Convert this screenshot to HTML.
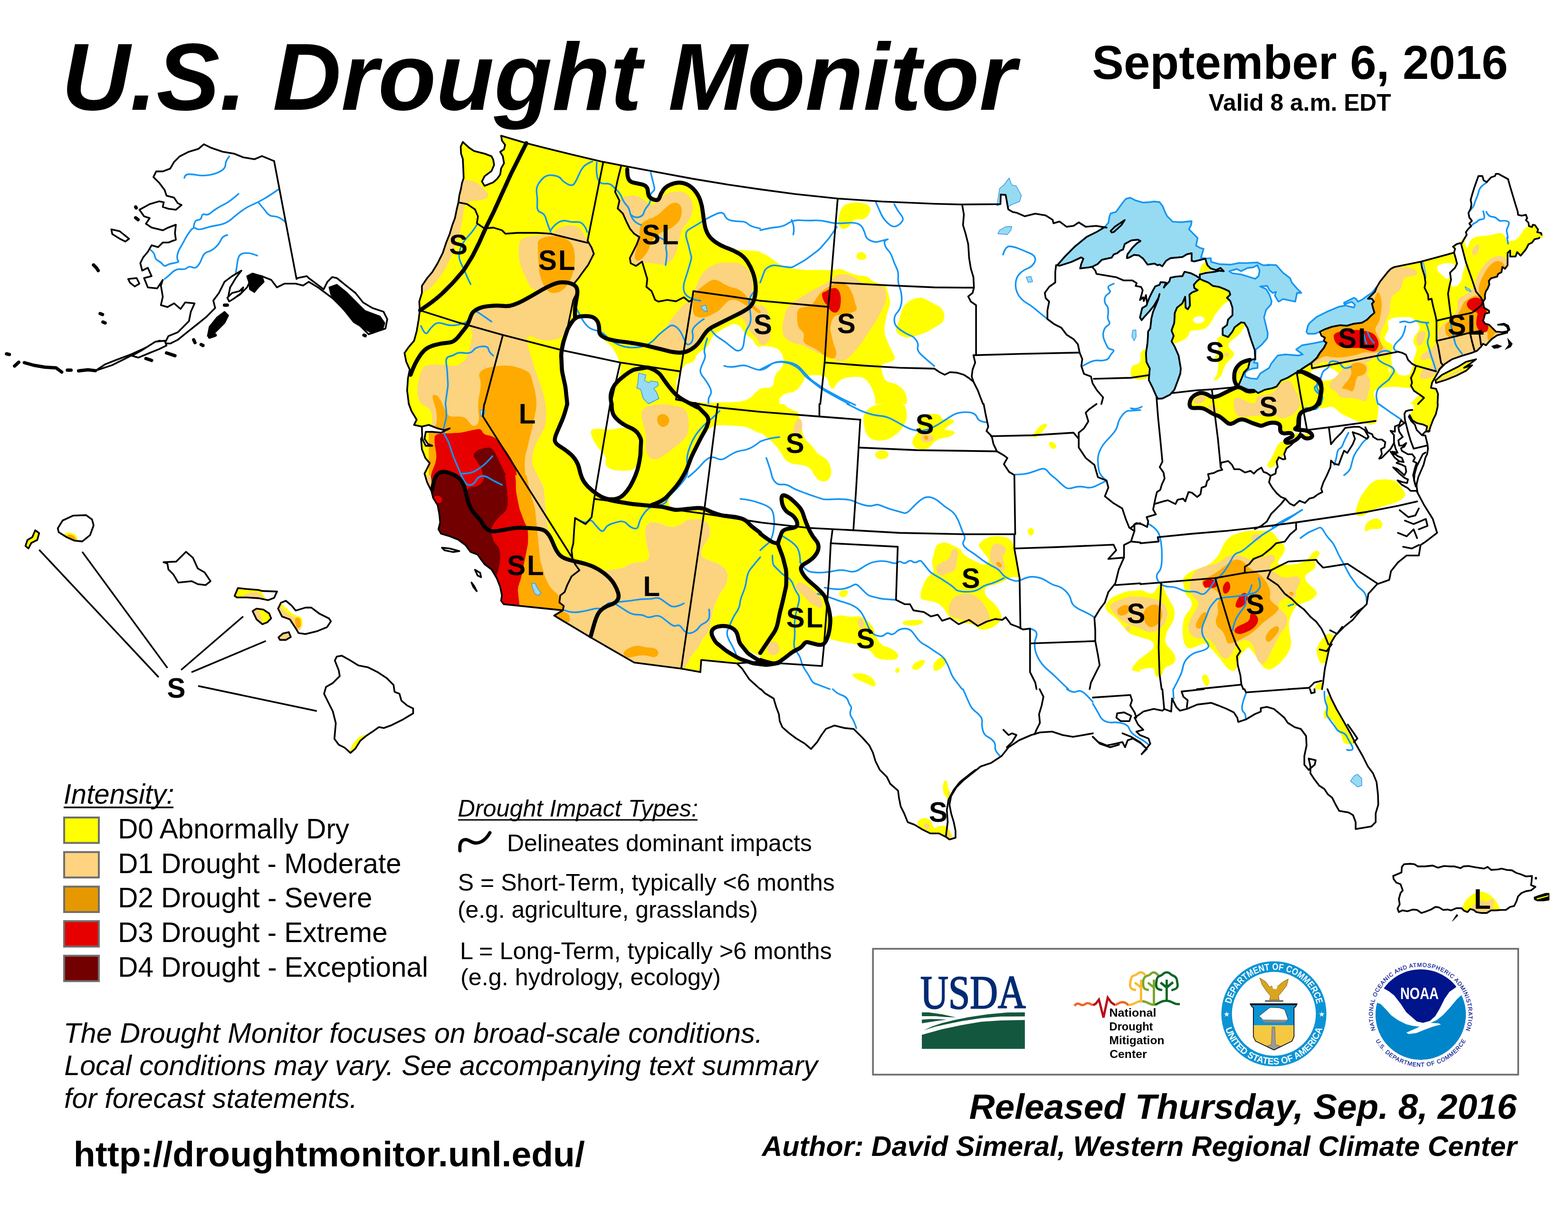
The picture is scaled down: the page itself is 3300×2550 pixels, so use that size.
<!DOCTYPE html>
<html lang="en"><head><meta charset="utf-8"><title>U.S. Drought Monitor - September 6, 2016</title>
<style>html,body{margin:0;padding:0;background:#fff}body{width:3300px;height:2550px;overflow:hidden}svg{display:block}text{font-family:"Liberation Sans", Arial, Helvetica, sans-serif;fill:#000}</style></head><body>
<svg xmlns="http://www.w3.org/2000/svg" width="3300" height="2550" viewBox="0 0 3300 2550">
<rect width="3300" height="2550" fill="#fff"/>
<g id="map">
<defs>
<clipPath id="c0"><rect x="800" y="250" width="800" height="600"/></clipPath>
<clipPath id="c1"><rect x="1600" y="250" width="800" height="600"/></clipPath>
<clipPath id="c2"><rect x="2740" y="500" width="460" height="350"/></clipPath>
<clipPath id="c3"><rect x="800" y="850" width="800" height="600"/></clipPath>
<clipPath id="c4"><rect x="1600" y="850" width="800" height="600"/></clipPath>
<clipPath id="c5"><rect x="2400" y="850" width="800" height="600"/></clipPath>
<clipPath id="c6"><rect x="1500" y="1450" width="800" height="550"/></clipPath>
<clipPath id="c7"><rect x="2300" y="1450" width="1000" height="550"/></clipPath>
<clipPath id="c8"><rect x="2900" y="250" width="400" height="250"/></clipPath>
<clipPath id="c9"><rect x="3200" y="500" width="100" height="350"/></clipPath>
<clipPath id="c10"><rect x="820" y="700" width="400" height="300"/></clipPath>
</defs>
<g id="drought" stroke="none">
<path d="M781.7,231.7 1624.2,231.7 1624.2,872.7 781.7,872.7Z" fill="#FFFF00" clip-path="url(#c0)"/>
<path d="M1581.7,533.4Q1581.7,528.4 1590.8,529.3Q1600,530.2 1609.2,534.8Q1618.3,539.4 1627.5,546.7Q1636.6,554 1645.8,558.6Q1654.9,563.2 1659.9,563.8Q1664.9,564.5 1673.3,565.6Q1681.7,566.7 1686.6,567.3Q1691.6,567.9 1696.6,567.9Q1701.6,567.9 1709.9,567.9Q1718.2,567.9 1723.2,567.9Q1728.2,567.9 1741,568.3Q1753.8,568.7 1761.2,566.5Q1768.5,564.3 1775.8,568.3Q1783.2,572.3 1794.1,576Q1805.1,579.7 1816.1,580.6Q1827.1,581.5 1832.6,587.9Q1838.1,594.3 1850.9,596.2Q1863.7,598 1866.5,607.1Q1869.2,616.3 1872,627.3Q1874.7,638.3 1871.1,647.4Q1867.4,656.6 1865.6,665.8Q1863.7,674.9 1861.9,685.9Q1860.1,696.9 1863.7,707.9Q1867.4,718.9 1872.9,729.9Q1878.4,740.8 1882.1,748.2Q1885.7,755.5 1878.4,759.2Q1871.1,762.8 1861.9,764.7Q1852.7,766.5 1854.6,775.6Q1856.4,784.8 1860.1,794Q1863.7,803.1 1874.7,804.9Q1885.7,806.8 1894.9,814.1Q1904,821.4 1906.8,830.6Q1909.5,839.7 1908.7,844.7Q1907.9,849.6 1906.8,856.2Q1905.7,862.8 1904.9,867.8Q1904,872.7 1899,872.7Q1894,872.7 1742.9,872.7Q1591.7,872.7 1586.7,872.7Q1581.7,872.7 1581.7,867.7Q1581.7,862.7 1581.7,700.5Q1581.7,538.4 1581.7,533.4Z" fill="#FFFF00" clip-path="url(#c1)"/>
<path d="M1764.8,462.5Q1764.8,455.1 1768.5,444.1Q1772.2,433.2 1781.3,429.5Q1790.5,425.8 1805.1,426.2Q1819.8,426.6 1827.1,431.7Q1834.4,436.8 1830.8,446Q1827.1,455.1 1821.6,458.8Q1816.1,462.5 1807,461.5Q1797.8,460.6 1794.1,467Q1790.5,473.4 1785,478Q1779.5,482.6 1774,481.7Q1768.5,480.8 1766.7,475.3Q1764.8,469.8 1764.8,462.5Z" fill="#FFFF00" clip-path="url(#c1)"/>
<path d="M1802.9,541.8Q1800.7,537.5 1804.8,533.3Q1808.8,529.1 1814.3,530.6Q1819.8,532.1 1822.5,536.6Q1825.3,541.2 1821.6,544.3Q1817.9,547.4 1811.5,546.7Q1805.1,546 1802.9,541.8Z" fill="#FFFF00" clip-path="url(#c1)"/>
<path d="M1891.2,676.7Q1893,671.2 1895.8,660.3Q1898.5,649.3 1904.9,641Q1911.4,632.8 1924.2,628.6Q1937,624.4 1944.3,627.7Q1951.6,631 1959,635.5Q1966.3,640.1 1973.6,642.9Q1981,645.6 1985,654.8Q1989,663.9 1986.8,671.2Q1984.6,678.6 1975.5,684.1Q1966.3,689.6 1959,694.1Q1951.6,698.7 1940.7,702.4Q1929.7,706 1920.5,708.8Q1911.4,711.5 1902.2,708.8Q1893,706 1888.5,700.5Q1883.9,695.1 1886.6,688.6Q1889.4,682.2 1891.2,676.7Z" fill="#FFFF00" clip-path="url(#c1)"/>
<path d="M2379.3,785.7Q2378.4,779.3 2384.8,778.4Q2391.2,777.5 2396.2,777.7Q2401.2,778 2407.7,778.4Q2414.2,778.7 2419.2,779Q2424.2,779.3 2424.2,789.4Q2424.2,799.5 2419.2,799.3Q2414.2,799.2 2407.7,799.1Q2401.2,798.9 2396.2,798.8Q2391.2,798.7 2385.7,795.4Q2380.2,792.1 2379.3,785.7Z" fill="#FFFF00" clip-path="url(#c1)"/>
<path d="M2729.5,489.5 3213.9,489.5 3213.9,868.6 2729.5,868.6Z" fill="#FFFF00" clip-path="url(#c2)"/>
<path d="M857.2,847.1Q854.9,842.7 859.9,842.7Q864.9,842.7 886.1,842.7Q907.2,842.7 912.2,842.7Q917.2,842.7 917.2,857.3Q917.2,872 913.6,881.1Q909.9,890.3 906.2,897.6Q902.6,904.9 895.2,901.3Q887.9,897.6 880.6,888.5Q873.3,879.3 871,874.8Q868.8,870.4 864.1,861Q859.4,851.6 857.2,847.1Z" fill="#FFFF00" clip-path="url(#c3)"/>
<path d="M1184.6,835Q1188.3,831.7 1193.3,831.7Q1198.3,831.7 1406.2,831.7Q1614.2,831.7 1619.2,831.7Q1624.2,831.7 1624.2,836.7Q1624.2,841.7 1624.2,1133.9Q1624.2,1426.1 1624.2,1431.1Q1624.2,1436.1 1619.2,1436.1Q1614.2,1436.1 1523.4,1436.1Q1432.7,1436.1 1427.7,1436.1Q1422.7,1436.1 1425.3,1431.8Q1427.9,1427.5 1433.7,1417.8Q1439.5,1408 1442.1,1403.7Q1444.7,1399.5 1450.2,1388.5Q1455.7,1377.5 1463,1370.1Q1470.3,1362.8 1474,1353.7Q1477.7,1344.5 1485,1337.2Q1492.3,1329.9 1494.1,1317Q1496,1304.2 1497.2,1299.4Q1498.4,1294.5 1499.6,1289.6Q1500.9,1284.6 1502.1,1279.8Q1503.3,1274.9 1508.8,1262.1Q1514.3,1249.3 1521.6,1240.1Q1528.9,1231 1530.8,1218.1Q1532.6,1205.3 1527.1,1198Q1521.6,1190.7 1508.8,1185.2Q1496,1179.7 1485,1176Q1474,1172.3 1475.8,1161.4Q1477.7,1150.4 1486.8,1139.4Q1496,1128.4 1494.1,1115.6Q1492.3,1102.7 1485,1097.3Q1477.7,1091.8 1472.7,1092Q1467.7,1092.3 1461.2,1092.7Q1454.7,1093 1449.7,1093.3Q1444.7,1093.6 1437.4,1100Q1430,1106.4 1419,1108.2Q1408.1,1110.1 1397.1,1104.6Q1386.1,1099.1 1375.1,1099.1Q1364.1,1099.1 1360.4,1106.4Q1356.8,1113.7 1358.6,1128.4Q1360.4,1143 1361.7,1147.9Q1362.9,1152.7 1364.1,1157.7Q1365.3,1162.6 1366.6,1167.5Q1367.8,1172.3 1362.3,1177.8Q1356.8,1183.3 1344,1183.3Q1331.1,1183.3 1322,1188.8Q1312.8,1194.3 1307.9,1195.1Q1303,1196 1290.8,1198Q1278.7,1200 1273.8,1200.8Q1268.9,1201.6 1257.9,1196.2Q1246.9,1190.7 1234.1,1187Q1221.2,1183.3 1212.1,1181.5Q1202.9,1179.7 1191.9,1174.2Q1181,1168.7 1173.6,1155.9Q1166.3,1143 1164.4,1138.4Q1162.6,1133.8 1159,1124.7Q1155.4,1115.7 1153.5,1111.1Q1151.6,1106.4 1151.2,1101.4Q1150.7,1096.5 1149.8,1088.1Q1149,1079.7 1148.5,1074.8Q1148,1069.8 1147.6,1064.8Q1147.2,1059.8 1146.2,1047.8Q1145.2,1035.8 1144.7,1030.8Q1144.3,1025.8 1142.1,1021.4Q1139.9,1016.9 1137,1011.2Q1134.1,1005.5 1131.9,1001Q1129.7,996.5 1128.2,991.7Q1126.8,986.9 1124.2,978.2Q1121.6,969.5 1120.1,964.7Q1118.7,959.9 1119.9,955Q1121.1,950.2 1124.2,937.9Q1127.2,925.6 1128.5,920.8Q1129.7,915.9 1131.4,911.3Q1133.2,906.6 1135.2,901.3Q1137.1,896 1138.9,891.3Q1140.7,886.6 1146.2,875.6Q1151.6,864.7 1155.4,861.3Q1159.1,858 1170,848.2Q1180.8,838.4 1184.6,835Z" fill="#FFFF00" clip-path="url(#c3)"/>
<path d="M1581.7,836.7Q1581.7,831.7 1586.7,831.7Q1591.7,831.7 1627.5,831.7Q1663.3,831.7 1668.3,831.7Q1673.3,831.7 1674.1,836.6Q1674.9,841.5 1676,848.2Q1677.1,854.8 1677.9,859.7Q1678.8,864.7 1680,869.5Q1681.2,874.4 1683.3,883Q1685.5,891.6 1686.7,896.4Q1687.9,901.3 1689.7,912.3Q1691.6,923.3 1700.7,930.6Q1709.9,937.9 1715.4,947.1Q1720.9,956.2 1730,959.9Q1739.2,963.6 1744.7,974.5Q1750.2,985.5 1749.3,994.7Q1748.4,1003.8 1743.8,1008.4Q1739.2,1013 1731.9,1013Q1724.5,1013 1719,1006.6Q1713.6,1000.2 1709.9,992.9Q1706.2,985.5 1698.9,981.9Q1691.6,978.2 1678.8,977.3Q1665.9,976.4 1658.6,971.8Q1651.3,967.2 1647.6,959.9Q1644,952.6 1638.5,945.2Q1633,937.9 1625.6,930.6Q1618.3,923.3 1609.2,915.9Q1600,908.6 1590.8,908.6Q1581.7,908.6 1581.7,903.6Q1581.7,898.6 1581.7,870.1Q1581.7,841.7 1581.7,836.7Z" fill="#FFFF00" clip-path="url(#c4)"/>
<path d="M1817,883Q1816.1,872 1825.3,862.8Q1834.4,853.7 1845.4,851.8Q1856.4,850 1861.4,850Q1866.4,850 1880.2,850Q1894,850 1899,850Q1904,850 1906.8,861Q1909.5,872 1907.7,881.1Q1905.9,890.3 1899.5,899.5Q1893,908.6 1885.7,914.1Q1878.4,919.6 1871.1,923.3Q1863.7,926.9 1850.9,926.9Q1838.1,926.9 1830.8,921.4Q1823.4,915.9 1820.7,904.9Q1817.9,894 1817,883Z" fill="#FFFF00" clip-path="url(#c4)"/>
<path d="M1924.2,939.7Q1918.7,934.2 1920.5,926.9Q1922.3,919.6 1929.7,912.3Q1937,904.9 1933.3,895.8Q1929.7,886.6 1937,879.3Q1944.3,872 1955.3,871.1Q1966.3,870.1 1973.6,872Q1981,873.8 1981,878.4Q1981,883 1991.9,882.1Q2002.9,881.1 2006.6,883.9Q2010.3,886.6 2004.8,890.3Q1999.3,894 1991.9,899.5Q1984.6,904.9 1993.8,904.9Q2002.9,904.9 2007.5,907.7Q2012.1,910.4 2005.7,915Q1999.3,919.6 1986.4,921.4Q1973.6,923.3 1968.1,928.8Q1962.6,934.2 1957.1,939.7Q1951.6,945.2 1940.7,945.2Q1929.7,945.2 1924.2,939.7Z" fill="#FFFF00" clip-path="url(#c4)"/>
<path d="M1841.8,956.2Q1841.8,952.6 1847.3,949.8Q1852.7,947.1 1860.1,948Q1867.4,948.9 1869.2,953.5Q1871.1,958.1 1867.4,961.7Q1863.7,965.4 1856.4,965.9Q1849.1,966.5 1845.4,963.2Q1841.8,959.9 1841.8,956.2Z" fill="#FFFF00" clip-path="url(#c4)"/>
<path d="M2176.9,920.5Q2171.4,921.4 2176.9,911.4Q2182.4,901.3 2189.7,895.8Q2197.1,890.3 2201.6,892.1Q2206.2,894 2199.8,901.3Q2193.4,908.6 2187.9,914.1Q2182.4,919.6 2176.9,920.5Z" fill="#FFFF00" clip-path="url(#c4)"/>
<path d="M2208.1,936.1Q2206.2,930.6 2210.8,929.7Q2215.4,928.8 2220,933.3Q2224.5,937.9 2221.8,941.9Q2219,946 2214.5,943.8Q2209.9,941.6 2208.1,936.1Z" fill="#FFFF00" clip-path="url(#c4)"/>
<path d="M2163.2,1119.2Q2162.3,1113.7 2166.8,1111.5Q2171.4,1109.3 2174.7,1113.4Q2178,1117.4 2174.7,1122.9Q2171.4,1128.4 2167.8,1126.6Q2164.1,1124.7 2163.2,1119.2Z" fill="#FFFF00" clip-path="url(#c4)"/>
<path d="M1963.6,1194.3Q1960.8,1183.3 1962,1178.5Q1963.2,1173.6 1965.4,1165Q1967.5,1156.4 1968.8,1151.6Q1970,1146.7 1979.1,1143Q1988.3,1139.4 1995.6,1143Q2002.9,1146.7 2012.1,1150.4Q2021.2,1154 2024.9,1161.4Q2028.6,1168.7 2039.6,1174.2Q2050.5,1179.7 2061.5,1185.2Q2072.5,1190.7 2078,1185.2Q2083.5,1179.7 2080.4,1175.7Q2077.4,1171.8 2070.7,1163.2Q2064,1154.6 2060.9,1150.7Q2057.9,1146.7 2065.2,1139.4Q2072.5,1132.1 2085.3,1129.3Q2098.2,1126.6 2112.8,1129.3Q2127.5,1132.1 2131.1,1143Q2134.8,1154 2138.5,1166.8Q2142.1,1179.7 2142.6,1184.6Q2143.1,1189.6 2144,1198Q2144.8,1206.3 2145.3,1211.3Q2145.8,1216.3 2136.6,1214.5Q2127.5,1212.6 2120.1,1218.1Q2112.8,1223.6 2101.8,1227.3Q2090.8,1231 2081.7,1232.8Q2072.5,1234.6 2072.5,1243.8Q2072.5,1252.9 2081.7,1260.3Q2090.8,1267.6 2098.2,1276.7Q2105.5,1285.9 2107.3,1295.1Q2109.2,1304.2 2098.2,1313.4Q2087.2,1322.5 2074.4,1324.4Q2061.5,1326.2 2057.9,1320.7Q2054.2,1315.2 2049.3,1314.2Q2044.4,1313.2 2035.9,1311.5Q2027.4,1309.8 2022.5,1308.9Q2017.6,1307.9 2006.6,1302.4Q1995.6,1296.9 1991.9,1289.6Q1988.3,1282.2 1981,1274.9Q1973.6,1267.6 1962.6,1265.8Q1951.6,1263.9 1943.4,1262.1Q1935.2,1260.3 1937.9,1247.4Q1940.7,1234.6 1946.2,1223.6Q1951.6,1212.6 1959,1209Q1966.3,1205.3 1963.6,1194.3Z" fill="#FFFF00" clip-path="url(#c4)"/>
<path d="M1746.5,1305.5Q1746.5,1300.5 1757.5,1296.9Q1768.5,1293.2 1779.5,1296Q1790.5,1298.7 1799.6,1296.9Q1808.8,1295.1 1816.1,1299.6Q1823.4,1304.2 1830.8,1311.5Q1838.1,1318.9 1839.9,1328Q1841.8,1337.2 1849.1,1348.2Q1856.4,1359.2 1865.6,1361Q1874.7,1362.8 1883.9,1370.1Q1893,1377.5 1889.4,1383Q1885.7,1388.5 1874.7,1388.5Q1863.7,1388.5 1852.7,1386.6Q1841.8,1384.8 1838.1,1377.5Q1834.4,1370.1 1830,1367.9Q1825.5,1365.7 1819.8,1362.8Q1814.1,1360 1809.6,1357.7Q1805.1,1355.5 1790.5,1353.7Q1775.8,1351.8 1771,1350.6Q1766.1,1349.4 1761.2,1348.2Q1756.2,1346.9 1751.4,1345.7Q1746.5,1344.5 1746.5,1339.5Q1746.5,1334.5 1746.5,1322.5Q1746.5,1310.5 1746.5,1305.5Z" fill="#FFFF00" clip-path="url(#c4)"/>
<path d="M1766.7,1251.1Q1764.8,1245.6 1770.3,1242.9Q1775.8,1240.1 1781.3,1241.9Q1786.8,1243.8 1783.2,1250.2Q1779.5,1256.6 1774,1256.6Q1768.5,1256.6 1766.7,1251.1Z" fill="#FFFF00" clip-path="url(#c4)"/>
<path d="M1899.5,1311.2Q1898.5,1307.9 1906.8,1306Q1915,1304.2 1929.7,1304.2Q1944.3,1304.2 1942.5,1308.8Q1940.7,1313.4 1929.7,1315.2Q1918.7,1317 1909.5,1315.8Q1900.4,1314.5 1899.5,1311.2Z" fill="#FFFF00" clip-path="url(#c4)"/>
<path d="M1923.3,1408.6Q1916.8,1406.8 1921.4,1399.5Q1926,1392.1 1937,1389.4Q1948,1386.6 1946.2,1393Q1944.3,1399.5 1937,1404.9Q1929.7,1410.4 1923.3,1408.6Z" fill="#FFFF00" clip-path="url(#c4)"/>
<path d="M1964.5,1406.8Q1962.6,1399.5 1968.1,1392.1Q1973.6,1384.8 1981,1383Q1988.3,1381.1 1991,1386.6Q1993.8,1392.1 1987.4,1399.5Q1981,1406.8 1973.6,1410.4Q1966.3,1414.1 1964.5,1406.8Z" fill="#FFFF00" clip-path="url(#c4)"/>
<path d="M1885.7,1414.1Q1882.1,1410.4 1885.7,1406.8Q1889.4,1403.1 1892.1,1406.8Q1894.9,1410.4 1892.1,1414.1Q1889.4,1417.8 1885.7,1414.1Z" fill="#FFFF00" clip-path="url(#c4)"/>
<path d="M1796,1423.3Q1790.5,1417.8 1801.5,1416.8Q1812.5,1415.9 1821.6,1418.7Q1830.8,1421.4 1837.2,1428.8Q1843.6,1436.1 1842.7,1441.6Q1841.8,1447.1 1830.8,1441.6Q1819.8,1436.1 1810.6,1432.4Q1801.5,1428.8 1796,1423.3Z" fill="#FFFF00" clip-path="url(#c4)"/>
<path d="M2382.1,1409.5Q2380.2,1406.8 2390.1,1401.3Q2400,1395.8 2406.6,1395.8Q2413.2,1395.8 2413.2,1404.9Q2413.2,1414.1 2398.5,1413.2Q2383.9,1412.3 2382.1,1409.5Z" fill="#FFFF00" clip-path="url(#c4)"/>
<path d="M1644,1040.5 1658.6,1044.1 1676.9,1060.6 1687.9,1073.4 1693.4,1091.8 1700.7,1110.1 1709.9,1128.4 1722.7,1143 1722.7,1157.7 1713.6,1172.3 1698.9,1183.3 1687.9,1188.8 1684.2,1198 1695.2,1216.3 1717.2,1234.6 1735.5,1252.9 1744.7,1282.2 1748.4,1304.2 1744.7,1333.5 1735.5,1355.5 1724.5,1357.3 1695.2,1350 1686.1,1362.8 1669.6,1370.1 1651.3,1384.8 1633,1397.6 1611,1392.1 1600,1388.5 1596.3,1388.5 1596.3,1122.9 1600,1122.9 1614.7,1133.9 1629.3,1143 1636.6,1143 1642.1,1128.4 1647.6,1113.7 1676.9,1110.1 1678.8,1099.1 1669.6,1084.4 1654.9,1077.1 1645.8,1062.5Z" fill="#FFFF00" clip-path="url(#c4)"/>
<path d="M2853.3,1075.3Q2854.2,1069.8 2857.9,1058.8Q2861.5,1047.8 2868.9,1036.8Q2876.2,1025.8 2883.5,1018.5Q2890.8,1011.2 2901.8,1009.3Q2912.8,1007.5 2925.6,1009.3Q2938.5,1011.2 2944,1018.5Q2949.5,1025.8 2954.9,1033.2Q2960.4,1040.5 2953.1,1047.8Q2945.8,1055.1 2933,1058.8Q2920.1,1062.5 2907.3,1066.1Q2894.5,1069.8 2885.3,1075.3Q2876.2,1080.8 2868.9,1084.4Q2861.5,1088.1 2857,1084.4Q2852.4,1080.8 2853.3,1075.3Z" fill="#FFFF00" clip-path="url(#c5)"/>
<path d="M2872.5,1111.9Q2872.5,1102.7 2879.9,1097.3Q2887.2,1091.8 2894.5,1090.8Q2901.8,1089.9 2906.4,1096.3Q2911,1102.7 2908.2,1108.2Q2905.5,1113.7 2894.5,1112.8Q2883.5,1111.9 2878,1116.5Q2872.5,1121.1 2872.5,1111.9Z" fill="#FFFF00" clip-path="url(#c5)"/>
<path d="M2999.3,832Q2997.9,836.8 2993.4,841.4Q2988.8,845.9 2985.1,851.4Q2981.5,856.9 2976.9,859.7Q2972.3,862.4 2969.6,867.9Q2966.8,873.4 2969.6,878.9Q2972.3,884.4 2976.9,887.1Q2981.5,889.9 2988.8,891.7Q2996.1,893.6 2999.8,895.4Q3003.4,897.2 3002.5,901.8Q3001.6,906.4 3006.2,909.1Q3010.8,911.9 3014.6,908.6Q3018.4,905.4 3023.6,900.9Q3028.8,896.4 3032.6,893.1Q3036.4,889.9 3036.4,884.9Q3036.4,879.9 3036.4,844.1Q3036.4,808.3 3036.4,803.3Q3036.4,798.3 3022.7,798.3Q3008.9,798.3 3007.6,803.1Q3006.2,807.9 3003.4,817.5Q3000.7,827.2 2999.3,832Z" fill="#FFFF00" clip-path="url(#c5)"/>
<path d="M2780,847.8Q2780,834.9 2785,834.9Q2790,834.9 2840.4,834.9Q2890.9,834.9 2895.9,834.9Q2900.9,834.9 2900.9,847.8Q2900.9,860.6 2900.4,867.9Q2900,875.2 2898.6,881.6Q2897.2,888.1 2891.7,891.3Q2886.2,894.5 2878.9,893.1Q2871.6,891.7 2862.4,888.1Q2853.3,884.4 2844.1,880.7Q2834.9,877.1 2825.8,871.6Q2816.6,866.1 2813,861.5Q2809.3,856.9 2803.8,856Q2798.3,855.1 2789.2,857.8Q2780,860.6 2780,847.8Z" fill="#FFFF00" clip-path="url(#c5)"/>
<path d="M2974.1,848.2Q2974.1,834.9 2980.5,834Q2987,833.1 2992.5,834.9Q2997.9,836.8 2993.4,841.4Q2988.8,845.9 2985.1,851.4Q2981.5,856.9 2977.8,859.2Q2974.1,861.5 2974.1,848.2Z" fill="#FFFF00" clip-path="url(#c5)"/>
<path d="M2577.7,1141.2Q2583.2,1132.1 2594.1,1126.6Q2605.1,1121.1 2619.8,1118.3Q2634.4,1115.6 2645.4,1116.5Q2656.4,1117.4 2665.6,1116.5Q2674.7,1115.6 2680.2,1122Q2685.7,1128.4 2689.4,1133.9Q2693,1139.4 2698.5,1143Q2704,1146.7 2704,1154Q2704,1161.4 2698.5,1168.7Q2693,1176 2689.4,1181.5Q2685.7,1187 2698.5,1187.9Q2711.4,1188.8 2720.5,1187.9Q2729.7,1187 2740.7,1183.3Q2751.6,1179.7 2757.1,1170.5Q2762.6,1161.4 2768.1,1159.5Q2773.6,1157.7 2776.4,1161.4Q2779.1,1165 2772.7,1172.3Q2766.3,1179.7 2768.1,1187Q2770,1194.3 2764.5,1198Q2759,1201.6 2751.6,1207.1Q2744.3,1212.6 2748,1220Q2751.6,1227.3 2759,1232.8Q2766.3,1238.3 2770,1243.8Q2773.6,1249.3 2768.1,1254.8Q2762.6,1260.3 2755.3,1263.9Q2748,1267.6 2738.8,1269.4Q2729.7,1271.2 2724.2,1280.4Q2718.7,1289.6 2715,1300.5Q2711.4,1311.5 2713.2,1324.4Q2715,1337.2 2716.8,1346.3Q2718.7,1355.5 2715,1364.7Q2711.4,1373.8 2705.9,1381.1Q2700.4,1388.5 2693,1395.8Q2685.7,1403.1 2678.4,1406.8Q2671.1,1410.4 2663.7,1406.8Q2656.4,1403.1 2652.7,1395.8Q2649.1,1388.5 2643.6,1381.1Q2638.1,1373.8 2632.6,1366.5Q2627.1,1359.2 2623.4,1364.7Q2619.8,1370.1 2614.3,1373.8Q2608.8,1377.5 2607,1388.5Q2605.1,1399.5 2601.5,1406.8Q2597.8,1414.1 2590.5,1410.4Q2583.2,1406.8 2577.7,1399.5Q2572.2,1392.1 2566.7,1384.8Q2561.2,1377.5 2553.8,1370.1Q2546.5,1362.8 2541,1357.3Q2535.5,1351.8 2528.2,1355.5Q2520.9,1359.2 2511.7,1362.8Q2502.6,1366.5 2497.1,1361Q2491.6,1355.5 2489.7,1340.8Q2487.9,1326.2 2489.7,1311.5Q2491.6,1296.9 2498.9,1289.6Q2506.2,1282.2 2508.1,1273.1Q2509.9,1263.9 2502.6,1258.4Q2495.2,1252.9 2493.4,1243.8Q2491.6,1234.6 2489.7,1225.5Q2487.9,1216.3 2497.1,1209Q2506.2,1201.6 2517.2,1198Q2528.2,1194.3 2537.4,1190.7Q2546.5,1187 2555.7,1177.8Q2564.8,1168.7 2568.5,1159.5Q2572.2,1150.4 2577.7,1141.2Z" fill="#FFFF00" clip-path="url(#c5)"/>
<path d="M2770.9,1372Q2770,1362.8 2777.3,1351.8Q2784.6,1340.8 2791.9,1335.3Q2799.3,1329.9 2806.6,1337.2Q2813.9,1344.5 2808.4,1353.7Q2802.9,1362.8 2799.3,1375.6Q2795.6,1388.5 2788.3,1394Q2781,1399.5 2776.4,1390.3Q2771.8,1381.1 2770.9,1372Z" fill="#FFFF00" clip-path="url(#c5)"/>
<path d="M2766.3,1450.7Q2766.3,1443.4 2773.6,1437.9Q2781,1432.4 2786.4,1445.2Q2791.9,1458.1 2779.1,1458.1Q2766.3,1458.1 2766.3,1450.7Z" fill="#FFFF00" clip-path="url(#c5)"/>
<path d="M2530,1428.8Q2528.2,1421.4 2533.7,1419.6Q2539.2,1417.8 2542.9,1425.1Q2546.5,1432.4 2543.8,1439.7Q2541,1447.1 2536.4,1441.6Q2531.9,1436.1 2530,1428.8Z" fill="#FFFF00" clip-path="url(#c5)"/>
<path d="M1984.4,1661.9Q1983.5,1656.4 1985.3,1649.1Q1987.2,1641.8 1989.9,1641.8Q1992.7,1641.8 1993.6,1649.1Q1994.5,1656.4 1997.3,1661.9Q2000,1667.4 1999.1,1674.7Q1998.2,1682.1 1994.5,1680.2Q1990.8,1678.4 1988.1,1672.9Q1985.3,1667.4 1984.4,1661.9Z" fill="#FFFF00" clip-path="url(#c6)"/>
<path d="M1934.1,1738.8Q1928.6,1733.3 1932.2,1727.8Q1935.9,1722.3 1943.2,1721.4Q1950.5,1720.5 1956,1725.1Q1961.5,1729.7 1963.4,1737Q1965.2,1744.3 1970.7,1740.7Q1976.2,1737 1983.5,1737Q1990.8,1737 1994.5,1742.5Q1998.2,1748 2001.8,1753.5Q2005.5,1759 2001.8,1762.6Q1998.2,1766.3 1987.2,1759.9Q1976.2,1753.5 1967,1753.5Q1957.9,1753.5 1948.7,1748.9Q1939.6,1744.3 1934.1,1738.8Z" fill="#FFFF00" clip-path="url(#c6)"/>
<path d="M2383.3,1408.2Q2378.8,1403.7 2390.7,1401.8Q2402.6,1400 2407.6,1400Q2412.6,1400 2426.4,1400Q2440.2,1400 2445.2,1400Q2450.2,1400 2448.4,1409.2Q2446.5,1418.3 2440.1,1422.9Q2433.7,1427.5 2431.9,1419.2Q2430,1411 2420,1410.1Q2409.9,1409.2 2398.9,1411Q2387.9,1412.8 2383.3,1408.2Z" fill="#FFFF00" clip-path="url(#c7)"/>
<path d="M2531.7,1431.1Q2528.9,1418.3 2534.4,1418.3Q2539.9,1418.3 2543.6,1425.6Q2547.3,1433 2544.5,1439.4Q2541.8,1445.8 2538.1,1444.9Q2534.4,1444 2531.7,1431.1Z" fill="#FFFF00" clip-path="url(#c7)"/>
<path d="M2569.2,1402.7Q2563.7,1396.3 2568.7,1396.3Q2573.7,1396.3 2587.5,1396.3Q2601.4,1396.3 2606.4,1396.3Q2611.4,1396.3 2610.4,1405.5Q2609.5,1414.7 2604,1416.5Q2598.5,1418.3 2594,1412.8Q2589.4,1407.3 2582.1,1408.2Q2574.7,1409.2 2569.2,1402.7Z" fill="#FFFF00" clip-path="url(#c7)"/>
<path d="M2653.5,1401.8Q2648,1396.3 2653,1396.3Q2658,1396.3 2668.1,1396.3Q2678.3,1396.3 2683.3,1396.3Q2688.3,1396.3 2682.8,1402.7Q2677.3,1409.2 2668.1,1408.2Q2659,1407.3 2653.5,1401.8Z" fill="#FFFF00" clip-path="url(#c7)"/>
<path d="M2768.9,1440.3Q2768.9,1436.6 2772.5,1431.1Q2776.2,1425.6 2785.3,1427.5Q2794.5,1429.3 2794.5,1438.5Q2794.5,1447.6 2785.3,1450.4Q2776.2,1453.1 2772.5,1448.5Q2768.9,1444 2768.9,1440.3Z" fill="#FFFF00" clip-path="url(#c7)"/>
<path d="M2791.8,1465.9Q2792.7,1458.6 2802.7,1467.8Q2812.8,1476.9 2816.5,1486.1Q2820.1,1495.2 2823.8,1502.6Q2827.5,1509.9 2833,1515.4Q2838.5,1520.9 2844,1530Q2849.5,1539.2 2853.1,1546.5Q2856.8,1553.8 2856.8,1559.3Q2856.8,1564.8 2845.8,1565.8Q2834.8,1566.7 2830.2,1563.9Q2825.6,1561.2 2824.7,1553.8Q2823.8,1546.5 2818.3,1541Q2812.8,1535.5 2810.1,1526.4Q2807.3,1517.2 2800.9,1513.6Q2794.5,1509.9 2790.8,1511.7Q2787.2,1513.6 2786.3,1506.2Q2785.3,1498.9 2789,1493.4Q2792.7,1487.9 2791.8,1480.6Q2790.8,1473.3 2791.8,1465.9Z" fill="#FFFF00" clip-path="url(#c7)"/>
<path d="M2526.2,564.8Q2527.4,560.3 2532,554.5Q2536.5,548.8 2540,554.5Q2543.4,560.3 2546.8,564.8Q2550.3,569.4 2540,571.1Q2529.7,572.8 2526.2,575.7Q2522.8,578.6 2523.9,574Q2525.1,569.4 2526.2,564.8Z" fill="#FFFF00"/>
<path d="M2463.3,588.2Q2463.3,583.2 2468.3,583.2Q2473.3,583.2 2532,583.2Q2590.6,583.2 2595.6,583.2Q2600.6,583.2 2600.6,588.2Q2600.6,593.2 2600.6,606Q2600.6,618.9 2600.6,623.9Q2600.6,628.9 2593.8,630.7Q2586.9,632.4 2582.3,635.2Q2577.7,638.1 2574.3,641.5Q2570.9,645 2565.2,651.8Q2559.4,658.7 2556,664.4Q2552.6,670.1 2549.1,677Q2545.7,683.9 2540,688.5Q2534.2,693 2525.1,694.2Q2515.9,695.3 2510.2,695.3Q2504.5,695.3 2503.3,699.9Q2502.2,704.5 2498.8,709.1Q2495.3,713.6 2489.6,715.9Q2483.9,718.2 2479.3,720.5Q2474.7,722.8 2469,721.7Q2463.3,720.5 2463.3,715.5Q2463.3,710.5 2463.3,651.8Q2463.3,593.2 2463.3,588.2Z" fill="#FFFF00"/>
<path d="M2564,719.4Q2557.1,713.6 2566.3,709.1Q2575.5,704.5 2582.3,701.1Q2589.2,697.6 2593.8,693Q2598.4,688.5 2605.2,683.9Q2612.1,679.3 2616.7,681.6Q2621.2,683.9 2617.8,689.6Q2614.4,695.3 2610.9,699.9Q2607.5,704.5 2602.9,707.9Q2598.4,711.4 2592.6,715.9Q2586.9,720.5 2585.8,725.1Q2584.6,729.7 2589.2,734.2Q2593.8,738.8 2596.1,741.1Q2598.4,743.4 2596.1,748Q2593.8,752.6 2589.2,754.9Q2584.6,757.1 2582.3,761.7Q2580,766.3 2575.5,772Q2570.9,777.7 2566.3,777.7Q2561.7,777.7 2564,767.4Q2566.3,757.1 2562.9,750.3Q2559.4,743.4 2565.2,734.2Q2570.9,725.1 2564,719.4Z" fill="#FFFF00"/>
<path d="M2400.3,753.7Q2399.2,743.4 2402.6,739.4Q2406,735.4 2410.6,734.8Q2415.2,734.2 2414.1,748Q2412.9,761.7 2416.3,769.7Q2419.8,777.7 2414.8,777.7Q2409.8,777.7 2399.2,777.7Q2388.6,777.7 2383.6,777.7Q2378.6,777.7 2380.9,773.2Q2383.2,768.6 2392.3,766.3Q2401.5,764 2400.3,753.7Z" fill="#FFFF00"/>
<path d="M2508.2,838.4 2517.4,830.4 2528.8,827 2540.3,830.4 2550.6,836.2 2563.2,833.9 2574.6,828.1 2586,822.4 2595.2,817.8 2605.5,813.3 2615.8,816.7 2627.3,821.3 2638.7,820.1 2647.9,827 2661.6,820.1 2677.6,816.7 2686.8,813.3 2695.9,800.7 2709.7,794.9 2732.6,781.2 2739.4,781.2 2750.9,785.8 2764.6,792.7 2778.4,799.5 2781.8,815.5 2778.4,836.2 2773.8,849.9 2764.6,859 2746.3,863.6 2737.1,868.2 2732.6,879.7 2732.6,898 2723.4,902.5 2718.8,911.7 2712,910.6 2700.5,912.8 2693.6,907.1 2694.8,895.7 2689.1,890 2677.6,888.8 2666.2,891.1 2654.7,896.8 2645.6,893.4 2631.8,888.8 2622.7,884.2 2613.5,881.9 2604.4,884.2 2595.2,891.1 2586,892.2 2576.9,884.2 2565.4,875.1 2556.3,872.8 2544.8,865.9 2533.4,859 2521.9,857.9 2508.2,859 2503.6,854.5 2504.8,845.3Z" fill="#FFFF00"/>
<path d="M2609.5,805.2Q2605.5,813.3 2602.1,809.8Q2598.6,806.4 2598.1,798.4Q2597.5,790.4 2598.6,783.5Q2599.8,776.6 2604.4,770.9Q2608.9,765.2 2614.7,762.9Q2620.4,760.6 2625,759.5Q2629.5,758.3 2627.8,766.3Q2626.1,774.3 2622.1,778.9Q2618.1,783.5 2615.8,790.4Q2613.5,797.2 2609.5,805.2Z" fill="#FFFF00"/>
<path d="M2667.3,980.4Q2666.2,978.1 2670.8,971.2Q2675.3,964.4 2678.8,957.5Q2682.2,950.6 2685.6,942.6Q2689.1,934.6 2693.6,931.2Q2698.2,927.7 2702.8,928.9Q2707.4,930 2713.1,930Q2718.8,930 2714.2,934.6Q2709.7,939.2 2707.4,944.9Q2705.1,950.6 2702.8,955.2Q2700.5,959.8 2694.8,964.4Q2689.1,968.9 2685.6,974.7Q2682.2,980.4 2678.8,982.7Q2675.3,985 2671.9,983.8Q2668.5,982.7 2667.3,980.4Z" fill="#FFFF00"/>
<path d="M2740.6,919.1Q2737.1,916.3 2741.7,914Q2746.3,911.7 2750.9,912.8Q2755.5,914 2756.6,916.3Q2757.7,918.6 2754.3,920.9Q2750.9,923.2 2747.4,922.6Q2744,922 2740.6,919.1Z" fill="#FFFF00"/>
<path d="M2721.1,917.4Q2721.1,914 2726.8,911.7Q2732.6,909.4 2733.7,912.8Q2734.9,916.3 2731.4,919.7Q2728,923.2 2724.6,922Q2721.1,920.9 2721.1,917.4Z" fill="#FFFF00"/>
<path d="M2380,781.8Q2380,769.8 2386.9,769.2Q2393.7,768.6 2398.3,765.8Q2402.9,762.9 2401.7,756Q2400.6,749.2 2401.7,744.6Q2402.9,740 2407.5,740Q2412.1,740 2413.8,751.4Q2415.5,762.9 2415.7,767.9Q2415.8,772.9 2416.1,778.9Q2416.3,785 2416.5,789.9Q2416.6,794.9 2409.8,797.2Q2402.9,799.5 2396,798.4Q2389.2,797.2 2384.6,795.5Q2380,793.8 2380,781.8Z" fill="#FFFF00"/>
<path d="M2567.7,744.6Q2581.5,740 2589.5,741.1Q2597.5,742.3 2595.2,748Q2592.9,753.7 2587.2,758.3Q2581.5,762.9 2578,769.8Q2574.6,776.6 2572.3,784.6Q2570,792.7 2564.3,796.7Q2558.6,800.7 2555.7,800.1Q2552.8,799.5 2556.9,794.9Q2560.9,790.4 2562,783.5Q2563.2,776.6 2564.3,770.9Q2565.4,765.2 2562,761.7Q2558.6,758.3 2556.3,753.7Q2554,749.2 2567.7,744.6Z" fill="#FFFF00"/>
<path d="M2773.8,849.9 2895.1,849.9 2895.1,891.1 2880,891.1 2849.3,881.9 2826.4,872.8 2815,863.6 2803.5,854.5 2782.9,859 2764.6,859Z" fill="#FFFF00"/>
<path d="M3094.1,513.2Q3094.1,505 3099.6,501.3Q3105.1,497.7 3112.5,497.2Q3119.8,496.7 3128.9,495.8Q3138.1,494.9 3145.4,492.6Q3152.7,490.3 3157.3,490.3Q3161.9,490.3 3164.7,494Q3167.4,497.7 3170.1,504.1Q3172.9,510.5 3174.7,508.6Q3176.6,506.8 3181.1,506.8Q3185.7,506.8 3190.3,504.1Q3194.9,501.3 3198.5,495.8Q3202.2,490.3 3205.9,484.8Q3209.5,479.3 3213.2,477.5Q3216.8,475.7 3220.5,476.6Q3224.2,477.5 3227.4,472Q3230.6,466.5 3239.3,474.8Q3248,483 3248,493.1Q3248,503.2 3245.7,507.6Q3243.5,512.1 3238.8,521.5Q3234.1,530.8 3231.9,535.3Q3229.7,539.8 3224.9,541.3Q3220.1,542.8 3215,544.4Q3209.9,546 3205.1,547.4Q3200.4,548.9 3187.5,548.9Q3174.7,548.9 3169.9,547.7Q3165,546.5 3156.4,544.4Q3147.8,542.2 3142.9,541Q3138.1,539.8 3133.5,537.9Q3128.9,535.9 3116.1,530.6Q3103.4,525.3 3098.8,523.4Q3094.1,521.5 3094.1,513.2Z" fill="#FFFF00" clip-path="url(#c8)"/>
<path d="M3094.1,513.2Q3094.1,505 3099.6,501.3Q3105.1,497.7 3112.5,497.2Q3119.8,496.7 3128.9,495.8Q3138.1,494.9 3145.4,492.6Q3152.7,490.3 3157.3,490.3Q3161.9,490.3 3164.7,494Q3167.4,497.7 3170.1,504.1Q3172.9,510.5 3174.7,508.6Q3176.6,506.8 3181.1,506.8Q3185.7,506.8 3190.3,504.1Q3194.9,501.3 3198.5,495.8Q3202.2,490.3 3205.9,484.8Q3209.5,479.3 3213.2,477.5Q3216.8,475.7 3220.5,476.6Q3224.2,477.5 3227.4,472Q3230.6,466.5 3239.3,474.8Q3248,483 3248,493.1Q3248,503.2 3245.7,507.6Q3243.5,512.1 3238.8,521.5Q3234.1,530.8 3231.9,535.3Q3229.7,539.8 3224.9,541.3Q3220.1,542.8 3215,544.4Q3209.9,546 3205.1,547.4Q3200.4,548.9 3187.5,548.9Q3174.7,548.9 3169.9,547.7Q3165,546.5 3156.4,544.4Q3147.8,542.2 3142.9,541Q3138.1,539.8 3133.5,537.9Q3128.9,535.9 3116.1,530.6Q3103.4,525.3 3098.8,523.4Q3094.1,521.5 3094.1,513.2Z" fill="#FFFF00" clip-path="url(#c9)"/>
<path d="M2327.1,1280.8Q2324.5,1274.5 2332.1,1265.7Q2339.7,1256.9 2344.3,1254.9Q2348.9,1253 2354.8,1250.6Q2360.6,1248.1 2365.3,1246.2Q2369.9,1244.3 2374.9,1243.9Q2379.8,1243.6 2387.5,1243Q2395.2,1242.5 2400.1,1242.1Q2405.1,1241.8 2415.2,1246.8Q2425.3,1251.8 2430.3,1244.3Q2435.3,1236.7 2440.4,1229.2Q2445.4,1221.6 2447.9,1231.7Q2450.5,1241.8 2455.5,1251.8Q2460.5,1261.9 2466.8,1272Q2473.1,1282.1 2471.9,1294.6Q2470.6,1307.2 2463,1317.3Q2455.5,1327.4 2453,1340Q2450.5,1352.6 2458,1360.1Q2465.6,1367.7 2470.6,1375.2Q2475.6,1382.8 2473.1,1390.3Q2470.6,1397.9 2460.5,1400.4Q2450.5,1402.9 2447.9,1413Q2445.4,1423.1 2437.9,1424.3Q2430.3,1425.6 2430.3,1414.3Q2430.3,1402.9 2417.7,1405.4Q2405.1,1408 2392.5,1409.2Q2379.9,1410.5 2385,1401.7Q2390,1392.9 2400.1,1385.3Q2410.2,1377.7 2420.2,1370.2Q2430.3,1362.6 2427.8,1355.1Q2425.3,1347.5 2415.2,1345Q2405.1,1342.5 2400.4,1340.9Q2395.6,1339.3 2390,1337.5Q2384.4,1335.6 2379.7,1334Q2374.9,1332.4 2367.4,1322.3Q2359.8,1312.3 2352.2,1304.7Q2344.7,1297.2 2337.1,1292.1Q2329.6,1287.1 2327.1,1280.8Z" fill="#FFFF00"/>
<path d="M1318.3,318.3Q1318.3,323.3 1318.5,328.3Q1318.7,333.3 1319.2,347.1Q1319.8,360.9 1320,365.9Q1320.1,370.9 1322.9,376.7Q1325.6,382.6 1330.5,383.6Q1335.4,384.7 1341.2,385.9Q1347,387.1 1351.9,388.2Q1356.8,389.2 1360.1,392.9Q1363.4,396.5 1364.7,404.8Q1365.9,413 1376,417.6Q1386.1,422.2 1388.3,414.8Q1390.5,407.5 1395.6,400.2Q1400.7,392.9 1409.9,388.8Q1419,384.8 1428.2,384.2Q1437.4,383.7 1446.5,388.3Q1455.7,392.9 1463,402Q1470.3,411.2 1474,422.2Q1477.7,433.2 1479.1,446Q1480.6,458.8 1482.8,471.6Q1485,484.4 1490.5,493.6Q1496,502.7 1507,510.1Q1517.9,517.4 1522.8,518.7Q1527.6,520.1 1532.6,521.4Q1537.6,522.8 1542.4,524.1Q1547.3,525.5 1560.1,526Q1572.9,526.6 1586.4,527.8Q1600,529.1 1605,529.3Q1610,529.4 1621.2,529.7Q1632.5,530 1637.5,530.1Q1642.5,530.2 1642.5,525.2Q1642.5,520.2 1642.5,371.8Q1642.5,223.4 1642.5,218.4Q1642.5,213.4 1637.5,213.4Q1632.5,213.4 1480.4,213.4Q1328.3,213.4 1323.3,213.4Q1318.3,213.4 1318.3,218.4Q1318.3,223.4 1318.3,268.3Q1318.3,313.3 1318.3,318.3Z" fill="#FFFFFF" clip-path="url(#c0)"/>
<path d="M1203.8,679.5Q1212.1,669.4 1220.3,668.1Q1228.6,666.8 1238.6,667.2Q1248.7,667.6 1253.7,672.2Q1258.6,676.7 1259.7,685Q1260.8,693.2 1260.4,698.7Q1260.1,704.2 1266.3,710.6Q1272.5,717 1278.9,721.6Q1285.3,726.2 1289.9,733.5Q1294.5,740.8 1298.2,748.2Q1301.8,755.5 1304.6,762.8Q1307.3,770.1 1305.5,781.1Q1303.7,792.1 1301.9,796.8Q1300.2,801.5 1298.2,806.8Q1296.2,812.1 1294.4,816.7Q1292.7,821.4 1291.8,826.4Q1290.9,831.3 1288.1,847.1Q1285.3,862.9 1284.4,867.8Q1283.5,872.7 1278.5,872.7Q1273.5,872.7 1238.6,872.7Q1203.8,872.7 1198.8,872.7Q1193.8,872.7 1193.5,867.7Q1193.3,862.7 1192.5,845.2Q1191.7,827.8 1191.4,822.8Q1191.2,817.8 1190.1,812.9Q1189,808 1187,799.5Q1185,790.9 1183.9,786Q1182.8,781.1 1182.5,776.1Q1182.3,771.1 1181.9,762.8Q1181.5,754.5 1181.2,749.5Q1181,744.5 1182.8,731.7Q1184.6,718.9 1186.4,714.2Q1188.1,709.5 1190.1,704.2Q1192.1,698.9 1193.8,694.2Q1195.6,689.6 1203.8,679.5Z" fill="#FFFFFF" clip-path="url(#c0)"/>
<path d="M1581.7,734.9Q1581.7,729.9 1586.7,729.6Q1591.7,729.3 1598.2,728.9Q1604.7,728.6 1609.7,728.3Q1614.7,728 1625.6,732.6Q1636.6,737.2 1642.1,744.5Q1647.6,751.8 1644,757.3Q1640.3,762.8 1631.1,761.9Q1622,761 1611,761.9Q1600,762.8 1590.8,762.8Q1581.7,762.8 1581.7,757.8Q1581.7,752.8 1581.7,746.3Q1581.7,739.9 1581.7,734.9Z" fill="#FFFFFF" clip-path="url(#c1)"/>
<path d="M1691.6,801.3Q1691.6,792.1 1700.7,790.3Q1709.9,788.5 1718.1,790.3Q1726.4,792.1 1725.5,803.1Q1724.5,814.1 1715.4,817.8Q1706.2,821.4 1698.9,815.9Q1691.6,810.4 1691.6,801.3Z" fill="#FFFFFF" clip-path="url(#c1)"/>
<path d="M1640.3,841.1Q1640.3,836.1 1649.5,830.6Q1658.6,825.1 1671.4,826Q1684.2,826.9 1687.9,835.2Q1691.6,843.4 1689.7,858.1Q1687.9,872.7 1682.9,872.7Q1677.9,872.7 1664.1,872.7Q1650.3,872.7 1645.3,872.7Q1640.3,872.7 1640.3,867.7Q1640.3,862.7 1640.3,854.4Q1640.3,846.1 1640.3,841.1Z" fill="#FFFFFF" clip-path="url(#c1)"/>
<path d="M1752,823.3Q1757.5,810.4 1764.8,803.1Q1772.2,795.8 1785,794Q1797.8,792.1 1808.8,793Q1819.8,794 1827.1,804Q1834.4,814.1 1838.1,825.1Q1841.8,836.1 1841.8,841.1Q1841.8,846.1 1841.8,854.4Q1841.8,862.7 1841.8,867.7Q1841.8,872.7 1836.8,872.7Q1831.8,872.7 1801.5,872.7Q1771.2,872.7 1766.2,872.7Q1761.2,872.7 1759.3,868.1Q1757.5,863.4 1753.8,854.4Q1750.2,845.4 1748.4,840.7Q1746.5,836.1 1752,823.3Z" fill="#FFFFFF" clip-path="url(#c1)"/>
<path d="M3024.3,566.3Q3022.2,561.1 3028.6,557.9Q3034.9,554.8 3043.3,553.7Q3051.7,552.7 3057,554.8Q3062.3,556.9 3063.3,560Q3064.4,563.2 3059.1,568.5Q3053.8,573.7 3052.8,579Q3051.7,584.2 3048.6,586.4Q3045.4,588.5 3041.2,584.2Q3037,580 3031.7,575.8Q3026.4,571.6 3024.3,566.3Z" fill="#FFFFFF" clip-path="url(#c2)"/>
<path d="M3062.8,530.5Q3061.2,519 3068,513.7Q3074.9,508.4 3076,513.3Q3077,518.2 3078.6,525.3Q3080.1,532.4 3081.2,537.2Q3082.3,542.1 3083.8,550.5Q3085.4,559 3082.3,564.2Q3079.1,569.5 3078,576.9Q3077,584.2 3075.4,589.5Q3073.8,594.8 3069.1,599Q3064.4,603.2 3059.6,603.2Q3054.9,603.2 3053.3,596.9Q3051.7,590.6 3052.8,582.1Q3053.8,573.7 3058.6,568.5Q3063.3,563.2 3065.4,559Q3067.5,554.8 3065.9,548.4Q3064.4,542.1 3062.8,530.5Z" fill="#FFFFFF" clip-path="url(#c2)"/>
<path d="M2921.1,679Q2921.1,674.8 2925.3,671.7Q2929.6,668.5 2940.1,667.4Q2950.6,666.4 2961.2,666.9Q2971.7,667.4 2974.8,671.1Q2978,674.8 2982.2,679Q2986.4,683.2 2987.5,686.4Q2988.5,689.6 2986.4,693.8Q2984.3,698 2980.1,703.3Q2975.9,708.5 2974.8,714.8Q2973.8,721.2 2978,726.4Q2982.2,731.7 2981.2,738Q2980.1,744.3 2977,750.6Q2973.8,757 2974.8,761.2Q2975.9,765.4 2973.8,769.6Q2971.7,773.8 2969.6,781.2Q2967.5,788.6 2961.2,789.6Q2954.8,790.7 2948.5,789.6Q2942.2,788.6 2940.1,783.3Q2938,778 2933.8,774.9Q2929.6,771.7 2928.5,762.2Q2927.5,752.7 2928.5,746.4Q2929.6,740.1 2930.6,735.9Q2931.7,731.7 2930.6,727.5Q2929.6,723.3 2924.3,721.2Q2919,719 2915.9,715.9Q2912.7,712.7 2914.8,707.5Q2916.9,702.2 2920.1,698Q2923.2,693.8 2922.2,688.5Q2921.1,683.2 2921.1,679Z" fill="#FFFFFF" clip-path="url(#c2)"/>
<path d="M2759.5,785.4Q2757.9,780.1 2764.7,778Q2771.6,775.9 2784.2,773.8Q2796.9,771.7 2804.2,775.9Q2811.6,780.1 2815.8,784.3Q2820,788.6 2814.8,791.7Q2809.5,794.9 2802.1,798Q2794.8,801.2 2787.4,801.2Q2780,801.2 2770.5,795.9Q2761.1,790.7 2759.5,785.4Z" fill="#FFFFFF" clip-path="url(#c2)"/>
<path d="M2891.6,830.7Q2889.5,824.4 2894.8,821.2Q2900.1,818 2909.6,815.9Q2919,813.8 2930.6,813.8Q2942.2,813.8 2949.6,814.9Q2956.9,815.9 2963.3,815.9Q2969.6,815.9 2973.8,819.1Q2978,822.3 2983.3,826.5Q2988.5,830.7 2984.3,833.8Q2980.1,837 2975.9,841.2Q2971.7,845.4 2968.3,849.1Q2965,852.8 2961.2,857Q2957.3,861.2 2954,864.9Q2950.6,868.6 2945.6,868.6Q2940.6,868.6 2927.5,868.6Q2914.3,868.6 2909.3,868.6Q2904.3,868.6 2902.7,863.8Q2901.1,859.1 2899,852.8Q2896.9,846.5 2895.3,841.7Q2893.8,837 2891.6,830.7Z" fill="#FFFFFF" clip-path="url(#c2)"/>
<path d="M2922.4,780.3Q2921.6,775.9 2924,774.9Q2926.4,773.8 2927.1,777.5Q2927.9,781.2 2925.6,783Q2923.2,784.8 2922.4,780.3Z" fill="#FFFFFF" clip-path="url(#c2)"/>
<path d="M3079.9,489.5Q3074.9,489.5 3078,496.8Q3081.2,504.2 3084.4,514.7Q3087.5,525.3 3089.1,520Q3090.7,514.7 3092.4,509.9Q3094.1,505.1 3099.6,501.4Q3105.2,497.7 3112.2,493.6Q3119.1,489.5 3114.1,489.5Q3109.1,489.5 3097,489.5Q3084.9,489.5 3079.9,489.5Z" fill="#FFFFFF" clip-path="url(#c2)"/>
<path d="M3168.8,490.3Q3163.8,490.3 3165.6,494Q3167.4,497.7 3170.1,504.1Q3172.8,510.5 3174.7,508.6Q3176.6,506.7 3181.1,506.7Q3185.7,506.7 3190.3,504Q3194.9,501.3 3198.5,495.8Q3202.1,490.3 3197.1,490.3Q3192.1,490.3 3182.9,490.3Q3173.8,490.3 3168.8,490.3Z" fill="#FFFFFF" clip-path="url(#c2)"/>
<path d="M1198.8,850Q1193.8,850 1191,861Q1188.3,872 1182.8,884.8Q1177.3,897.6 1171.8,910.4Q1166.3,923.3 1168.1,928.8Q1170,934.2 1179.1,939.7Q1188.3,945.2 1197.4,952.6Q1206.6,959.9 1212.1,969Q1217.6,978.2 1219.4,987.4Q1221.2,996.5 1224.9,1005.7Q1228.6,1014.8 1237.7,1024Q1246.9,1033.2 1257.9,1040.5Q1268.9,1047.8 1278,1049.6Q1287.2,1051.5 1296.3,1049.6Q1305.5,1047.8 1312.8,1040.5Q1320.1,1033.2 1325.6,1024Q1331.1,1014.8 1336.6,1002Q1342.1,989.2 1344.9,974.5Q1347.6,959.9 1347.9,954.9Q1348.1,949.9 1348.5,941.6Q1349,933.2 1349.2,928.3Q1349.5,923.3 1344,914.1Q1338.5,904.9 1325.6,899.5Q1312.8,894 1303.7,886.6Q1294.5,879.3 1290.8,872Q1287.2,864.7 1287.2,857.3Q1287.2,850 1282.2,850Q1277.2,850 1240.5,850Q1203.8,850 1198.8,850Z" fill="#FFFFFF" clip-path="url(#c3)"/>
<path d="M1488.6,906.8Q1496,897.6 1507,895.8Q1517.9,894 1522.9,894.3Q1527.9,894.7 1543.6,895.8Q1559.3,896.9 1564.2,897.3Q1569.2,897.6 1573.7,899.8Q1578.3,901.9 1584.6,904.9Q1591,908 1595.5,910.1Q1600,912.3 1612.1,914.1Q1624.2,915.9 1624.2,920.9Q1624.2,925.9 1624.2,1024Q1624.2,1122.1 1624.2,1127.1Q1624.2,1132.1 1612.1,1125.6Q1600,1119.2 1590.1,1111.9Q1580.2,1104.6 1574.7,1098.5Q1569.2,1092.5 1560.1,1089.7Q1550.9,1087 1546,1086.4Q1541,1085.8 1534.4,1085Q1527.9,1084.2 1522.9,1083.6Q1517.9,1083 1507,1079.3Q1496,1075.6 1486.8,1071.2Q1477.7,1066.8 1464.8,1067.8Q1452,1068.7 1437.4,1070.3Q1422.7,1072 1413.6,1067.2Q1404.4,1062.5 1408.1,1051.5Q1411.7,1040.5 1420.9,1029.5Q1430,1018.5 1437.4,1005.7Q1444.7,992.9 1446.4,988.2Q1448.2,983.5 1450.2,978.2Q1452.2,972.9 1453.9,968.2Q1455.7,963.6 1457.9,959.1Q1460.1,954.6 1463,948.9Q1465.9,943.2 1468.1,938.7Q1470.3,934.2 1475.8,925.1Q1481.3,915.9 1488.6,906.8Z" fill="#FFFFFF" clip-path="url(#c3)"/>
<path d="M1503.3,1335.3Q1499.6,1326.2 1508.8,1323.4Q1517.9,1320.7 1530.8,1319.8Q1543.6,1318.9 1548.2,1326.2Q1552.7,1333.5 1557.3,1344.5Q1561.9,1355.5 1569.2,1362.8Q1576.6,1370.1 1588.3,1375.6Q1600,1381.1 1612.1,1383Q1624.2,1384.8 1624.2,1388.5Q1624.2,1392.1 1619.2,1392.1Q1614.2,1392.1 1589.4,1392.1Q1564.6,1392.1 1559.6,1392.1Q1554.6,1392.1 1550.9,1384.8Q1547.3,1377.5 1538.1,1368.3Q1528.9,1359.2 1517.9,1351.8Q1507,1344.5 1503.3,1335.3Z" fill="#FFFFFF" clip-path="url(#c3)"/>
<path d="M1547.3,1394.7 1624.2,1389.2 1624.2,1472.7 1547.3,1472.7Z" fill="#FFFFFF" clip-path="url(#c3)"/>
<path d="M1582.1,1110.1Q1576.6,1102.7 1581.6,1102.7Q1586.6,1102.7 1600.4,1102.7Q1614.2,1102.7 1619.2,1102.7Q1624.2,1102.7 1624.2,1115.6Q1624.2,1128.4 1612.1,1126.6Q1600,1124.7 1593.8,1121.1Q1587.5,1117.4 1582.1,1110.1Z" fill="#FFFFFF" clip-path="url(#c3)"/>
<path d="M2512.5,677Q2509.1,673.6 2511.4,670.7Q2513.6,667.9 2519.4,666.1Q2525.1,664.4 2529.7,666.1Q2534.2,667.9 2534.8,671.3Q2535.4,674.7 2531.4,677.6Q2527.4,680.4 2521.7,680.4Q2515.9,680.4 2512.5,677Z" fill="#FFFFFF"/>
<path d="M1433.5,779.4Q1439,769.8 1443.1,767Q1447.3,764.3 1454.1,762.9Q1461,761.5 1463,754.7Q1465.1,747.8 1469.9,743.7Q1474.7,739.6 1483,734.1Q1491.2,728.6 1494.6,718.3Q1498.1,708 1504.3,703.2Q1510.4,698.4 1520.1,692.9Q1529.7,687.4 1536.5,683.9Q1543.4,680.5 1550.3,682.6Q1557.1,684.6 1561.3,691.5Q1565.4,698.4 1567.4,701.1Q1569.5,703.8 1577.1,709.3Q1584.6,714.8 1587.4,720.3Q1590.1,725.8 1594.2,728.6Q1598.4,731.3 1608,729.9Q1617.6,728.6 1625.8,729.9Q1634.1,731.3 1639.6,736.8Q1645.1,742.3 1647.8,750.5Q1650.5,758.8 1647.8,767Q1645.1,775.3 1639.6,779.4Q1634.1,783.5 1631.3,790.4Q1628.6,797.3 1628.6,804.1Q1628.6,811 1624.5,813.7Q1620.3,816.5 1612.1,815.8Q1603.8,815.1 1597,819.9Q1590.1,824.7 1586,830.2Q1581.9,835.7 1573.6,839.8Q1565.4,844 1554.4,845.3Q1543.4,846.7 1529.7,846.4Q1515.9,846.2 1503.6,847.1Q1491.2,848.1 1483,847.4Q1474.7,846.7 1466.5,846Q1458.2,845.3 1452.7,844.6Q1447.3,844 1439,842.6Q1430.8,841.2 1428,833Q1425.3,824.7 1423.9,813.7Q1422.5,802.7 1425.3,795.9Q1428,789 1433.5,779.4Z" fill="#FFFFFF"/>
<path d="M1646.4,844Q1642.3,835.7 1647.8,831.6Q1653.3,827.5 1662.9,826.1Q1672.5,824.7 1678,819.2Q1683.5,813.7 1689,805.5Q1694.5,797.3 1701.4,793.1Q1708.2,789 1715.1,789Q1722,789 1730.2,790.4Q1738.5,791.8 1741.2,797.3Q1744,802.7 1745.3,809.6Q1746.7,816.5 1753.6,817.9Q1760.4,819.2 1765.9,813.7Q1771.4,808.2 1776.9,802.7Q1782.4,797.3 1791.2,794.5Q1800,791.8 1800,796.8Q1800,801.8 1800,833Q1800,864.2 1800,869.2Q1800,874.2 1795,874Q1790,873.8 1761,872.8Q1732,871.8 1727,871.6Q1722,871.4 1717,871Q1712,870.6 1705.5,870.1Q1699,869.5 1694,869.1Q1689,868.7 1678,865.9Q1667,863.2 1658.8,857.7Q1650.5,852.2 1646.4,844Z" fill="#FFFFFF"/>
<path d="M1244.1,913.2Q1241.4,903.1 1251.5,902.2Q1261.5,901.3 1274.4,903.1Q1287.2,904.9 1300,901.3Q1312.8,897.6 1325.6,903.1Q1338.5,908.6 1343,919.6Q1347.6,930.6 1347.4,935.6Q1347.1,940.6 1346.7,948.9Q1346.3,957.2 1346,962.2Q1345.8,967.2 1340.3,978.2Q1334.8,989.2 1323.8,990.1Q1312.8,991 1300,990.1Q1287.2,989.2 1279.9,983.7Q1272.5,978.2 1274.4,969Q1276.2,959.9 1267,950.7Q1257.9,941.6 1252.4,932.4Q1246.9,923.3 1244.1,913.2Z" fill="#FFFF00" clip-path="url(#c3)"/>
<path d="M1502.1,1326.3Q1505.1,1321.2 1517.7,1320.2Q1530.3,1319.2 1539.1,1323.5Q1547.9,1327.8 1550.5,1339.1Q1553,1350.5 1561.8,1361.8Q1570.6,1373.1 1563,1377.4Q1555.5,1381.7 1542.9,1374.9Q1530.3,1368.1 1519,1358.8Q1507.6,1349.5 1503.4,1340.4Q1499.1,1331.3 1502.1,1326.3Z" fill="#FFFFFF"/>
<path d="M964.8,383.7Q972.2,378.2 985,379.1Q997.8,380 1007,387.4Q1016.1,394.7 1023.4,402.9Q1030.8,411.2 1025.3,415.8Q1019.8,420.3 1008.8,421.2Q997.8,422.2 989.6,424Q981.3,425.8 978.6,433.2Q975.8,440.5 974,455.1Q972.2,469.8 970.9,474.6Q969.7,479.5 968.5,484.4Q967.3,489.4 966,494.2Q964.8,499.1 963.2,503.8Q961.5,508.5 958.4,517.4Q955.3,526.3 953.7,531Q952,535.7 949.8,540.2Q947.5,544.7 943.8,552.2Q940,559.7 937.8,564.2Q935.5,568.7 932.6,572.7Q929.7,576.8 926.4,581.5Q923,586.2 920.1,590.3Q917.2,594.3 908.1,603.5Q898.9,612.6 889.7,616.3Q880.6,620 873.3,610.8Q865.9,601.6 868.9,597.6Q871.9,593.6 887.9,572.3Q903.9,551 906.9,547Q909.9,543 912.2,538.6Q914.6,534.2 924.5,515.6Q934.5,496.9 936.8,492.5Q939.2,488.1 940.5,483.3Q941.8,478.4 946.5,460.6Q951.3,442.8 952.6,438Q953.8,433.2 954.3,428.2Q954.7,423.2 955.7,411.2Q956.7,399.2 957.1,394.2Q957.5,389.2 964.8,383.7Z" fill="#FCD37F" clip-path="url(#c0)"/>
<path d="M1092.1,517.4Q1093,506.4 1098.5,502.7Q1104,499.1 1109,498.4Q1113.9,497.8 1131.5,495.4Q1149.1,493.1 1154,492.4Q1159,491.8 1164.5,488.1Q1170,484.4 1177.3,479.9Q1184.6,475.3 1195.6,474.4Q1206.6,473.4 1213.9,477.1Q1221.2,480.8 1226.7,489.9Q1232.2,499.1 1235.9,506.4Q1239.6,513.7 1244.1,522.9Q1248.7,532.1 1246.7,536.6Q1244.7,541.2 1242.3,546.7Q1239.9,552.2 1237.9,556.8Q1235.9,561.4 1233,565.4Q1230.1,569.5 1226.7,574.2Q1223.4,578.9 1220.5,582.9Q1217.6,587 1213.9,592.5Q1210.3,598 1204.8,604.4Q1199.3,610.8 1186.4,616.3Q1173.6,621.8 1166.3,620.9Q1159,620 1149.8,616.3Q1140.7,612.6 1129.7,610.8Q1118.7,609 1115,601.6Q1111.4,594.3 1105.9,583.3Q1100.4,572.3 1096.7,561.4Q1093,550.4 1092.1,539.4Q1091.2,528.4 1092.1,517.4Z" fill="#FCD37F" clip-path="url(#c0)"/>
<path d="M989.6,671.2Q990.5,660.3 997.8,654.8Q1005.1,649.3 1016.1,646.5Q1027.1,643.8 1032.1,643.9Q1037.1,644 1049.1,644.3Q1061.1,644.6 1066.1,644.7Q1071.1,644.9 1082.1,639.7Q1093,634.6 1097.5,632.4Q1102,630.1 1111.4,625.5Q1120.7,620.8 1125.2,618.5Q1129.7,616.3 1134.1,614.1Q1138.6,611.8 1151.6,605.3Q1164.7,598.8 1169.2,596.6Q1173.6,594.3 1188.3,595.2Q1202.9,596.2 1209.3,601.6Q1215.8,607.1 1215.8,611.7Q1215.8,616.3 1211.2,623.6Q1206.6,631 1204.8,641.9Q1202.9,652.9 1200.2,665.8Q1197.4,678.6 1196.2,683.4Q1195,688.3 1193.8,693.2Q1192.5,698.2 1191.3,703Q1190.1,707.9 1186.4,714.3Q1182.8,720.7 1174.5,720.1Q1166.3,719.6 1153.5,716.5Q1140.7,713.4 1130.6,709.7Q1120.5,706 1115.9,707.9Q1111.4,709.7 1112.3,721.6Q1113.2,733.5 1114.4,738.4Q1115.6,743.2 1116.8,748.2Q1118.1,753.1 1119.3,758Q1120.5,762.8 1123.3,777.5Q1126,792.1 1127.8,806.8Q1129.7,821.4 1129.8,826.4Q1130,831.4 1130.6,847.1Q1131.1,862.7 1131.3,867.7Q1131.5,872.7 1126.5,872.7Q1121.5,872.7 1004.2,872.7Q886.9,872.7 881.9,872.7Q876.9,872.7 877,867.7Q877.2,862.7 877.8,836.1Q878.5,809.4 878.6,804.4Q878.8,799.5 881.5,788.5Q884.2,777.5 893.4,772Q902.6,766.5 907.6,766.3Q912.6,766.1 924.5,765.6Q936.5,765.1 941.5,764.9Q946.5,764.7 951.5,764.4Q956.5,764.2 968.5,763.7Q980.5,763.2 985.5,763Q990.5,762.8 991.7,758Q992.9,753.1 994.1,748.2Q995.4,743.2 996.6,738.4Q997.8,733.5 996,720.7Q994.1,707.9 991.4,695.1Q988.6,682.2 989.6,671.2Z" fill="#FCD37F" clip-path="url(#c0)"/>
<path d="M1303.7,427.7Q1305.5,418.5 1312.8,414.8Q1320.1,411.2 1331.1,411.2Q1342.1,411.2 1349.5,416.7Q1356.8,422.2 1364.1,427.7Q1371.4,433.2 1378.8,427.7Q1386.1,422.2 1393.4,414.8Q1400.7,407.5 1411.7,404.8Q1422.7,402 1431.9,402.9Q1441,403.8 1448.4,411.2Q1455.7,418.5 1457.5,429.5Q1459.3,440.5 1455.7,451.5Q1452,462.5 1444.7,469.8Q1437.4,477.1 1433.7,488.1Q1430,499.1 1428.2,511.9Q1426.4,524.7 1420.9,535.7Q1415.4,546.7 1408.1,552.2Q1400.7,557.7 1391.6,556.8Q1382.4,555.9 1373.3,554Q1364.1,552.2 1356.8,553.1Q1349.5,554 1344,555.9Q1338.5,557.7 1333,554Q1327.5,550.4 1329.3,539.4Q1331.1,528.4 1336.6,515.6Q1342.1,502.7 1338.5,497.3Q1334.8,491.8 1329.3,484.4Q1323.8,477.1 1318.3,466.1Q1312.8,455.1 1307.3,446Q1301.8,436.8 1303.7,427.7Z" fill="#FCD37F" clip-path="url(#c0)"/>
<path d="M1646.7,685.9Q1647.6,678.6 1648.8,673.7Q1650,668.9 1651.3,663.9Q1652.5,659 1653.7,654.1Q1654.9,649.3 1665.9,640.1Q1676.9,631 1681.2,628.3Q1685.4,625.7 1691.6,621.8Q1697.7,617.9 1702,615.3Q1706.2,612.6 1717.2,607.1Q1728.2,601.6 1737.4,596.2Q1746.5,590.7 1753.8,584.2Q1761.2,577.8 1772.2,576.9Q1783.2,576 1790.5,579.7Q1797.8,583.3 1808.8,590.7Q1819.8,598 1834.4,598.9Q1849.1,599.8 1856.4,602.6Q1863.7,605.3 1864.7,618.1Q1865.6,631 1861,641.9Q1856.4,652.9 1849.1,665.8Q1841.8,678.6 1834.4,689.6Q1827.1,700.5 1819.8,711.5Q1812.5,722.5 1805.1,731.7Q1797.8,740.8 1790.5,748.2Q1783.2,755.5 1777.7,758.2Q1772.2,761 1764.8,759.2Q1757.5,757.3 1746.5,752.7Q1735.5,748.2 1722.7,742.7Q1709.9,737.2 1700.7,731.7Q1691.6,726.2 1680.6,724.4Q1669.6,722.5 1660.4,717Q1651.3,711.5 1648.5,702.4Q1645.8,693.2 1646.7,685.9Z" fill="#FCD37F" clip-path="url(#c1)"/>
<path d="M1581.7,643.3Q1581.7,638.3 1590.8,639.2Q1600,640.1 1605.5,642.9Q1611,645.6 1614.7,654.8Q1618.3,663.9 1619.2,676.7Q1620.1,689.6 1621.1,702.4Q1622,715.2 1616.5,718.9Q1611,722.5 1596.3,724.4Q1581.7,726.2 1581.7,721.2Q1581.7,716.2 1581.7,682.2Q1581.7,648.3 1581.7,643.3Z" fill="#FCD37F" clip-path="url(#c1)"/>
<path d="M2892.7,611.6Q2898,605.3 2903.2,596.9Q2908.5,588.5 2914.8,580Q2921.1,571.6 2927.5,567.4Q2933.8,563.2 2942.2,562.1Q2950.6,561.1 2959,562.1Q2967.5,563.2 2972.7,565.3Q2978,567.4 2981.2,570.6Q2984.3,573.7 2981.2,576.9Q2978,580 2970.6,581.1Q2963.3,582.1 2958,584.2Q2952.7,586.4 2951.7,595.8Q2950.6,605.3 2946.4,609.5Q2942.2,613.7 2935.9,617.9Q2929.6,622.2 2927.5,629.5Q2925.3,636.9 2925.3,646.4Q2925.3,655.9 2922.2,662.2Q2919,668.5 2915.9,676.9Q2912.7,685.3 2909.6,689.6Q2906.4,693.8 2904.8,702.2Q2903.2,710.6 2905.9,716.9Q2908.5,723.3 2911.7,727.5Q2914.8,731.7 2920.1,735.9Q2925.3,740.1 2921.1,745.4Q2916.9,750.6 2908.5,750.1Q2900.1,749.6 2893.8,752.2Q2887.4,754.9 2882.2,760.1Q2876.9,765.4 2867.4,762.2Q2857.9,759.1 2843.2,761.2Q2828.5,763.3 2815.8,762.2Q2803.2,761.2 2792.7,761.2Q2782.1,761.2 2771.6,766.4Q2761.1,771.7 2756.8,768.5Q2752.6,765.4 2762.1,753.8Q2771.6,742.2 2775.5,739.1Q2779.5,736.1 2819,705.4Q2858.5,674.6 2862.4,671.6Q2866.4,668.5 2868.3,663.9Q2870.2,659.3 2876.9,643.2Q2883.6,627.2 2885.5,622.6Q2887.4,617.9 2892.7,611.6Z" fill="#FCD37F" clip-path="url(#c2)"/>
<path d="M2799,814.9Q2794.8,809.6 2804.2,800.1Q2813.7,790.7 2821.1,782.2Q2828.5,773.8 2834.8,768.5Q2841.1,763.3 2849.5,761.2Q2857.9,759.1 2864.3,760.1Q2870.6,761.2 2874.8,765.4Q2879,769.6 2880.1,773.8Q2881.1,778 2878,783.3Q2874.8,788.6 2879,791.7Q2883.2,794.9 2883.2,805.4Q2883.2,815.9 2881.1,822.3Q2879,828.6 2878,834.9Q2876.9,841.2 2873.7,843.3Q2870.6,845.4 2864.3,842.3Q2857.9,839.1 2848.5,838Q2839,837 2829.5,837Q2820,837 2816.9,830.7Q2813.7,824.4 2808.5,822.3Q2803.2,820.1 2799,814.9Z" fill="#FCD37F" clip-path="url(#c2)"/>
<path d="M2981.7,709.6Q2982.2,702.2 2987.5,699Q2992.7,695.9 2997,696.9Q3001.2,698 3000.1,704.3Q2999.1,710.6 2995.9,718Q2992.7,725.4 2988.5,726.4Q2984.3,727.5 2982.7,722.2Q2981.2,716.9 2981.7,709.6Z" fill="#FCD37F" clip-path="url(#c2)"/>
<path d="M2992.7,757Q2988.5,754.9 2990.6,749.6Q2992.7,744.3 2999.1,741.2Q3005.4,738 3011.7,733.8Q3018,729.6 3021.2,723.3Q3024.3,716.9 3026.4,705.4Q3028.6,693.8 3031.7,688.5Q3034.9,683.2 3040.1,680.1Q3045.4,676.9 3050.7,672.7Q3055.9,668.5 3060.1,663.2Q3064.4,658 3066.5,650.6Q3068.6,643.2 3067.5,636.9Q3066.5,630.6 3071.7,627.4Q3077,624.3 3082.3,621.1Q3087.5,617.9 3092.8,613.7Q3098.1,609.5 3101.2,604.3Q3104.4,599 3105.4,591.6Q3106.5,584.2 3110.7,576.9Q3114.9,569.5 3120.2,562.1Q3125.4,554.8 3130.7,549.5Q3136,544.2 3143.3,541.1Q3150.7,537.9 3158.1,539Q3165.5,540 3169.7,544.2Q3173.9,548.4 3178.1,555.8Q3182.3,563.2 3182.3,568.2Q3182.3,573.2 3182.3,636.9Q3182.3,700.6 3182.3,705.6Q3182.3,710.6 3178,713.1Q3173.6,715.6 3145.4,731.7Q3117.3,747.8 3112.9,750.3Q3108.6,752.7 3103.6,752.7Q3098.6,752.7 3092.8,752.7Q3087,752.7 3082,752.7Q3077,752.7 3072.5,754.9Q3067.9,757 3059.1,761.2Q3050.2,765.3 3045.7,767.5Q3041.2,769.6 3035.9,773.8Q3030.7,778 3026.4,781.2Q3022.2,784.3 3018,789.6Q3013.8,794.9 3001.2,797Q2988.5,799.1 2988.5,791.7Q2988.5,784.3 2992.7,780.1Q2997,775.9 3004.3,773.8Q3011.7,771.7 3013.8,766.4Q3015.9,761.2 3010.7,757Q3005.4,752.7 3001.2,755.9Q2997,759.1 2992.7,757Z" fill="#FCD37F" clip-path="url(#c2)"/>
<path d="M3098.1,530.5Q3098.1,527.4 3101.2,522.1Q3104.4,516.8 3108.1,514.7Q3111.7,512.6 3112.8,516.8Q3113.9,521.1 3111.2,527.4Q3108.6,533.7 3105.4,535.8Q3102.3,537.9 3100.2,535.8Q3098.1,533.7 3098.1,530.5Z" fill="#FCD37F" clip-path="url(#c2)"/>
<path d="M3023.3,804.3Q3022.2,803.3 3028.6,799.1Q3034.9,794.9 3045.4,789.6Q3055.9,784.3 3066.5,779.1Q3077,773.8 3081.2,773.8Q3085.4,773.8 3077,779.1Q3068.6,784.3 3057,789.6Q3045.4,794.9 3034.9,800.1Q3024.3,805.4 3023.3,804.3Z" fill="#FCD37F" clip-path="url(#c2)"/>
<path d="M910.3,844Q909.9,839 914.9,839Q919.9,839 1028.9,839Q1138,839 1143,839Q1148,839 1147.2,844Q1146.5,848.9 1144.3,862.8Q1142.2,876.7 1141.4,881.7Q1140.7,886.6 1138.9,891.3Q1137.1,896 1135.2,901.3Q1133.2,906.6 1131.4,911.3Q1129.7,915.9 1128.5,920.8Q1127.2,925.6 1124.2,937.9Q1121.1,950.2 1119.9,955Q1118.7,959.9 1120.1,964.7Q1121.6,969.5 1124.2,978.2Q1126.8,986.9 1128.2,991.7Q1129.7,996.5 1131.9,1001Q1134.1,1005.5 1137,1011.2Q1139.9,1016.9 1142.1,1021.4Q1144.3,1025.8 1144.7,1030.8Q1145.2,1035.8 1146.2,1047.8Q1147.2,1059.8 1147.6,1064.8Q1148,1069.8 1148.5,1074.8Q1149,1079.7 1149.8,1088.1Q1150.7,1096.5 1151.2,1101.4Q1151.6,1106.4 1153.5,1111.1Q1155.4,1115.7 1159,1124.7Q1162.6,1133.8 1164.4,1138.4Q1166.3,1143 1173.6,1155.9Q1181,1168.7 1191.9,1174.2Q1202.9,1179.7 1212.1,1181.5Q1221.2,1183.3 1234.1,1187Q1246.9,1190.7 1257.9,1196.2Q1268.9,1201.6 1273.8,1200.8Q1278.7,1200 1290.8,1198Q1303,1196 1307.9,1195.1Q1312.8,1194.3 1322,1188.8Q1331.1,1183.3 1344,1183.3Q1356.8,1183.3 1362.3,1177.8Q1367.8,1172.3 1366.6,1167.5Q1365.3,1162.6 1364.1,1157.7Q1362.9,1152.7 1361.7,1147.9Q1360.4,1143 1358.6,1128.4Q1356.8,1113.7 1360.4,1106.4Q1364.1,1099.1 1375.1,1099.1Q1386.1,1099.1 1397.1,1104.6Q1408.1,1110.1 1419,1108.2Q1430,1106.4 1437.4,1100Q1444.7,1093.6 1449.7,1093.3Q1454.7,1093 1461.2,1092.7Q1467.7,1092.3 1472.7,1092Q1477.7,1091.8 1485,1097.3Q1492.3,1102.7 1494.1,1115.6Q1496,1128.4 1486.8,1139.4Q1477.7,1150.4 1475.8,1161.4Q1474,1172.3 1485,1176Q1496,1179.7 1508.8,1185.2Q1521.6,1190.7 1527.1,1198Q1532.6,1205.3 1530.8,1218.1Q1528.9,1231 1521.6,1240.1Q1514.3,1249.3 1508.8,1262.1Q1503.3,1274.9 1502.1,1279.8Q1500.9,1284.6 1499.6,1289.6Q1498.4,1294.5 1497.2,1299.4Q1496,1304.2 1494.1,1317Q1492.3,1329.9 1485,1337.2Q1477.7,1344.5 1474,1353.7Q1470.3,1362.8 1463,1370.1Q1455.7,1377.5 1450.2,1388.5Q1444.7,1399.5 1442.1,1403.7Q1439.5,1408 1433.7,1417.8Q1427.9,1427.5 1425.3,1431.8Q1422.7,1436.1 1417.7,1436.1Q1412.7,1436.1 1111.4,1436.1Q810,1436.1 805,1436.1Q800,1436.1 800,1431.1Q800,1426.1 800,1198Q800,969.9 800,964.9Q800,959.9 805,959.9Q810,959.9 836.6,959.9Q863.3,959.9 868.3,959.9Q873.3,959.9 875.7,955.5Q878.2,951.2 887.9,934.2Q897.6,917.3 900.1,912.9Q902.6,908.6 908.1,897.6Q913.6,886.6 913.2,881.6Q912.8,876.7 911.7,862.8Q910.7,849 910.3,844Z" fill="#FCD37F" clip-path="url(#c3)"/>
<path d="M1350.4,877.5Q1347.6,864.7 1355.9,859.2Q1364.1,853.7 1378.8,851.8Q1393.4,850 1408.1,851.8Q1422.7,853.7 1433.7,857.3Q1444.7,861 1447.4,873.8Q1450.2,886.6 1449.3,899.5Q1448.4,912.3 1442.9,919.6Q1437.4,926.9 1428.2,934.2Q1419,941.6 1409.9,948.9Q1400.7,956.2 1391.6,961.7Q1382.4,967.2 1373.3,965.4Q1364.1,963.6 1361.4,952.6Q1358.6,941.6 1359.5,928.8Q1360.4,915.9 1356.8,903.1Q1353.1,890.3 1350.4,877.5Z" fill="#FCD37F" clip-path="url(#c3)"/>
<path d="M1670.5,910.4Q1669.6,904.9 1671.4,895.8Q1673.3,886.6 1677.8,883Q1682.4,879.3 1685.2,884.8Q1687.9,890.3 1687,899.5Q1686.1,908.6 1681.5,915.9Q1676.9,923.3 1674.2,919.6Q1671.4,915.9 1670.5,910.4Z" fill="#FCD37F" clip-path="url(#c4)"/>
<path d="M1937.9,922.3Q1937,917.8 1939.7,914.1Q1942.5,910.4 1948.9,911.4Q1955.3,912.3 1960.8,915.9Q1966.3,919.6 1964.5,924.2Q1962.6,928.8 1955.3,930Q1948,931.3 1943.4,929.1Q1938.8,926.9 1937.9,922.3Z" fill="#FCD37F" clip-path="url(#c4)"/>
<path d="M1970.9,1198Q1970,1190.7 1975.5,1187Q1981,1183.3 1990.1,1179.7Q1999.3,1176 2001.1,1165Q2002.9,1154 2010.3,1154.9Q2017.6,1155.9 2015.8,1167.8Q2013.9,1179.7 2012.1,1190.7Q2010.3,1201.6 2002.9,1203.5Q1995.6,1205.3 1988.3,1209Q1981,1212.6 1976.4,1209Q1971.8,1205.3 1970.9,1198Z" fill="#FCD37F" clip-path="url(#c4)"/>
<path d="M2083.5,1172.3Q2083.5,1165 2086.3,1154Q2089,1143 2099.1,1144Q2109.2,1144.9 2114.7,1151.3Q2120.1,1157.7 2114.7,1163.2Q2109.2,1168.7 2111,1176Q2112.8,1183.3 2114.7,1190.7Q2116.5,1198 2111,1199.8Q2105.5,1201.6 2098.2,1196.2Q2090.8,1190.7 2087.2,1185.2Q2083.5,1179.7 2083.5,1172.3Z" fill="#FCD37F" clip-path="url(#c4)"/>
<path d="M1996.5,1285.9Q1995.6,1278.6 1999.3,1269.4Q2002.9,1260.3 2012.1,1254.8Q2021.2,1249.3 2034.1,1249.3Q2046.9,1249.3 2056,1256.6Q2065.2,1263.9 2072.5,1274.9Q2079.9,1285.9 2081.7,1295.1Q2083.5,1304.2 2078,1310.6Q2072.5,1317 2065.2,1316.1Q2057.9,1315.2 2045.1,1309.7Q2032.2,1304.2 2021.2,1302.4Q2010.3,1300.5 2003.8,1296.9Q1997.4,1293.2 1996.5,1285.9Z" fill="#FCD37F" clip-path="url(#c4)"/>
<path d="M1807,1316.1Q1803.3,1307.9 1807,1303.3Q1810.6,1298.7 1814.3,1302.4Q1817.9,1306 1818.9,1312.5Q1819.8,1318.9 1815.2,1321.6Q1810.6,1324.4 1807,1316.1Z" fill="#FCD37F" clip-path="url(#c4)"/>
<path d="M1675.1,1236.4Q1673.3,1231 1678.8,1227.3Q1684.2,1223.6 1693.4,1229.1Q1702.6,1234.6 1711.7,1241.9Q1720.9,1249.3 1726.4,1258.4Q1731.9,1267.6 1731,1274Q1730,1280.4 1721.8,1277.7Q1713.6,1274.9 1706.2,1269.4Q1698.9,1263.9 1693.4,1256.6Q1687.9,1249.3 1682.4,1245.6Q1676.9,1241.9 1675.1,1236.4Z" fill="#FCD37F" clip-path="url(#c4)"/>
<path d="M1614.7,1362.8Q1614.7,1355.5 1620.1,1351.8Q1625.6,1348.2 1631.1,1350Q1636.6,1351.8 1639.4,1359.2Q1642.1,1366.5 1639.4,1372Q1636.6,1377.5 1629.3,1378.4Q1622,1379.3 1618.3,1374.7Q1614.7,1370.1 1614.7,1362.8Z" fill="#FCD37F" clip-path="url(#c4)"/>
<path d="M2509.9,1210.8Q2513.6,1201.6 2524.5,1196.2Q2535.5,1190.7 2548.4,1188.8Q2561.2,1187 2570.3,1179.7Q2579.5,1172.3 2588.6,1168.7Q2597.8,1165 2608.8,1168.7Q2619.8,1172.3 2627.1,1176Q2634.4,1179.7 2645.4,1176Q2656.4,1172.3 2667.4,1168.7Q2678.4,1165 2682.1,1170.5Q2685.7,1176 2678.4,1183.3Q2671.1,1190.7 2674.7,1196.2Q2678.4,1201.6 2689.4,1209Q2700.4,1216.3 2707.7,1225.5Q2715,1234.6 2722.3,1240.1Q2729.7,1245.6 2727.8,1252.9Q2726,1260.3 2716.8,1258.4Q2707.7,1256.6 2700.4,1260.3Q2693,1263.9 2691.2,1271.2Q2689.4,1278.6 2696.7,1284.1Q2704,1289.6 2707.7,1296.9Q2711.4,1304.2 2707.7,1313.4Q2704,1322.5 2698.5,1328Q2693,1333.5 2689.4,1342.7Q2685.7,1351.8 2680.2,1361Q2674.7,1370.1 2671.1,1379.3Q2667.4,1388.5 2661.9,1394Q2656.4,1399.5 2650.9,1394Q2645.4,1388.5 2643.6,1379.3Q2641.8,1370.1 2638.1,1361Q2634.4,1351.8 2627.1,1348.2Q2619.8,1344.5 2612.5,1348.2Q2605.1,1351.8 2601.5,1357.3Q2597.8,1362.8 2594.1,1372Q2590.5,1381.1 2583.2,1384.8Q2575.8,1388.5 2570.3,1381.1Q2564.8,1373.8 2559.3,1362.8Q2553.8,1351.8 2546.5,1346.3Q2539.2,1340.8 2530,1342.7Q2520.9,1344.5 2513.6,1340.8Q2506.2,1337.2 2502.6,1328Q2498.9,1318.9 2502.6,1309.7Q2506.2,1300.5 2511.7,1291.4Q2517.2,1282.2 2520.9,1274.9Q2524.5,1267.6 2517.2,1260.3Q2509.9,1252.9 2506.2,1245.6Q2502.6,1238.3 2504.4,1229.1Q2506.2,1220 2509.9,1210.8Z" fill="#FCD37F" clip-path="url(#c5)"/>
<path d="M2633.5,1133Q2632.6,1128.4 2637.2,1125.6Q2641.8,1122.9 2647.3,1123.8Q2652.7,1124.7 2654.6,1129.3Q2656.4,1133.9 2650.9,1136.6Q2645.4,1139.4 2639.9,1138.5Q2634.4,1137.5 2633.5,1133Z" fill="#FCD37F" clip-path="url(#c5)"/>
<path d="M2674.7,1221.8Q2671.1,1216.3 2680.2,1214.5Q2689.4,1212.6 2700.4,1214.5Q2711.4,1216.3 2720.5,1213.6Q2729.7,1210.8 2734.2,1215.4Q2738.8,1220 2734.2,1229.1Q2729.7,1238.3 2726,1245.6Q2722.3,1252.9 2715,1252.9Q2707.7,1252.9 2700.4,1245.6Q2693,1238.3 2685.7,1232.8Q2678.4,1227.3 2674.7,1221.8Z" fill="#FCD37F" clip-path="url(#c5)"/>
<path d="M1994.9,1670.1Q1994.5,1665.6 1997.3,1665.6Q2000,1665.6 2000,1670.1Q2000,1674.7 1997.6,1674.7Q1995.2,1674.7 1994.9,1670.1Z" fill="#FCD37F" clip-path="url(#c6)"/>
<path d="M1944.1,1738.8Q1943.2,1735.2 1947.8,1733.3Q1952.4,1731.5 1955.1,1735.2Q1957.9,1738.8 1955.1,1742.5Q1952.4,1746.2 1948.7,1744.3Q1945.1,1742.5 1944.1,1738.8Z" fill="#FCD37F" clip-path="url(#c6)"/>
<path d="M1991.8,1759Q1989,1755.3 1993.6,1753.5Q1998.2,1751.6 2000,1756.2Q2001.8,1760.8 1998.2,1761.7Q1994.5,1762.6 1991.8,1759Z" fill="#FCD37F" clip-path="url(#c6)"/>
<path d="M2576,746.8Q2575.5,743.4 2580,742.5Q2584.6,741.6 2586.3,743.6Q2588,745.7 2586.3,748.6Q2584.6,751.4 2580.6,750.8Q2576.6,750.3 2576,746.8Z" fill="#FCD37F"/>
<path d="M2512.8,847.6Q2510.5,845.3 2513.9,840.7Q2517.4,836.2 2523.1,833.9Q2528.8,831.6 2533.4,832.7Q2538,833.9 2536.8,838.4Q2535.7,843 2531.1,845.9Q2526.5,848.7 2520.8,849.3Q2515.1,849.9 2512.8,847.6Z" fill="#FCD37F"/>
<path d="M2544.8,859Q2540.3,854.5 2544.8,853.3Q2549.4,852.2 2554,853.3Q2558.6,854.5 2560.9,859Q2563.2,863.6 2562,865.9Q2560.9,868.2 2555.1,865.9Q2549.4,863.6 2544.8,859Z" fill="#FCD37F"/>
<path d="M2596.3,846.5Q2596.3,838.4 2600.4,836.7Q2604.4,835 2610.1,837.9Q2615.8,840.7 2622.7,844.2Q2629.5,847.6 2636.4,848.7Q2643.3,849.9 2643.3,843Q2643.3,836.2 2649,833.9Q2654.7,831.6 2666.2,830.4Q2677.6,829.3 2682.2,823.6Q2686.8,817.8 2691.4,812.1Q2695.9,806.4 2701.7,803Q2707.4,799.5 2713.1,801.8Q2718.8,804.1 2721.1,811Q2723.4,817.8 2728,824.7Q2732.6,831.6 2734.9,840.7Q2737.1,849.9 2733.7,856.8Q2730.3,863.6 2725.7,868.2Q2721.1,872.8 2715.4,875.1Q2709.7,877.4 2703.9,879.7Q2698.2,881.9 2692.5,878.5Q2686.8,875.1 2679.9,875.1Q2673,875.1 2663.9,875.1Q2654.7,875.1 2645.6,875.1Q2636.4,875.1 2628.4,876.2Q2620.4,877.4 2614.7,877.4Q2608.9,877.4 2604.4,873.9Q2599.8,870.5 2598.1,862.5Q2596.3,854.5 2596.3,846.5Z" fill="#FCD37F"/>
<path d="M2604.9,785.2Q2603.2,782.4 2606.1,780.6Q2608.9,778.9 2610.1,782.4Q2611.2,785.8 2608.9,786.9Q2606.6,788.1 2604.9,785.2Z" fill="#FCD37F"/>
<path d="M2340.9,1285.8Q2332.1,1274.5 2340.9,1269.5Q2349.7,1264.4 2354.5,1262.8Q2359.2,1261.3 2364.8,1259.4Q2370.5,1257.5 2375.2,1255.9Q2379.9,1254.3 2384.9,1254.7Q2389.9,1255.1 2397.6,1255.6Q2405.2,1256.2 2410.2,1256.5Q2415.2,1256.9 2427.8,1259.4Q2440.4,1261.9 2447.9,1269.5Q2455.5,1277 2456.8,1287.1Q2458,1297.2 2451.7,1309.8Q2445.4,1322.3 2432.8,1327.4Q2420.2,1332.4 2410.2,1327.4Q2400.1,1322.3 2395.3,1320.8Q2390.6,1319.2 2385,1317.3Q2379.4,1315.4 2374.6,1313.9Q2369.9,1312.3 2359.8,1304.7Q2349.7,1297.2 2340.9,1285.8Z" fill="#FCD37F"/>
<path d="M2369.9,1324.9Q2367.4,1319.8 2372.4,1317.3Q2377.4,1314.8 2378.7,1319.8Q2379.9,1324.9 2376.2,1327.4Q2372.4,1329.9 2369.9,1324.9Z" fill="#FCD37F"/>
<path d="M1677.3,911.3Q1671.2,909.9 1672.5,900.3Q1673.9,890.7 1677.3,885.2Q1680.8,879.7 1684.2,881.7Q1687.6,883.8 1688.3,891.3Q1689,898.9 1686.3,905.8Q1683.5,912.6 1677.3,911.3Z" fill="#FCD37F"/>
<path d="M1381.3,729.9Q1370.3,725.8 1373.9,722.3Q1377.4,718.8 1381.3,714.8Q1385.2,710.9 1388.8,707.4Q1392.3,703.8 1395,699.6Q1397.7,695.4 1404.7,684.6Q1411.6,673.8 1414.3,669.6Q1417,665.4 1426.6,654.4Q1436.3,643.4 1445.9,636.5Q1455.5,629.7 1459.6,617.3Q1463.7,604.9 1469.2,592.6Q1474.7,580.2 1483,570.6Q1491.2,561 1503.6,556.9Q1515.9,552.7 1520.9,552.7Q1525.9,552.7 1535.2,552.7Q1544.4,552.7 1549.4,552.7Q1554.4,552.7 1565.4,559.6Q1576.4,566.5 1580.5,578.8Q1584.6,591.2 1584.6,603.6Q1584.6,615.9 1581.9,625.5Q1579.1,635.2 1588.7,639.3Q1598.4,643.4 1605.2,648.9Q1612.1,654.4 1616.2,664Q1620.3,673.6 1620.3,678.6Q1620.3,683.6 1620.3,692.9Q1620.3,702.1 1620.3,707.1Q1620.3,712.1 1616.2,719Q1612.1,725.8 1605.2,725.8Q1598.4,725.8 1597,720.3Q1595.6,714.8 1590.1,709.3Q1584.6,703.8 1577.7,695.6Q1570.9,687.4 1568.1,679.1Q1565.4,670.9 1559.9,668.1Q1554.4,665.4 1542,668.1Q1529.7,670.9 1525.2,673.1Q1520.7,675.4 1515.9,677.7Q1511.1,680.1 1506.7,682.4Q1502.2,684.6 1496.7,691.5Q1491.2,698.4 1483,708Q1474.7,717.6 1466.5,725.8Q1458.2,734.1 1451.4,736.8Q1444.5,739.6 1432.1,739.6Q1419.8,739.6 1406,736.8Q1392.3,734.1 1381.3,729.9Z" fill="#FCD37F"/>
<path d="M1131.7,511.4Q1131.5,506.4 1137.9,502.7Q1144.3,499.1 1155.3,497.6Q1166.3,496.2 1177.3,498.5Q1188.3,500.9 1195.6,505.5Q1202.9,510.1 1206.2,519.2Q1209.5,528.4 1209.9,541.2Q1210.3,554 1207.5,566.8Q1204.8,579.7 1200.2,588.8Q1195.6,598 1190.1,604.4Q1184.6,610.8 1175.5,614.5Q1166.3,618.1 1159,615.4Q1151.6,612.6 1147.1,605.3Q1142.5,598 1138.8,587Q1135.2,576 1134.8,571Q1134.4,566 1133.9,559.5Q1133.4,553 1133,548Q1132.6,543 1132.5,538Q1132.3,533 1132.1,524.7Q1131.8,516.4 1131.7,511.4Z" fill="#FFAA00" clip-path="url(#c0)"/>
<path d="M1008.7,804.4Q1008.8,799.5 1012.5,790.3Q1016.1,781.1 1027.1,776.6Q1038.1,772 1043.1,771.4Q1048,770.9 1054.6,770.1Q1061.1,769.4 1066.1,768.9Q1071.1,768.3 1085.7,771.1Q1100.4,773.8 1107.7,781.1Q1115,788.5 1118.7,801.3Q1122.3,814.1 1122.8,819.1Q1123.3,824.1 1125.1,843.4Q1126.9,862.8 1127.4,867.7Q1127.8,872.7 1122.8,872.7Q1117.8,872.7 1067.4,872.7Q1017,872.7 1012,872.7Q1007,872.7 1007.1,867.7Q1007.2,862.7 1007.9,836.1Q1008.5,809.4 1008.7,804.4Z" fill="#FFAA00" clip-path="url(#c0)"/>
<path d="M909.9,841.1Q909.9,836.1 913.6,833.3Q917.2,830.6 920,835.2Q922.7,839.7 923.5,844.7Q924.4,849.6 925.5,856.2Q926.6,862.8 927.4,867.8Q928.2,872.7 919,872.7Q909.9,872.7 909.9,867.7Q909.9,862.7 909.9,854.4Q909.9,846.1 909.9,841.1Z" fill="#FFAA00" clip-path="url(#c0)"/>
<path d="M1345.8,488.1Q1345.8,473.4 1353.1,467.9Q1360.4,462.5 1371.4,458.8Q1382.4,455.1 1389.7,447.8Q1397.1,440.5 1404.4,434.1Q1411.7,427.7 1419,426.7Q1426.4,425.8 1431,431.3Q1435.5,436.8 1434.6,447.8Q1433.7,458.8 1428.2,466.1Q1422.7,473.4 1413.6,478.9Q1404.4,484.4 1395.2,488.1Q1386.1,491.8 1378.8,499.1Q1371.4,506.4 1367.8,517.4Q1364.1,528.4 1358.6,535.7Q1353.1,543 1347.6,546.7Q1342.1,550.4 1338.5,546.7Q1334.8,543 1336.6,533.9Q1338.5,524.7 1342.1,513.7Q1345.8,502.7 1345.8,488.1Z" fill="#FFAA00" clip-path="url(#c0)"/>
<path d="M1677.8,674.9Q1676.9,660.3 1678.8,654.8Q1680.6,649.3 1685.4,648.1Q1690.3,646.8 1695.2,645.6Q1700.2,644.4 1705,643.2Q1709.9,641.9 1717.2,629.1Q1724.5,616.3 1733.7,609.9Q1742.9,603.5 1752,598.9Q1761.2,594.3 1772.2,596.2Q1783.2,598 1788.6,607.1Q1794.1,616.3 1796.9,627.3Q1799.6,638.3 1802.4,645.6Q1805.1,652.9 1797.8,655.7Q1790.5,658.4 1781.3,660.3Q1772.2,662.1 1763,663Q1753.8,663.9 1750.2,676.7Q1746.5,689.6 1747.6,694.4Q1748.7,699.3 1750.2,706Q1751.7,712.8 1752.8,717.6Q1753.8,722.5 1757.5,731.7Q1761.2,740.8 1759.3,748.2Q1757.5,755.5 1748.4,753.7Q1739.2,751.8 1728.2,742.7Q1717.2,733.5 1708.1,729.9Q1698.9,726.2 1694.3,722.5Q1689.7,718.9 1691.6,709.7Q1693.4,700.5 1686.1,695.1Q1678.8,689.6 1677.8,674.9Z" fill="#FFAA00" clip-path="url(#c1)"/>
<path d="M2767.4,760.1Q2761.1,763.3 2764.2,759.4Q2767.3,755.5 2773.7,747.5Q2780.1,739.5 2783.2,735.6Q2786.3,731.7 2789.5,726.4Q2792.7,721.2 2789.5,714.8Q2786.3,708.5 2782.7,703.8Q2779,699 2791.1,693.2Q2803.2,687.5 2808.2,687.1Q2813.2,686.8 2819,686.4Q2824.8,686 2829.8,685.7Q2834.8,685.3 2839.7,684.4Q2844.6,683.4 2850.6,682.2Q2856.6,681 2861.5,680Q2866.4,679 2875.9,671.7Q2885.3,664.3 2889,661.1Q2892.7,658 2890.1,648.5Q2887.4,639 2889.5,636.9Q2891.6,634.8 2893.8,626.4Q2895.9,617.9 2899,615.8Q2902.2,613.7 2904.3,620.1Q2906.4,626.4 2907.4,634.8Q2908.5,643.2 2907.4,651.6Q2906.4,660.1 2904.3,669.6Q2902.2,679 2898,684.3Q2893.8,689.6 2894.8,694.8Q2895.9,700.1 2899,705.4Q2902.2,710.6 2904.3,716.9Q2906.4,723.3 2909.6,727.5Q2912.7,731.7 2908.5,735.9Q2904.3,740.1 2895.9,741.2Q2887.4,742.2 2881.1,741.7Q2874.8,741.2 2870.6,741.7Q2866.4,742.2 2862.2,744.3Q2857.9,746.4 2851.6,747.5Q2845.3,748.5 2834.8,750.6Q2824.2,752.7 2813.7,752.2Q2803.2,751.7 2794.8,750.1Q2786.3,748.5 2780,752.7Q2773.7,757 2767.4,760.1Z" fill="#FFAA00" clip-path="url(#c2)"/>
<path d="M2827.4,818Q2822.1,818 2827.4,811.7Q2832.7,805.4 2836.9,800.1Q2841.1,794.9 2843.2,788.6Q2845.3,782.2 2843.2,778Q2841.1,773.8 2843.2,769.6Q2845.3,765.4 2851.6,763.8Q2857.9,762.2 2864.3,763.8Q2870.6,765.4 2873.7,769.6Q2876.9,773.8 2875.9,779.1Q2874.8,784.3 2870.6,787.5Q2866.4,790.7 2862.2,790.7Q2857.9,790.7 2855.8,794.9Q2853.7,799.1 2852.7,805.4Q2851.6,811.7 2849.5,818Q2847.4,824.4 2844.3,823.3Q2841.1,822.3 2836.9,820.1Q2832.7,818 2827.4,818Z" fill="#FFAA00" clip-path="url(#c2)"/>
<path d="M3112.8,613.7Q3110.7,605.3 3113.9,596.9Q3117,588.5 3121.2,580Q3125.4,571.6 3130.7,564.2Q3136,556.9 3142.3,552.7Q3148.6,548.4 3154.9,549.5Q3161.2,550.5 3164.4,554.8Q3167.6,559 3169.7,571.6Q3171.8,584.2 3167.6,587Q3163.5,589.8 3156,594.8Q3148.5,599.8 3144.3,602.5Q3140.2,605.3 3136,617.9Q3131.8,630.6 3126.5,633.7Q3121.2,636.9 3118.1,629.5Q3114.9,622.2 3112.8,613.7Z" fill="#FFAA00" clip-path="url(#c2)"/>
<path d="M3041.2,688.5Q3041.2,683.2 3046.5,679Q3051.7,674.8 3058,670.6Q3064.4,666.4 3068.6,660.1Q3072.8,653.8 3074.9,648.5Q3077,643.2 3079.1,639Q3081.2,634.8 3087.5,630.6Q3093.8,626.4 3100.2,623.2Q3106.5,620.1 3111.7,623.2Q3117,626.4 3120.7,629.7Q3124.4,633.1 3128.6,636.9Q3132.8,640.7 3136.5,644.1Q3140.2,647.4 3141.4,652.3Q3142.6,657.1 3145.4,668.5Q3148.3,679.9 3149.5,684.7Q3150.7,689.6 3149.7,693.8Q3148.6,698 3144.4,704.3Q3140.2,710.6 3137,714.8Q3133.9,719 3131.8,714.8Q3129.7,710.6 3130.7,704.3Q3131.8,698 3127.5,699Q3123.3,700.1 3120.2,698Q3117,695.9 3105.4,698Q3093.8,700.1 3081.2,703.3Q3068.6,706.4 3060.1,708.5Q3051.7,710.6 3047.5,707.5Q3043.3,704.3 3042.2,699Q3041.2,693.8 3041.2,688.5Z" fill="#FFAA00" clip-path="url(#c2)"/>
<path d="M3053.8,787.5Q3051.7,786.4 3058,783.3Q3064.4,780.1 3070.7,777Q3077,773.8 3072.8,778Q3068.6,782.2 3062.3,785.4Q3055.9,788.6 3053.8,787.5Z" fill="#FFAA00" clip-path="url(#c2)"/>
<path d="M1383.3,883.9Q1382.4,875.6 1387.9,872.9Q1393.4,870.1 1398.9,872Q1404.4,873.8 1407.1,879.3Q1409.9,884.8 1407.1,890.3Q1404.4,895.8 1398.9,897.6Q1393.4,899.5 1388.8,895.8Q1384.2,892.1 1383.3,883.9Z" fill="#FFAA00" clip-path="url(#c3)"/>
<path d="M920.5,844Q920.9,839 925.9,839Q930.9,839 946.5,839Q962.2,839 967.2,839Q972.2,839 972.6,844Q973.1,849 974,859.2Q974.9,869.3 975.4,874.3Q975.8,879.3 983.2,886.6Q990.5,894 999.6,890.3Q1008.8,886.6 1012.5,881.1Q1016.1,875.6 1016.6,870.7Q1017.1,865.7 1017.9,857.3Q1018.8,849 1019.3,844Q1019.8,839 1024.8,839Q1029.8,839 1072.9,839Q1116,839 1121,839Q1126,839 1125.6,844Q1125.2,849 1124.2,862.8Q1123.1,876.7 1122.7,881.6Q1122.3,886.6 1120.9,891.4Q1119.5,896.2 1116.8,904.9Q1114.2,913.7 1112.8,918.5Q1111.4,923.3 1110.4,928.2Q1109.4,933.1 1107.7,941.6Q1106,950.1 1105,955Q1104,959.9 1104.5,964.9Q1105,969.8 1105.9,978.2Q1106.7,986.6 1107.2,991.5Q1107.7,996.5 1108.7,1001.4Q1109.7,1006.3 1111.4,1014.8Q1113.1,1023.3 1114,1028.2Q1115,1033.2 1116.5,1037.9Q1117.9,1042.7 1120.5,1051.5Q1123.1,1060.2 1124.6,1065Q1126,1069.8 1126.5,1074.8Q1127,1079.7 1127.8,1088.1Q1128.7,1096.5 1129.2,1101.4Q1129.7,1106.4 1130.2,1111.4Q1130.7,1116.4 1131.5,1124.7Q1132.3,1133.1 1132.8,1138.1Q1133.3,1143 1133.8,1148Q1134.3,1153 1135.2,1161.4Q1136,1169.7 1136.5,1174.7Q1137,1179.7 1138.4,1184.5Q1139.9,1189.2 1142.5,1198Q1145.1,1206.7 1146.5,1211.5Q1148,1216.3 1153.5,1227.3Q1159,1238.3 1168.1,1245.6Q1177.3,1252.9 1177.3,1260.3Q1177.3,1267.6 1181.9,1271.2Q1186.4,1274.9 1186.2,1279.9Q1185.9,1284.9 1185.5,1291.4Q1185.2,1297.9 1184.9,1302.9Q1184.6,1307.9 1179.6,1307.9Q1174.6,1307.9 1120.5,1307.9Q1066.4,1307.9 1061.4,1307.9Q1056.4,1307.9 1054.6,1303.2Q1052.7,1298.6 1038.1,1262.1Q1023.5,1225.6 1021.6,1220.9Q1019.8,1216.3 1016,1213Q1012.2,1209.8 955.7,1161.4Q899.2,1112.9 895.4,1109.7Q891.6,1106.4 891.6,1101.4Q891.6,1096.4 891.6,1060.6Q891.6,1024.8 891.6,1019.8Q891.6,1014.8 900.7,1005.7Q909.9,996.5 910.1,991.5Q910.4,986.5 911.7,959.9Q913.1,933.2 913.3,928.3Q913.6,923.3 914.1,918.3Q914.5,913.3 915.4,904.9Q916.2,896.6 916.7,891.6Q917.2,886.6 917.6,881.6Q918,876.7 919,862.8Q920.1,849 920.5,844Z" fill="#FFAA00" clip-path="url(#c3)"/>
<path d="M1177.3,1296.9Q1170,1289.6 1177.3,1287.7Q1184.6,1285.9 1191.9,1289.6Q1199.3,1293.2 1199.3,1302.4Q1199.3,1311.5 1191.9,1307.9Q1184.6,1304.2 1177.3,1296.9Z" fill="#FFAA00" clip-path="url(#c3)"/>
<path d="M1314.7,1379.3Q1309.2,1373.8 1316.5,1368.3Q1323.8,1362.8 1333,1360.1Q1342.1,1357.3 1351.3,1360.1Q1360.4,1362.8 1369.6,1362.8Q1378.8,1362.8 1383.3,1368.3Q1387.9,1373.8 1383.3,1379.3Q1378.8,1384.8 1367.8,1381.1Q1356.8,1377.5 1345.8,1379.3Q1334.8,1381.1 1327.5,1383Q1320.1,1384.8 1314.7,1379.3Z" fill="#FFAA00" clip-path="url(#c3)"/>
<path d="M1945.2,922.3Q1942.5,917.8 1947.1,916.8Q1951.6,915.9 1953.5,919.6Q1955.3,923.3 1951.6,925.1Q1948,926.9 1945.2,922.3Z" fill="#FFAA00" clip-path="url(#c4)"/>
<path d="M2098.2,1188.8Q2094.5,1183.3 2099.1,1182.4Q2103.7,1181.5 2107.3,1187Q2111,1192.5 2106.4,1193.4Q2101.8,1194.3 2098.2,1188.8Z" fill="#FFAA00" clip-path="url(#c4)"/>
<path d="M2715,1251.1Q2711.4,1247.4 2715,1245.6Q2718.7,1243.8 2721.4,1246.5Q2724.2,1249.3 2721.4,1252Q2718.7,1254.8 2715,1251.1Z" fill="#FFAA00" clip-path="url(#c5)"/>
<path d="M2530,1227.3Q2528.2,1220 2537.4,1216.3Q2546.5,1212.6 2555.7,1207.1Q2564.8,1201.6 2574,1194.3Q2583.2,1187 2590.5,1181.5Q2597.8,1176 2607,1177.8Q2616.1,1179.7 2621.6,1187Q2627.1,1194.3 2634.4,1198Q2641.8,1201.6 2649.1,1207.1Q2656.4,1212.6 2661.9,1220Q2667.4,1227.3 2671.1,1236.4Q2674.7,1245.6 2672.9,1252.9Q2671.1,1260.3 2676.6,1265.8Q2682.1,1271.2 2687.5,1274.9Q2693,1278.6 2689.4,1284.1Q2685.7,1289.6 2678.4,1295.1Q2671.1,1300.5 2663.7,1306Q2656.4,1311.5 2649.1,1318.9Q2641.8,1326.2 2634.4,1331.7Q2627.1,1337.2 2619.8,1340.8Q2612.5,1344.5 2605.1,1348.2Q2597.8,1351.8 2590.5,1353.7Q2583.2,1355.5 2581.3,1348.2Q2579.5,1340.8 2575.8,1333.5Q2572.2,1326.2 2566.7,1322.5Q2561.2,1318.9 2559.3,1311.5Q2557.5,1304.2 2561.2,1296.9Q2564.8,1289.6 2563,1280.4Q2561.2,1271.2 2564.8,1263.9Q2568.5,1256.6 2564.8,1249.3Q2561.2,1241.9 2553.8,1240.1Q2546.5,1238.3 2539.2,1236.4Q2531.9,1234.6 2530,1227.3Z" fill="#FFAA00" clip-path="url(#c5)"/>
<path d="M2517.2,1318.9Q2515.4,1315.2 2520,1306Q2524.5,1296.9 2530,1291.4Q2535.5,1285.9 2539.2,1289.6Q2542.9,1293.2 2539.2,1300.5Q2535.5,1307.9 2531.9,1315.2Q2528.2,1322.5 2523.6,1322.5Q2519,1322.5 2517.2,1318.9Z" fill="#FFAA00" clip-path="url(#c5)"/>
<path d="M2663.7,1342.7Q2663.7,1337.2 2669.2,1329.9Q2674.7,1322.5 2682.1,1318.9Q2689.4,1315.2 2691.2,1320.7Q2693,1326.2 2687.5,1333.5Q2682.1,1340.8 2676.6,1346.3Q2671.1,1351.8 2667.4,1350Q2663.7,1348.2 2663.7,1342.7Z" fill="#FFAA00" clip-path="url(#c5)"/>
<path d="M2352.2,1289.6Q2349.7,1282.1 2357.3,1277Q2364.8,1272 2372.4,1273.2Q2379.9,1274.5 2377.4,1283.3Q2374.9,1292.1 2364.8,1294.6Q2354.8,1297.2 2352.2,1289.6Z" fill="#FFAA00"/>
<path d="M2406.4,1297.2Q2405.1,1287.1 2412.7,1279.5Q2420.2,1272 2430.3,1272Q2440.4,1272 2444.2,1282.1Q2447.9,1292.1 2444.2,1302.2Q2440.4,1312.3 2430.3,1317.3Q2420.2,1322.3 2413.9,1314.8Q2407.6,1307.2 2406.4,1297.2Z" fill="#FFAA00"/>
<path d="M1458.9,625.5Q1459.6,618.7 1467.2,611.8Q1474.7,604.9 1485.7,596.7Q1496.7,588.5 1503.6,588.5Q1510.4,588.5 1520.1,595.3Q1529.7,602.2 1542,604.9Q1554.4,607.7 1561.3,613.2Q1568.1,618.7 1572.3,625.5Q1576.4,632.4 1583.2,639.3Q1590.1,646.2 1597,651.6Q1603.8,657.1 1599.7,658.5Q1595.6,659.9 1590.1,654.4Q1584.6,648.9 1577.7,646.2Q1570.9,643.4 1562.6,637.9Q1554.4,632.4 1546.2,631Q1537.9,629.7 1532.4,633.8Q1526.9,637.9 1521.4,644.8Q1515.9,651.6 1509.1,655.8Q1502.2,659.9 1494,664Q1485.7,668.1 1476.1,668.1Q1466.5,668.1 1462.4,664Q1458.2,659.9 1458.2,646.2Q1458.2,632.4 1458.9,625.5Z" fill="#FFAA00"/>
<path d="M891.6,979.5Q891.6,974.5 900.7,976.4Q909.9,978.2 910.3,983.2Q910.7,988.2 911.7,1002Q912.8,1015.9 913.2,1020.8Q913.6,1025.8 909.9,1029.5Q906.2,1033.2 898.9,1024Q891.6,1014.8 891.6,1009.8Q891.6,1004.8 891.6,994.7Q891.6,984.5 891.6,979.5Z" fill="#FCD37F" clip-path="url(#c3)"/>
<path d="M1731,625.5Q1728.2,616.3 1733.7,614.5Q1739.2,612.6 1742.9,609.9Q1746.5,607.1 1753.8,606.2Q1761.2,605.3 1764.8,610.8Q1768.5,616.3 1769.4,625.5Q1770.3,634.6 1768.5,643.8Q1766.7,652.9 1762.1,656.2Q1757.5,659.5 1752,656.2Q1746.5,652.9 1743.8,647.4Q1741,641.9 1737.4,638.3Q1733.7,634.6 1731,625.5Z" fill="#E60000" clip-path="url(#c1)"/>
<path d="M2806.9,709.6Q2806.3,704.3 2810,701.7Q2813.7,699 2821.1,697.5Q2828.5,695.9 2839,694.8Q2849.5,693.8 2857.9,694.3Q2866.4,694.8 2874.8,696.4Q2883.2,698 2888.5,701.1Q2893.8,704.3 2896.9,709.6Q2900.1,714.8 2901.1,720.1Q2902.2,725.4 2900.1,730.6Q2898,735.9 2894.8,738Q2891.6,740.1 2887.4,739.1Q2883.2,738 2876.9,735.9Q2870.6,733.8 2864.3,732.7Q2857.9,731.7 2849.5,732.2Q2841.1,732.7 2832.7,731.7Q2824.2,730.6 2819,728Q2813.7,725.4 2810.6,720.1Q2807.4,714.8 2806.9,709.6Z" fill="#E60000" clip-path="url(#c2)"/>
<path d="M3087,641.1Q3086.5,636.9 3090.2,632.7Q3093.8,628.5 3100.2,626.9Q3106.5,625.3 3111.7,626.9Q3117,628.5 3121.2,631.6Q3125.4,634.8 3126.5,641.1Q3127.5,647.4 3128.6,653.8Q3129.7,660.1 3128.6,664.3Q3127.5,668.5 3127,671.7Q3126.5,674.8 3129.1,679Q3131.8,683.2 3132.3,686.4Q3132.8,689.6 3131.2,693.8Q3129.7,698 3124.4,699Q3119.1,700.1 3114.9,696.9Q3110.7,693.8 3108.6,688.5Q3106.5,683.2 3107,675.9Q3107.5,668.5 3109.1,663.2Q3110.7,658 3106.5,656.9Q3102.3,655.9 3098.1,653.8Q3093.8,651.6 3090.7,648.5Q3087.5,645.3 3087,641.1Z" fill="#E60000" clip-path="url(#c2)"/>
<path d="M913.6,920.9Q913.6,915.9 918.5,915.4Q923.5,914.8 930,914.1Q936.6,913.4 941.6,912.8Q946.5,912.3 951.4,911.3Q956.3,910.3 964.8,908.6Q973.3,906.9 978.2,905.9Q983.2,904.9 996,903.1Q1008.8,901.3 1014.3,907.7Q1019.8,914.1 1028.9,916.8Q1038.1,919.6 1041,923.7Q1043.9,927.7 1047.3,932.4Q1050.6,937.1 1053.5,941.2Q1056.4,945.2 1058.6,949.7Q1060.9,954.2 1063.7,959.9Q1066.6,965.6 1068.8,970.1Q1071.1,974.5 1073.3,979Q1075.5,983.5 1078.4,989.2Q1081.2,994.9 1083.5,999.4Q1085.7,1003.8 1085.7,1018.5Q1085.7,1033.2 1086.7,1038.1Q1087.7,1043 1089.4,1051.5Q1091.1,1060 1092.1,1064.9Q1093,1069.8 1094.8,1074.5Q1096.6,1079.1 1098.5,1084.4Q1100.5,1089.7 1102.3,1094.4Q1104,1099.1 1107.7,1106.4Q1111.4,1113.7 1111.4,1128.4Q1111.4,1143 1110.4,1147.9Q1109.4,1152.8 1107.7,1161.4Q1106,1169.9 1105,1174.8Q1104,1179.7 1103,1184.6Q1102.1,1189.5 1100.4,1198Q1098.7,1206.5 1097.7,1211.4Q1096.7,1216.3 1093,1227.3Q1089.4,1238.3 1089.9,1243.2Q1090.5,1248.2 1091.2,1254.8Q1091.9,1261.3 1092.5,1266.3Q1093,1271.2 1093,1276.2Q1093,1281.2 1093,1289.6Q1093,1297.9 1093,1302.9Q1093,1307.9 1088,1307.9Q1083,1307.9 1065.6,1307.9Q1048.1,1307.9 1043.1,1307.9Q1038.1,1307.9 1037.3,1302.9Q1036.5,1298 1028.9,1252.9Q1021.4,1207.8 1020.6,1202.9Q1019.8,1198 1015.6,1195.3Q1011.3,1192.6 964.8,1163.2Q918.3,1133.7 914.1,1131.1Q909.9,1128.4 909.9,1123.4Q909.9,1118.4 909.9,1078.9Q909.9,1039.5 909.9,1034.5Q909.9,1029.5 909.3,1024.5Q908.8,1019.5 908.1,1013Q907.3,1006.5 906.8,1001.5Q906.2,996.5 907.2,991.6Q908.2,986.7 909.9,978.2Q911.6,969.7 912.6,964.8Q913.6,959.9 913.6,954.9Q913.6,949.9 913.6,937.9Q913.6,925.9 913.6,920.9Z" fill="#E60000" clip-path="url(#c3)"/>
<path d="M2532.8,1231Q2530,1223.6 2536.4,1220.9Q2542.9,1218.1 2550.2,1219Q2557.5,1220 2561.2,1225.5Q2564.8,1231 2559.3,1234.6Q2553.8,1238.3 2548.4,1236.4Q2542.9,1234.6 2539.2,1236.4Q2535.5,1238.3 2532.8,1231Z" fill="#E60000" clip-path="url(#c5)"/>
<path d="M2574,1242.9Q2572.2,1234.6 2577.7,1227.3Q2583.2,1220 2586.8,1225.5Q2590.5,1231 2588.6,1238.3Q2586.8,1245.6 2581.3,1248.4Q2575.8,1251.1 2574,1242.9Z" fill="#E60000" clip-path="url(#c5)"/>
<path d="M2600.5,1274.9Q2599.6,1271.2 2604.2,1262.1Q2608.8,1252.9 2614.3,1249.3Q2619.8,1245.6 2623.4,1249.3Q2627.1,1252.9 2625.3,1260.3Q2623.4,1267.6 2617.9,1273.1Q2612.5,1278.6 2607,1278.6Q2601.5,1278.6 2600.5,1274.9Z" fill="#E60000" clip-path="url(#c5)"/>
<path d="M2630.8,1296.9Q2630.8,1289.6 2638.1,1291.4Q2645.4,1293.2 2647.3,1300.5Q2649.1,1307.9 2643.6,1315.2Q2638.1,1322.5 2630.8,1326.2Q2623.4,1329.9 2616.1,1332.6Q2608.8,1335.3 2602.4,1332.6Q2596,1329.9 2598.7,1324.4Q2601.5,1318.9 2610.6,1315.2Q2619.8,1311.5 2625.3,1307.9Q2630.8,1304.2 2630.8,1296.9Z" fill="#E60000" clip-path="url(#c5)"/>
<path d="M998.7,961.7Q996,956.2 1000.5,950.7Q1005.1,945.2 1016.1,943.4Q1027.1,941.6 1032.6,944.3Q1038.1,947.1 1043.6,955.3Q1049.1,963.6 1054.6,974.5Q1060.1,985.5 1061.9,996.5Q1063.7,1007.5 1065.6,1020.3Q1067.4,1033.2 1068.3,1047.8Q1069.2,1062.5 1066.5,1069.8Q1063.7,1077.1 1056.4,1082.6Q1049.1,1088.1 1043.6,1095.4Q1038.1,1102.7 1035.3,1109.2Q1032.6,1115.6 1026.2,1113.7Q1019.8,1111.9 1014.3,1101.8Q1008.8,1091.8 1001.5,1084.4Q994.1,1077.1 989.6,1067.9Q985,1058.8 983.2,1046Q981.3,1033.2 985.9,1027.7Q990.5,1022.2 997.8,1022.2Q1005.1,1022.2 1010.6,1016.7Q1016.1,1011.2 1017.9,1003.8Q1019.8,996.5 1016.1,987.4Q1012.5,978.2 1007,972.7Q1001.5,967.2 998.7,961.7Z" fill="#730000" clip-path="url(#c3)"/>
<path d="M900.7,1040.5Q909.9,1033.2 911.7,1020.3Q913.6,1007.5 920.9,1000.2Q928.2,992.9 937.4,994.7Q946.5,996.5 955.7,1001.1Q964.8,1005.7 970.3,1013Q975.8,1020.3 978.6,1030.4Q981.3,1040.5 984.1,1051.5Q986.8,1062.5 992.3,1071.6Q997.8,1080.8 1005.1,1088.1Q1012.5,1095.4 1016.1,1102.7Q1019.8,1110.1 1027.1,1114.7Q1034.4,1119.2 1036.3,1129.3Q1038.1,1139.4 1045.4,1146.7Q1052.7,1154 1052.7,1166.8Q1052.7,1179.7 1050.9,1188.8Q1049.1,1198 1046.3,1207.1Q1043.6,1216.3 1031.7,1216.3Q1019.8,1216.3 1015.4,1213.8Q1011.1,1211.3 955.7,1179.7Q900.3,1148 895.9,1145.5Q891.6,1143 891.6,1138Q891.6,1133 891.6,1095.4Q891.6,1057.8 891.6,1052.8Q891.6,1047.8 900.7,1040.5Z" fill="#730000" clip-path="url(#c3)"/>
<path d="M981.3,1005.7Q983.2,996.5 994.1,991Q1005.1,985.5 1012.5,987.4Q1019.8,989.2 1019.8,998.4Q1019.8,1007.5 1014.3,1014.8Q1008.8,1022.2 999.6,1024Q990.5,1025.8 985,1020.3Q979.5,1014.8 981.3,1005.7Z" fill="#E60000" clip-path="url(#c3)"/>
<path d="M913.6,1050.5Q911.7,1044.1 918.1,1043.2Q924.5,1042.3 928.2,1046Q931.9,1049.6 930,1054.2Q928.2,1058.8 921.8,1057.9Q915.4,1057 913.6,1050.5Z" fill="#E60000" clip-path="url(#c3)"/>
<path d="M886.6,933.3Q886.1,921.4 894.3,922.3Q902.6,923.3 903.2,928.2Q903.8,933.2 904.8,941.6Q905.8,950 906.4,954.9Q907,959.9 904.8,968.1Q902.6,976.4 898,970.9Q893.4,965.4 890.3,955.3Q887.2,945.2 886.6,933.3Z" fill="#FFFF00" clip-path="url(#c3)"/>
<path d="M810.8,690.8 1232.1,690.8 1232.1,1011.4 810.8,1011.4Z" fill="#FFFF00" clip-path="url(#c10)"/>
<path d="M1193.1,690.8Q1188.1,690.8 1186.3,704.6Q1184.5,718.3 1182.2,727.5Q1179.9,736.6 1180.8,748.5Q1181.7,760.4 1184.9,773.3Q1188.1,786.1 1190,799.8Q1191.8,813.6 1192.7,825.5Q1193.6,837.4 1192.7,849.3Q1191.8,861.2 1187.2,870.3Q1182.6,879.5 1178.1,888.6Q1173.5,897.8 1168.9,907Q1164.3,916.1 1163.4,923.4Q1162.5,930.8 1167.1,935.3Q1171.6,939.9 1179,943.6Q1186.3,947.3 1193.6,951.8Q1201,956.4 1206.4,961.9Q1211.9,967.4 1216,971.1Q1220,974.7 1226,979.3Q1232.1,983.9 1232.1,978.9Q1232.1,973.9 1232.1,837.4Q1232.1,700.8 1232.1,695.8Q1232.1,690.8 1227.1,690.8Q1222.1,690.8 1210.1,690.8Q1198.1,690.8 1193.1,690.8Z" fill="#FFFFFF" clip-path="url(#c10)"/>
<path d="M1000.8,690.8Q995.8,690.8 994,704.6Q992.2,718.3 989.4,729.3Q986.7,740.3 983.9,747.6Q981.2,754.9 976.6,759.5Q972,764.1 965.6,767.3Q959.2,770.5 952.8,770.1Q946.4,769.6 942.7,768.7Q939,767.8 927.1,767.3Q915.2,766.8 907,767.3Q898.8,767.8 894.2,770.5Q889.6,773.3 885.9,782.4Q882.3,791.6 880.4,802.6Q878.6,813.6 878.2,820.9Q877.7,828.2 880,836.4Q882.3,844.7 885.9,848.4Q889.6,852 895.1,854.8Q900.6,857.5 904.2,861.2Q907.9,864.8 908.8,874Q909.7,883.2 909.7,888.6Q909.7,894.1 906.1,902.4Q902.4,910.6 902.4,915.6Q902.4,920.6 902.4,961Q902.4,1001.4 902.4,1006.4Q902.4,1011.4 907.4,1011.4Q912.4,1011.4 1018.7,1011.4Q1125,1011.4 1130,1011.4Q1135,1011.4 1133.2,1005.7Q1131.4,1000 1127.7,992.9Q1124,985.7 1121.7,978.4Q1119.5,971.1 1119.9,963.7Q1120.4,956.4 1123.1,947.3Q1125.9,938.1 1130.4,928.9Q1135,919.8 1140.5,910.6Q1146,901.5 1147.8,892.3Q1149.7,883.2 1149.7,874Q1149.7,864.8 1148.8,855.7Q1147.8,846.5 1145.1,835.5Q1142.3,824.5 1138.7,813.6Q1135,802.6 1131.4,792.5Q1127.7,782.4 1124,770.5Q1120.4,758.6 1116.7,747.6Q1113,736.6 1111.2,727.5Q1109.4,718.3 1108.9,714.7Q1108.5,711 1112.6,708.2Q1116.7,705.5 1124,710.1Q1131.4,714.7 1145.1,716Q1158.8,717.4 1168.9,714.2Q1179,711 1182.6,708.2Q1186.3,705.5 1187.2,698.2Q1188.1,690.8 1183.1,690.8Q1178.1,690.8 1092,690.8Q1005.8,690.8 1000.8,690.8Z" fill="#FCD37F" clip-path="url(#c10)"/>
<path d="M1009.6,795.2Q1006.8,787.9 1010.5,783.3Q1014.1,778.8 1020.5,776Q1027,773.3 1037.9,771.4Q1048.9,769.6 1060.8,769.1Q1072.7,768.7 1081.9,771Q1091.1,773.3 1098.4,776Q1105.7,778.8 1111.2,782.4Q1116.7,786.1 1118.5,794.3Q1120.4,802.6 1123.1,811.7Q1125.9,820.9 1127.7,833.7Q1129.5,846.5 1128.6,855.7Q1127.7,864.8 1125.9,872.2Q1124,879.5 1122.2,890.5Q1120.4,901.5 1117.6,910.6Q1114.9,919.8 1113,928.9Q1111.2,938.1 1108.5,947.3Q1105.7,956.4 1104.8,965.6Q1103.9,974.7 1104.8,987.4Q1105.7,1000 1105.7,1005.7Q1105.7,1011.4 1100.7,1011.4Q1095.7,1011.4 1004.1,1011.4Q912.4,1011.4 907.4,1011.4Q902.4,1011.4 902.4,1006.4Q902.4,1001.4 902.4,961Q902.4,920.6 902.4,915.6Q902.4,910.6 906.1,906Q909.7,901.5 914.3,897.8Q918.9,894.1 919.4,885Q919.8,875.8 918.4,867.6Q917.1,859.3 914.3,851.1Q911.6,842.9 910.7,837.4Q909.7,831.9 912.5,831Q915.2,830 918.9,831.9Q922.6,833.7 927.1,841.9Q931.7,850.2 934.5,857.5Q937.2,864.8 940.9,870.3Q944.5,875.8 950,876.3Q955.5,876.7 962.9,876.3Q970.2,875.8 975.7,877.7Q981.2,879.5 984.8,885Q988.5,890.5 992.2,894.1Q995.8,897.8 1001.3,895.1Q1006.8,892.3 1007.7,884.1Q1008.6,875.8 1007.3,868.5Q1005.9,861.2 1006.4,850.2Q1006.8,839.2 1008.6,831.9Q1010.5,824.5 1011.4,813.6Q1012.3,802.6 1009.6,795.2Z" fill="#FFAA00" clip-path="url(#c10)"/>
<path d="M914.8,920.7Q915.2,916.1 918.9,914.3Q922.6,912.5 935.4,912Q948.2,911.5 959.2,911.1Q970.2,910.6 977.5,908.8Q984.8,907 994,905.1Q1003.2,903.3 1007.7,902.8Q1012.3,902.4 1015.1,908.3Q1017.8,914.3 1027,915.7Q1036.1,917 1042.5,922.1Q1048.9,927.1 1055.3,935.3Q1061.8,943.6 1069.1,954.6Q1076.4,965.6 1081,974.7Q1085.6,983.9 1086.5,991.9Q1087.4,1000 1087.4,1005.7Q1087.4,1011.4 1082.4,1011.4Q1077.4,1011.4 996.7,1011.4Q916.1,1011.4 911.1,1011.4Q906.1,1011.4 907,1002.2Q907.9,993 912.5,983.9Q917.1,974.7 918,965.6Q918.9,956.4 917.1,947.3Q915.2,938.1 914.8,931.7Q914.3,925.3 914.8,920.7Z" fill="#E60000" clip-path="url(#c10)"/>
<path d="M999,963.7Q994.9,958.2 999,952.7Q1003.2,947.3 1012.3,944.5Q1021.5,941.8 1027.9,941.8Q1034.3,941.8 1038.9,948.2Q1043.4,954.6 1047.1,962.8Q1050.8,971.1 1054.4,978.4Q1058.1,985.7 1061.8,992.9Q1065.4,1000 1065.4,1005.7Q1065.4,1011.4 1060.4,1011.4Q1055.4,1011.4 1041.6,1011.4Q1027.8,1011.4 1022.8,1011.4Q1017.8,1011.4 1016,998.5Q1014.1,985.7 1008.6,977.5Q1003.2,969.2 999,963.7Z" fill="#730000" clip-path="url(#c10)"/>
<path d="M918.9,1004.5Q918.9,997.6 924.4,995.3Q929.9,993 939,996.7Q948.2,1000.4 948.2,1005.9Q948.2,1011.4 933.6,1011.4Q918.9,1011.4 918.9,1004.5Z" fill="#730000" clip-path="url(#c10)"/>
</g>
<g id="sea" fill="#fff" stroke="none">
<path d="M1600,398.4 1532.6,388.5 1459.3,376.4 1386.1,362.8 1312.8,348.9 1265.2,339.7 1202.9,325.1 1148,311.5 1107.7,301.3 1054.6,285.5 1056.4,295.8 1063,304.9 1060.8,314.1 1052.7,319.6 1058.2,328.8 1060.8,343.4 1054.6,354.4 1052.7,367.2 1046.2,376.4 1038.1,383.7 1019.8,391 1014.3,381.9 1019.8,370.9 1034.4,359.9 1039.9,347.1 1038.1,336.1 1034.4,328.8 1019.8,323.3 997.8,317.8 986.8,310.4 974,298.7 969.6,308.6 970.3,323.3 974,334.2 975.1,356.2 975.8,374.5 972.2,385.5 970.3,396.5 966.7,411.2 964.8,425.8 961.2,440.5 957.5,458.8 952,473.4 946.5,491.8 939.2,510.1 931.9,532.1 920.9,554 909.9,572.3 898.9,585.2 887.9,601.6 887.9,616.3 882.4,634.6 883.5,652.9 881.3,671.2 876.9,696.9 871.4,717 860.4,729.9 851.3,742.7 854.9,761 862.3,777.5 858.6,795.8 856.8,821.4 860.4,850 861.5,872.7 763.4,872.7 763.4,213.4 1642.5,213.4Z" clip-path="url(#c0)"/>
<path d="M1581.7,395.8 1600,398.4 1673.3,408.2 1763,417.8 1856.4,424 1966.3,428.8 2024.9,430.2 2105.5,429.5 2106.2,409.3 2116.5,410.1 2122,440.5 2131.1,446 2140.3,447.8 2156.8,455.1 2178.8,449.6 2200.7,453.3 2215.4,462.5 2217.2,469.8 2230,466.1 2244.7,477.1 2259.3,475.3 2270.3,467.9 2285,477.1 2307,475.3 2328.9,478.9 2424.2,433.2 2424.2,231.7 1581.7,231.7Z" clip-path="url(#c1)"/>
<path d="M2760,763.3 2771.6,752.7 2777.9,742.2 2786.3,731.7 2791.6,721.2 2786.3,716.9 2788.4,710.6 2781.1,706.4 2777.9,698 2788.4,692.7 2803.2,687.5 2820,684.3 2834.8,685.3 2849.5,681.1 2866.4,679 2876.9,672.7 2885.3,664.3 2892.7,658 2889.5,647.4 2887.4,639 2891.6,634.8 2887.4,628.5 2879,628.5 2885.3,622.2 2893.8,613.7 2896.9,605.3 2904.3,592.7 2912.7,582.1 2921.1,571.6 2927.5,565.3 2933.8,562.1 2990.6,550.5 3060.1,531.6 3062.3,523.2 3058,519 3065.4,513.7 3072.8,511.6 3077,504.2 3085.4,489.5 3085.4,478.9 2718.9,478.9 2718.9,778 2740,775.9Z" clip-path="url(#c2)"/>
<path d="M3245.5,493.7 3238.8,501.3 3229.7,503.2 3224.2,510.5 3216.8,514.1 3213.3,521.5 3209.5,527 3200.4,537.9 3193,530.5 3189.5,539.8 3178.3,539.8 3178.3,527 3172.8,532.4 3172.8,558.1 3167.4,565.5 3161.9,561.7 3160,572.7 3152.8,576.5 3150.9,581.9 3138.1,585.5 3133.4,591 3134.5,598.4 3130.7,607.6 3127.1,613.1 3125.2,620.1 3125.4,628.5 3121.2,634.8 3123.3,647.4 3133.9,653.8 3133.9,658 3125.4,660.1 3123.3,668.5 3121.2,674.8 3125.4,681.1 3133.9,683.2 3140.2,689.6 3148.6,698 3152.8,698 3161.2,699 3171.8,696.9 3177,693.8 3173.9,685.3 3165.5,681.1 3152.8,683.2 3165.5,683.2 3171.8,687.5 3173.9,693.8 3171.8,700.1 3150.7,705.4 3140.2,712.7 3133.9,719 3127.5,726.4 3121.2,723.3 3117,729.6 3108.6,738 3098.1,742.2 3077,748.5 3055.9,755.9 3041.2,765.4 3030.7,775.9 3022.2,790.7 3013.8,805.4 3011.7,815.9 3022.2,818 3026.4,828.6 3025.4,850.1 3025.4,868.6 3224.4,868.6 3245.5,868.6Z" clip-path="url(#c2)"/>
<path d="M860.4,831.7 860.4,850 865.9,864.7 876.9,883 871.4,894 887.9,897.6 891.6,912.3 886.1,923.3 887.9,945.2 895.2,963.6 904.4,974.5 898.9,985.5 893.4,996.5 898.9,1014.8 908.1,1033.2 911.7,1047.8 920.9,1062.5 924.5,1080.8 926.4,1099.1 922.7,1113.7 928.2,1122.9 946.5,1128.4 964.8,1135.7 979.5,1146.7 990.5,1161.4 1005.1,1166.8 1014.3,1179.7 1019.8,1187 1034.4,1198 1045.4,1216.3 1052.7,1234.6 1056.4,1252.9 1054.6,1263.9 1060.1,1271.2 1184.6,1284.1 1166.3,1295.1 1239.6,1339 1334.8,1394 1433.7,1406.8 1474,1414.1 1475.8,1388.5 1550.9,1395.8 1561.9,1406.8 1576.6,1428.8 1600,1450 1605.9,1472.7 763.4,1472.7 763.4,831.7Z" clip-path="url(#c3)"/>
<path d="M3027.3,798.3 3027.3,820.3 3027.3,834.9 3025.4,856.9 3021.8,871.6 3016.3,882.6 3010.8,897.2 3007.1,908.2 3001.6,906.4 3003.4,897.2 2996.1,893.6 2981.5,889.9 2972.3,884.4 2966.8,873.4 2965,877.1 2970.5,886.2 2977.8,893.6 2981.5,904.5 2992.5,915.5 2999.8,916.4 3004.4,935.7 3005.3,944.8 3003.4,955.8 2999.8,963.2 2996.1,977.8 2990.6,990.6 2985.1,1003.4 2981.5,1018.1 2981.5,1023.6 2983.2,1036.4 2997.1,1062.5 3015.4,1091.8 3024.5,1121.1 3000.7,1139.4 2989.7,1146.7 2986.1,1168.7 2960.4,1168.7 2942.1,1183.3 2927.5,1201.6 2923.8,1220 2898.2,1229.1 2879.9,1249.3 2876.2,1271.2 2865.2,1282.2 2846.9,1304.2 2828.6,1318.9 2810.3,1337.2 2799.3,1355.5 2793.8,1381.1 2788.3,1406.8 2784.6,1436.1 2781,1458.1 3242.5,1472.7 3242.5,666.8Z" clip-path="url(#c5)"/>
<path d="M1554.9,1381.7 1560.4,1400 1569.6,1414.7 1584.2,1429.3 1598.9,1447.6 1609.9,1458.6 1628.2,1469.6 1633.7,1487.9 1639.2,1502.6 1641,1517.2 1646.5,1530 1661.2,1542.9 1675.8,1553.8 1694.1,1564.8 1707,1575.8 1719.8,1561.2 1728.9,1546.5 1738.1,1533.7 1756.4,1526.4 1778.4,1531.9 1796.7,1533.7 1805.9,1542.9 1815,1552 1829.7,1568.5 1837,1583.2 1842.5,1601.5 1851.6,1619.8 1866.3,1634.4 1873.6,1649.1 1890.1,1663.7 1891.9,1678.4 1895.6,1696.7 1902.9,1711.4 1910.3,1729.7 1924.9,1735.2 1939.6,1744.3 1957.9,1753.5 1976.2,1753.5 1990.8,1760.8 1998.2,1766.3 2011,1762.6 2011,1748 2007.3,1729.7 2001.8,1711.4 1998.2,1693 2001.8,1674.7 2012.8,1656.4 2027.5,1641.8 2045.8,1627.1 2064.1,1612.5 2086.1,1605.1 2108.1,1590.5 2122.7,1572.2 2144.7,1557.5 2170.3,1546.5 2188.6,1541 2214.3,1539.2 2236.3,1546.5 2258.2,1550.2 2280.2,1546.5 2300,1542.9 2324.2,1543.6 2324.2,2022.7 1481.7,2022.7 1481.7,1381.7Z" clip-path="url(#c6)"/>
<path d="M2281.7,1546.5 2300,1550.2 2311,1561.2 2329.3,1568.5 2347.6,1564.8 2362.3,1561.2 2367.8,1572.2 2373.3,1557.5 2384.2,1553.8 2402.6,1564.8 2413.6,1575.8 2402.6,1586.8 2420.9,1564.8 2417.2,1553.8 2398.9,1546.5 2391.6,1539.2 2406.2,1535.5 2395.2,1524.5 2387.9,1509.9 2398.9,1502.6 2406.2,1497.1 2428.2,1491.6 2446.5,1495.2 2450.2,1491.6 2464.8,1497.1 2466.7,1469.6 2475.8,1487.9 2483.2,1495.2 2497.8,1491.6 2519.8,1482.4 2549.1,1478.8 2563.7,1484.2 2582.1,1491.6 2596.7,1498.9 2604,1509.9 2605.9,1519 2622.3,1513.6 2640.7,1502.6 2653.5,1497.1 2653.5,1489.7 2666.3,1487.2 2681,1491.6 2691.9,1500.7 2702.9,1509.9 2710.3,1520.9 2724.9,1530 2737.7,1533.7 2748.7,1548.4 2749.8,1568.5 2745.1,1590.5 2745.1,1608.8 2754.2,1619.8 2767,1608.8 2768.9,1599.6 2754.2,1596 2757.9,1612.5 2757.9,1627.1 2765.2,1638.1 2776.2,1652.7 2787.2,1660.1 2794.5,1671.1 2803.7,1678.4 2811,1693 2818.3,1705.9 2838.5,1709.5 2847.6,1715 2853.1,1729.7 2853.1,1744.3 2864.1,1742.5 2886.1,1738.8 2895.2,1729.7 2895.2,1711.4 2900.7,1693 2900,1671.1 2897.1,1645.4 2889.7,1627.1 2878.8,1612.5 2867.8,1590.5 2853.1,1564.8 2842.1,1542.9 2827.5,1517.2 2812.8,1491.6 2801.8,1469.6 2792.7,1447.6 2789,1429.3 2787.2,1400 2786.4,1381.7 3142.5,1381.7 3142.5,2022.7 2281.7,2022.7Z" clip-path="url(#c7)"/>
<path d="M3075.8,512.3 3081.3,503.2 3086.8,494 3085,488.5 3090.5,481.2 3096,475.7 3092.3,470.2 3097.8,464.7 3092.3,457.4 3090.5,448.2 3095.1,439 3096.9,429.9 3095.1,420.7 3098.7,407.9 3103.3,393.3 3107.9,380.4 3111.5,370.4 3119.8,370.4 3122.5,379.5 3128.9,383.2 3138.1,373.1 3146.3,370.4 3148.2,365.8 3153.7,365.8 3173.8,376.8 3178.4,393.3 3183.9,411.6 3189.4,429.9 3194,444.5 3194.9,451.9 3202.2,453.7 3211.4,451.9 3214.1,459.2 3211.4,462.9 3216.8,468.4 3217.8,475.7 3224.2,477.5 3226,472.9 3230.6,473.8 3237,483 3235.2,488.5 3243.4,490.3 3244.3,494 3321.2,494 3321.2,228.4 2881.7,228.4 2881.7,512.3Z" clip-path="url(#c8)"/>
<path d="M3244.3,494 3238.8,501.3 3229.7,503.2 3224.2,510.5 3216.8,514.1 3213.2,521.5 3209.5,527 3200.4,537.9 3193,530.6 3189.4,539.8 3178.4,539.8 3178.4,631.4 3321.2,631.4 3321.2,494Z" clip-path="url(#c9)"/>
</g>
<g id="lakes" fill="#97DBF2" stroke="#3B9BE8" stroke-width="1.5" stroke-linejoin="round">
<path d="M2103.7,396.5 2112.8,389.2 2123.8,374.5 2129.3,389.2 2138.5,391 2149.5,411.2 2145.8,424 2127.5,431.3 2120.1,436.8 2116.5,410.1 2106.2,409.3 2105.5,429.5 2098.2,433.2Z"/>
<path d="M2100,491.8 2103.7,484.4 2116.5,477.1 2129.3,476.4 2127.5,484.4 2120.1,493.6Z"/>
<path d="M2159.7,583.3 2169.6,581.5 2173.3,592.5 2164.1,594.3Z"/>
<path d="M2383.9,695.1 2390.5,694 2391.2,707.9 2386.8,717 2382.1,707.9Z"/>
<path d="M2990.6,552.7 2995.9,552.7 2998,563.2 3000.1,573.7 3001.2,584.2 2999.1,584.2 2994.9,573.7 2991.7,563.2Z"/>
<path d="M3083.3,603.2 3093.8,609.5 3096,613.7 3085.4,609.5Z"/>
<path d="M1118.7,1227.3 1126,1227.3 1131.5,1238.3 1138.8,1247.4 1133.3,1252.9 1126,1249.3 1120.5,1236.4Z"/>
<path d="M2842.1,1643.6 2849.5,1632.6 2856.8,1628.9 2865.9,1638.1 2865.9,1652.7 2856.8,1655.7 2849.5,1649.1Z"/>
<path d="M1010.5,864.8 1016,861.2 1021.5,863 1017.8,875.8 1012.3,875.8Z"/>
<path d="M1344.2,784.9 1359.3,789 1356.6,800 1364.8,805.5 1370.3,801.4 1384.1,804.1 1385.4,811 1375.8,817.9 1381.3,824.7 1386.8,838.5 1364.8,849.5 1353.8,838.5 1348.4,819.2 1340.1,816.5 1342.9,802.7Z"/>
<path d="M1474.7,644.8 1485.7,642 1488.5,655.8 1483,654.4 1477.5,650.3Z"/>
</g>
<g id="greatlakes" fill="#97DBF2" stroke="#1295F5" stroke-width="3.4" stroke-linejoin="round">
<path d="M2749.5,698 2752.6,685.3 2756.8,679 2771.6,666.4 2792.7,655.9 2817.9,645.3 2830.6,643.2 2828.5,636.9 2849.5,626.4 2853.7,628.5 2857.9,634.8 2866.4,630.6 2874.8,624.3 2887.4,615.8 2895.9,605.3 2896.9,605.3 2893.8,613.7 2885.3,622.2 2879,628.5 2887.4,628.5 2891.6,634.8 2887.4,639 2889.5,647.4 2892.7,658 2885.3,664.3 2876.9,672.7 2866.4,679 2849.5,681.1 2834.8,685.3 2820,684.3 2803.2,687.5 2788.4,692.7 2777.9,698 2767.4,702.2 2752.6,702.2Z"/>
<path d="M2225.2,558 2241.2,539.7 2261.8,519 2287,498.4 2309.9,487 2324.8,477.8 2332.8,468.7 2335.1,454.9 2337.4,449.2 2348.8,445.8 2360.3,429.8 2369.4,418.3 2378.6,416 2390,421.7 2406,426.3 2419.8,425.2 2428.9,424 2440.4,425.2 2447.3,434.3 2451.8,445.8 2456.4,454.9 2467.9,466.4 2486.2,467.5 2507.9,465.2 2506.8,473.3 2502.2,482.4 2511.4,491.6 2520.5,500.7 2517.1,516.8 2525.1,521.3 2533.1,523.6 2529.7,535.1 2527.4,541.9 2536.5,544.2 2527.4,546.5 2513.6,550 2507.9,548.8 2507.9,532.8 2497.6,535.1 2488.5,540.8 2463.3,543.1 2454.1,548.8 2446.1,560.3 2440.4,556.8 2435.8,558 2430.1,554.5 2415.2,556.8 2406,544.2 2396.9,537.4 2386.6,536.2 2376.3,541.9 2371.7,543.1 2372.8,535.1 2383.2,521.3 2392.3,512.2 2400.3,507.1 2394.6,504.2 2380.9,505.8 2367.1,513.3 2363.7,524.8 2358,527.1 2351.1,532.8 2344.2,535.1 2339.7,541.9 2319,546.5 2309.9,555.7 2298.4,561.4 2291.6,562.5 2273.3,564.8 2275.5,555.7 2280.1,544.2 2275.5,541.5 2254.9,551.1 2229.8,559.1 2225.2,558Z"/>
<path d="M2525.1,585.4 2518.2,580.9 2506.8,575.1 2493,571.7 2488.5,580.9 2474.7,582 2463.3,584.3 2461,592.3 2451.8,601.5 2449.5,604.9 2454.1,594.6 2442.7,593.5 2440.4,599.2 2431.2,602.6 2425.5,612.9 2419.8,624.4 2415.2,635.8 2412.9,642.7 2403.8,648.4 2399.2,667.9 2402.6,673.6 2408.3,666.7 2419.8,654.1 2428.9,642.7 2438.1,626.6 2440.4,618.6 2437,631.2 2432.4,642.7 2426.6,656.4 2423.2,670.1 2420.9,690.8 2416.3,697.6 2415.2,720.5 2411.8,743.4 2412.9,761.7 2419.8,775 2417.7,799.5 2425.7,815.5 2433.7,833.8 2437.2,838.9 2446.3,838.4 2462.4,830.4 2471.5,820.1 2478.4,801.8 2484.1,785.8 2485,775 2480.4,748 2472.4,729.7 2465.6,718.2 2470.1,706.8 2465.6,695.3 2471.3,679.3 2472.4,658.7 2477,647.3 2488.5,638.1 2494.2,624.4 2495.3,647.3 2499.9,650.7 2504.5,642.7 2503.3,619.8 2509.1,615.2 2520.5,610.6 2513.6,606 2512.5,599.2 2518.2,592.3 2525.1,586.6Z"/>
<path d="M2525.1,586.6 2532,590 2543.4,594.6 2552.6,601.5 2566.3,603.8 2577.7,608.3 2586.9,612.9 2589.2,619.8 2582.3,626.6 2589.2,633.5 2593.8,647.3 2593.8,663.3 2584.6,672.4 2582.3,683.9 2573.2,690.8 2573.2,704.5 2584.6,709.1 2593.8,697.6 2598.4,688.5 2612.1,678.2 2619,679.3 2625.8,690.8 2630.4,706.8 2635,720.5 2640.7,736.5 2641.8,754.9 2643,735.4 2655.6,725.1 2667,711.4 2668.2,702.2 2664.7,686.2 2660.2,667.9 2664.7,651.8 2675,640.4 2676.2,633.5 2671.6,619.8 2664.7,608.3 2652.2,602.6 2667,601.5 2671.6,610.6 2678.5,616.3 2685.3,614.1 2683.1,622.1 2689.9,633.5 2691.2,634.6 2700.4,629.1 2726,634.6 2729.7,616.3 2738.8,616.3 2729.7,607.1 2718.7,594.3 2715,585.2 2700.4,574.2 2685.7,557.7 2667.4,557 2671.6,558 2657.9,558 2646.4,552.2 2623.5,553.4 2607.5,553.4 2589.2,556.8 2566.3,555.7 2549.1,551.1 2548,543.1 2536.5,544.2 2536.5,544.2 2541.1,558 2548,564.8 2559.4,568.3 2568.6,563.7 2575.5,570.6 2566.3,569.4 2557.1,571.7 2538.8,574 2525.1,577.4 2525.1,583.2Z"/>
<path d="M2605.5,813.3 2615.8,815.5 2627.3,820.1 2638.7,820.1 2647.9,827 2661.6,820.1 2677.6,816.7 2686.8,813.3 2695.9,800.7 2709.7,794.9 2732.6,781.2 2746.3,772.1 2760,763.4 2771.5,752.8 2777.9,742.3 2786.4,731.8 2791.6,721.2 2785.2,718 2765.3,722.1 2739.9,726.5 2728,735.4 2741.7,745.7 2732.6,748 2705.1,745.7 2689.1,748 2675.3,765.2 2670.8,774.3 2652.4,785.8 2645.6,797.2 2631.8,796.1 2620.4,792.7 2620.4,784.6 2626.1,778.9 2636.4,775.5 2646.7,774.3 2646.7,764 2638.7,762.9 2641,758.3 2641.9,754.9 2630.7,757.2 2626.8,774.3 2618.1,783.5 2613.5,794.9 2605.5,813.3Z"/>
</g>
<g id="isles" fill="#fff" stroke="#1295F5" stroke-width="3.4" stroke-linejoin="round">
<path d="M2830.6,639.4 2845.3,635.2 2851.6,641.1 2849.5,647 2834.8,643.6Z"/>
<path d="M2586.9,570.6 2602.9,566 2612.1,570.6 2625.8,563.7 2637.3,562.5 2646.4,558 2651,569.4 2648.7,580.9 2641.8,586.6 2630.4,583.2 2612.1,577.4 2593.8,575.1Z"/>
</g>
<g id="rivers" fill="none" stroke="#1295F5" stroke-width="3.4" stroke-linejoin="round" stroke-linecap="round">
<path d="M1246.9,339.7Q1232.2,345.2 1226.7,352.6Q1221.2,359.9 1217.6,369Q1213.9,378.2 1209.3,385.5Q1204.8,392.9 1194.7,387.4Q1184.6,381.9 1181,376.4Q1177.3,370.9 1164.5,369Q1151.6,367.2 1144.3,373.6Q1137,380 1132.4,388.3Q1127.8,396.5 1129.7,407.5Q1131.5,418.5 1130.6,431.3Q1129.7,444.1 1137.9,446.9Q1146.2,449.6 1148.9,459.7Q1151.6,469.8 1159,488.1"/>
<path d="M1159,484.4Q1166.3,473.4 1175.5,467.9Q1184.6,462.5 1193.8,465.2Q1202.9,467.9 1212.1,467Q1221.2,466.1 1226.7,471.6Q1232.2,477.1 1235.9,488.1"/>
<path d="M1256,341.6Q1254.2,363.6 1257.9,375.5Q1261.5,387.4 1272.5,386.4Q1283.5,385.5 1289,391Q1294.5,396.5 1300,402Q1305.5,407.5 1309.2,416.7Q1312.8,425.8 1318.3,431.3Q1323.8,436.8 1325.6,446Q1327.5,455.1 1333,462.5Q1338.5,469.8 1349.5,473.4"/>
<path d="M1003.3,473.4Q994.1,488.1 986.8,495.4Q979.5,502.7 974,511.9Q968.5,521.1 966.7,532.1Q964.8,543 970.3,554Q975.8,565 979.5,574.2Q983.2,583.3 990.5,598"/>
<path d="M1206.6,638.3Q1217.6,656.6 1223.1,667.6Q1228.6,678.6 1235.9,685.9Q1243.2,693.2 1254.2,695.1Q1265.2,696.9 1272.5,704.2Q1279.9,711.5 1287.2,717Q1294.5,722.5 1303.7,726.2Q1312.8,729.9 1322,730.8Q1331.1,731.7 1342.1,730.8Q1353.1,729.9 1362.3,725.3Q1371.4,720.7 1378.8,712.5Q1386.1,704.2 1395.2,696.9Q1404.4,689.6 1409.9,685.9Q1415.4,682.2 1422.7,687.7Q1430,693.2 1434.6,702.4Q1439.2,711.5 1441.9,718.9Q1444.7,726.2 1450.2,724.4Q1455.7,722.5 1457.5,715.2Q1459.3,707.9 1457.5,700.5Q1455.7,693.2 1463,685.9Q1470.3,678.6 1481.3,671.2"/>
<path d="M886.1,685.9Q895.2,707.9 900.7,698.7Q906.2,689.6 913.6,683.2Q920.9,676.7 933.7,681.3Q946.5,685.9 959.3,684.1Q972.2,682.2 979.5,678.6Q986.8,674.9 988.6,665.8Q990.5,656.6 995.1,654.8Q999.6,652.9 1007.9,658.4Q1016.1,663.9 1034.4,676.7"/>
<path d="M1369.6,363.6Q1375.1,385.5 1376.9,392.9Q1378.8,400.2 1373.3,403.8Q1367.8,407.5 1368.7,416.7Q1369.6,425.8 1363.2,433.2Q1356.8,440.5 1354.9,447.8Q1353.1,455.1 1344,457Q1334.8,458.8 1327.5,451.5"/>
<path d="M1600,480.8Q1580.2,477.1 1574.7,471.6Q1569.2,466.1 1560.1,466.1Q1550.9,466.1 1539.9,464.3Q1528.9,462.5 1525.3,453.3Q1521.6,444.1 1508.8,449.6Q1496,455.1 1486.8,460.6Q1477.7,466.1 1468.5,471.6Q1459.3,477.1 1450.2,482.6Q1441,488.1 1444.7,500.9Q1448.4,513.7 1449.6,518.6Q1450.8,523.4 1452,528.4Q1453.3,533.3 1454.5,538.2Q1455.7,543 1454.2,547.8Q1452.8,552.6 1450.2,561.4Q1447.6,570.1 1446.1,574.9Q1444.7,579.7 1441,590.7Q1437.4,601.6 1439.2,610.8Q1441,620 1450.2,625.5Q1459.3,631 1474,632.8"/>
<path d="M937.4,850Q938.7,840.1 940.1,830.2Q941.5,820.3 942.2,815.4Q942.9,810.4 942.6,805.4Q942.3,800.5 941.9,794Q941.6,787.5 941.3,782.5Q941,777.5 939.2,764.7Q937.4,751.8 945.6,750Q953.8,748.2 959.3,744.5Q964.8,740.8 977.7,742.7Q990.5,744.5 996,737.2Q1001.5,729.9 1014.3,728.9Q1027.1,728 1028,734.4Q1028.9,740.8 1038.1,748.2"/>
<path d="M1400.7,557.7Q1404.4,535.7 1402.6,528.4Q1400.7,521.1 1402.6,513.7Q1404.4,506.4 1386.1,499.1"/>
<path d="M586.7,398Q567,411.8 555.2,418.6Q543.4,425.5 531.6,430.5Q519.8,435.4 508,444.2Q496.2,453.1 488.3,460Q480.4,466.9 472.5,469.8Q464.7,472.8 452.8,474.8Q441,476.7 429.2,480.7Q417.4,484.6 412.5,480.7Q407.6,476.7 400.7,485.6Q393.8,494.5 389.8,502.3Q385.9,510.2 380,520Q374.1,529.9 373.1,537.8Q372.1,545.6 375.1,548.6Q378,551.5 366.2,553.5Q354.4,555.5 350.5,558.4Q346.5,561.4 342.6,556.5Q338.6,551.5 332.7,548.6Q326.8,545.6 325.8,538.8Q324.9,531.9 317,526"/>
<path d="M502.1,407.8Q484.3,423.6 474.5,428.5Q464.7,433.4 456.8,438.3Q448.9,443.3 443,448.2Q437.1,453.1 431.2,451.1Q425.3,449.2 424.3,456.1Q423.3,462.9 416.4,462.9Q409.5,462.9 407.6,476.7"/>
<path d="M543.4,425.5Q555.2,439.3 561.1,447.2Q567,455.1 576.9,455.1Q586.7,455.1 600.5,466.9"/>
<path d="M478.4,494.5Q468.6,496.4 464.7,505.3Q460.7,514.1 452.8,521Q445,527.9 437.1,529.9Q429.2,531.9 425.3,542.7Q421.3,553.5 416.4,559.4Q411.5,565.3 404.6,562.4Q397.7,559.4 393.8,563.4Q389.8,567.3 380,566.3Q370.1,565.3 362.3,573.2Q354.4,581.1 346.5,587"/>
<path d="M482.4,329.1Q474.5,338.9 474.5,346.8Q474.5,354.7 463.7,360.6Q452.8,366.5 439.1,368.4Q425.3,370.4 415.4,368.4Q405.6,366.5 397.7,366.5Q389.8,366.5 387.9,374.3"/>
<path d="M541.4,537.8Q527.7,531.9 516.8,532.4Q506,533 503,539.3Q500.1,545.6 499.1,555.5Q498.1,565.3 496.2,573.2"/>
<path d="M1600,484.4Q1622,478.9 1634.8,478Q1647.6,477.1 1658.6,469.8Q1669.6,462.5 1684.2,463.4Q1698.9,464.3 1713.6,463.7Q1728.2,463.2 1741,466.5Q1753.8,469.8 1763,469.8Q1772.2,469.8 1785,468.9Q1797.8,467.9 1805.1,470.7Q1812.5,473.4 1816.1,480.8Q1819.8,488.1 1821.6,495.4Q1823.4,502.7 1832.6,506.4Q1841.8,510.1 1846.6,508.9Q1851.5,507.6 1856.4,506.4Q1861.4,505.2 1866.2,504Q1871.1,502.7 1865.6,504.6Q1860.1,506.4 1861.9,513.7Q1863.7,521.1 1869.2,526.6Q1874.7,532.1 1878.4,543Q1882.1,554 1886.6,563.2Q1891.2,572.3 1890.3,583.3Q1889.4,594.3 1893,603.5Q1896.7,612.6 1897.6,623.6Q1898.5,634.6 1895.8,643.8Q1893,652.9 1887.5,658.4Q1882.1,663.9 1882.1,673.1Q1882.1,682.2 1887.5,687.7Q1893,693.2 1902.2,698.7Q1911.4,704.2 1916.8,706Q1922.3,707.9 1927.8,715.2Q1933.3,722.5 1931.5,729.9Q1929.7,737.2 1937,744.5Q1944.3,751.8 1966.3,770.1"/>
<path d="M1600,594.3Q1603.5,585 1605.5,579.7Q1607.5,574.4 1609.2,569.7Q1611,565 1618.3,561.4Q1625.6,557.7 1630.6,558.4Q1635.5,559 1645.8,560.4Q1656,561.8 1661,562.5Q1665.9,563.2 1670.3,560.7Q1674.6,558.3 1680.6,554.9Q1686.5,551.6 1690.9,549.2Q1695.2,546.7 1699.2,543.7Q1703.2,540.7 1709.9,535.7Q1716.5,530.7 1720.5,527.7Q1724.5,524.7 1727.8,520.9Q1731.1,517.1 1735.5,511.9Q1740,506.7 1743.3,502.9Q1746.5,499.1 1761.2,477.1"/>
<path d="M1843.6,425.8Q1847.6,435 1850,440.5Q1852.4,446 1854.4,450.5Q1856.4,455.1 1861.9,462.5Q1867.4,469.8 1874.7,474.4Q1882.1,478.9 1889.4,474.4Q1896.7,469.8 1899.5,464.3Q1902.2,458.8 1895.8,451.5Q1889.4,444.1 1882.1,429.5"/>
<path d="M2111,535.7Q2116.5,517.4 2125.6,518.3Q2134.8,519.2 2145.8,523.8Q2156.8,528.4 2165.9,532.1Q2175.1,535.7 2177.8,541.2Q2180.6,546.7 2176,554Q2171.4,561.4 2162.3,565Q2153.1,568.7 2145.8,576Q2138.5,583.3 2137.5,596.2Q2136.6,609 2143,620Q2149.5,631 2160.4,637.4Q2171.4,643.8 2178.8,650.2Q2186.1,656.6 2204.4,671.2"/>
<path d="M1600,777.5Q1614.7,770.1 1623.8,765.6Q1633,761 1645.8,761.9Q1658.6,762.8 1669.6,768.3Q1680.6,773.8 1687.9,783Q1695.2,792.1 1699.2,795.2Q1703.1,798.3 1711.7,804.9Q1720.3,811.6 1724.3,814.7Q1728.2,817.8 1741,825.1Q1753.8,832.4 1758.3,834.8Q1762.7,837.1 1770.3,841.2Q1778,845.3 1786.8,850"/>
<path d="M1665.9,462.5Q1673.3,477.1 1669.6,493.6"/>
<path d="M3001.2,679Q3005.4,689.6 3007,698Q3008.5,706.4 3005.9,712.7Q3003.3,719 3005.4,725.4Q3007.5,731.7 3009.6,740.1Q3011.7,748.5 3014.9,757Q3018,765.4 3022.2,780.1"/>
<path d="M2946.4,678Q2954.8,674.8 2961.2,677.4Q2967.5,680.1 2973.8,676.9Q2980.1,673.8 2986.4,676.4Q2992.7,679 3006.4,679"/>
<path d="M2958,686.4Q2954.8,702.2 2950.6,708.5Q2946.4,714.8 2941.1,719Q2935.9,723.3 2933.8,729.6Q2931.7,735.9 2942.2,740.1"/>
<path d="M2927.5,742.2Q2923.2,738 2915.9,738Q2908.5,738 2903.2,742.2Q2898,746.4 2899,751.7Q2900.1,757 2906.4,761.2Q2912.7,765.4 2921.1,768.5Q2929.6,771.7 2932.7,775.9Q2935.9,780.1 2930.6,787.5Q2925.3,794.9 2924.3,797Q2923.2,799.1 2915.9,804.3Q2908.5,809.6 2903.2,814.9Q2898,820.1 2896.9,828.6Q2895.9,837 2900.1,850"/>
<path d="M2843.2,771.7Q2832.7,775.9 2828.5,773.8Q2824.2,771.7 2822.1,767Q2820,762.2 2811.6,760.6Q2803.2,759.1 2800,761.2Q2796.9,763.3 2796.9,768.5Q2796.9,773.8 2790.5,777Q2784.2,780.1 2782.1,787.5Q2780,794.9 2777.9,802.2Q2775.8,809.6 2770.5,811.7Q2765.3,813.8 2767.4,819.1Q2769.5,824.4 2775.8,828.6Q2782.1,832.8 2783.2,834.9Q2784.2,837 2780,850"/>
<path d="M3053.8,683.2Q3055.9,695.9 3058,703.3Q3060.1,710.6 3061.2,716.9Q3062.3,723.3 3065.4,728.5Q3068.6,733.8 3077,744.3"/>
<path d="M2870.6,704.3Q2872.7,714.8 2875.9,723.3"/>
<path d="M2878,698Q2881.1,710.6 2891.6,721.2"/>
<path d="M3171.8,500 3173.9,512.6"/>
<path d="M937.4,850Q941,872 938.3,883Q935.5,894 933.7,901.3Q931.9,908.6 937.4,917.8Q942.9,926.9 944.4,931.7Q946,936.4 948.4,943.4Q950.7,950.4 952.3,955.1Q953.8,959.9 959.3,972.7Q964.8,985.5 968.5,994.7Q972.2,1003.8 977.7,1013Q983.2,1022.2 990.5,1020.3Q997.8,1018.5 1001.5,1011.2Q1005.1,1003.8 1012.5,1002Q1019.8,1000.2 1028.9,1005.7Q1038.1,1011.2 1056.4,1020.3"/>
<path d="M972.2,996.5Q990.5,996.5 999.6,991Q1008.8,985.5 1016.1,980Q1023.4,974.5 1036.3,959.9"/>
<path d="M1514.3,864.7Q1496,883 1488.6,888.5Q1481.3,894 1472.2,904.9Q1463,915.9 1457.5,926.9Q1452,937.9 1448.4,950.7Q1444.7,963.6 1446.5,976.4Q1448.4,989.2 1446.5,996.5Q1444.7,1003.8 1437.4,1013Q1430,1022.2 1422.7,1029.5Q1415.4,1036.8 1409.9,1042.3Q1404.4,1047.8 1402.6,1054.2Q1400.7,1060.6 1386.1,1062.5Q1371.4,1064.3 1364.1,1070.7Q1356.8,1077.1 1351.3,1086.3Q1345.8,1095.4 1344,1104.6Q1342.1,1113.7 1334.8,1111.9Q1327.5,1110.1 1320.1,1102.7Q1312.8,1095.4 1303.7,1097.3Q1294.5,1099.1 1285.3,1102.7Q1276.2,1106.4 1272.5,1113.7Q1268.9,1121.1 1261.5,1113.7Q1254.2,1106.4 1248.7,1099.1Q1243.2,1091.8 1237.7,1097.3Q1232.2,1102.7 1210.3,1089.9"/>
<path d="M1600,928.8Q1580.2,945.2 1565.6,947.1Q1550.9,948.9 1541.8,954.4Q1532.6,959.9 1525.3,964.5Q1517.9,969 1508.8,964.5Q1499.6,959.9 1492.3,963.6Q1485,967.2 1475.8,978.2Q1466.7,989.2 1448.4,1003.8"/>
<path d="M1600,1058.8Q1580.2,1051.5 1558.2,1049.6"/>
<path d="M1188.3,1284.1Q1202.9,1289.6 1217.6,1287.7Q1232.2,1285.9 1245.1,1282.2Q1257.9,1278.6 1265.2,1281.3Q1272.5,1284.1 1274.4,1276.7Q1276.2,1269.4 1283.5,1268.5Q1290.8,1267.6 1295.8,1267.1Q1300.8,1266.6 1309.2,1265.8Q1317.5,1264.9 1322.5,1264.4Q1327.5,1263.9 1338.5,1262.1Q1349.5,1260.3 1360.4,1260.3Q1371.4,1260.3 1378.8,1258.4Q1386.1,1256.6 1393.4,1262.1Q1400.7,1267.6 1409.9,1274Q1419,1280.4 1439.2,1269.4"/>
<path d="M1290.8,1267.6Q1312.8,1282.2 1322,1287.7Q1331.1,1293.2 1342.1,1293.2Q1353.1,1293.2 1358.6,1296.9Q1364.1,1300.5 1375.1,1296.9Q1386.1,1293.2 1395.2,1300.5Q1404.4,1307.9 1411.7,1313.4Q1419,1318.9 1424.5,1316.1Q1430,1313.4 1435.5,1321.6Q1441,1329.9 1446.5,1331.7Q1452,1333.5 1459.3,1329.9Q1466.7,1326.2 1470.3,1320.7Q1474,1315.2 1481.3,1311.5Q1488.6,1307.9 1491.4,1302.4Q1494.1,1296.9 1492.3,1282.2"/>
<path d="M1600,1172.3Q1587.5,1187 1580.2,1196.2Q1572.9,1205.3 1571.1,1220Q1569.2,1234.6 1563.7,1247.4Q1558.2,1260.3 1557.3,1269.4Q1556.4,1278.6 1550,1287.7Q1543.6,1296.9 1539.9,1306Q1536.3,1315.2 1532.6,1322.5Q1528.9,1329.9 1530.8,1337.2Q1532.6,1344.5 1538.1,1353.7Q1543.6,1362.8 1550.9,1381.1"/>
<path d="M1783.2,850Q1792.1,854.5 1797.8,857.3Q1803.5,860.2 1808,862.4Q1812.5,864.7 1825.3,869.2Q1838.1,873.8 1850.9,874.7Q1863.7,875.6 1874.7,881.1Q1885.7,886.6 1898.5,894Q1911.4,901.3 1920.5,904Q1929.7,906.8 1940.7,905.9Q1951.6,904.9 1962.6,899.5Q1973.6,894 1984.6,886.6Q1995.6,879.3 2004.8,873.8Q2013.9,868.3 2026.7,867.4Q2039.6,866.5 2046.9,869.2Q2054.2,872 2057,879.3Q2059.7,886.6 2076.2,888.5"/>
<path d="M1612.8,963.6Q1622,989.2 1623.8,998.4Q1625.6,1007.5 1631.1,1013.9Q1636.6,1020.3 1645.8,1019.4Q1654.9,1018.5 1664.1,1024Q1673.3,1029.5 1677.9,1031.2Q1682.6,1033 1687.9,1035Q1693.2,1037 1697.9,1038.7Q1702.6,1040.5 1707.3,1042.1Q1712.1,1043.6 1719,1046Q1726,1048.3 1730.8,1049.9Q1735.5,1051.5 1750.2,1050.5Q1764.8,1049.6 1777.7,1050.5Q1790.5,1051.5 1797.8,1055.1Q1805.1,1058.8 1817.9,1062.5Q1830.8,1066.1 1838.1,1063.4Q1845.4,1060.6 1850.1,1062.4Q1854.8,1064.1 1860.1,1066.1Q1865.4,1068.1 1870,1069.9Q1874.7,1071.6 1879.5,1072.9Q1884.4,1074.3 1891.2,1076.2Q1898.1,1078.1 1902.9,1079.4Q1907.7,1080.8 1915,1073.4Q1922.3,1066.1 1929.7,1058.8Q1937,1051.5 1944.3,1047.8Q1951.6,1044.1 1960.8,1046.9Q1970,1049.6 1979.1,1057.9Q1988.3,1066.1 1997.4,1071.6Q2006.6,1077.1 2012.1,1086.3Q2017.6,1095.4 2021.2,1106.4Q2024.9,1117.4 2028.6,1124.7Q2032.2,1132.1 2028.6,1137.5Q2024.9,1143 2028.6,1148.5Q2032.2,1154 2041.4,1159.5Q2050.5,1165 2059.7,1172.3Q2068.9,1179.7 2078,1185.2Q2087.2,1190.7 2094.5,1194.3Q2101.8,1198 2107.3,1205.3Q2112.8,1212.6 2120.1,1216.3Q2127.5,1220 2134.8,1221.8Q2142.1,1223.6 2149.5,1220Q2156.8,1216.3 2164.1,1214.5Q2171.4,1212.6 2182.4,1214.5Q2193.4,1216.3 2204.4,1223.6Q2215.4,1231 2224.5,1232.8Q2233.7,1234.6 2242.9,1243.8Q2252,1252.9 2253.8,1262.1Q2255.7,1271.2 2263,1276.7Q2270.3,1282.2 2279.5,1285.9Q2288.6,1289.6 2303.3,1298.7"/>
<path d="M1735.5,1236.4Q1764.8,1241.9 1777.7,1238.3Q1790.5,1234.6 1796,1231Q1801.5,1227.3 1807,1232.8Q1812.5,1238.3 1819.8,1245.6Q1827.1,1252.9 1832,1254.1Q1836.8,1255.4 1841.8,1256.6Q1846.7,1257.8 1851.6,1259Q1856.4,1260.3 1885.7,1262.1"/>
<path d="M1684.2,1183.3Q1695.2,1201.6 1708.1,1203.5Q1720.9,1205.3 1733.7,1204.4Q1746.5,1203.5 1759.3,1200.7Q1772.2,1198 1785,1201.6Q1797.8,1205.3 1808.8,1198Q1819.8,1190.7 1828.9,1186.1Q1838.1,1181.5 1850.9,1180.6Q1863.7,1179.7 1874.7,1183.3Q1885.7,1187 1889.4,1183.3Q1893,1179.7 1898.5,1183.3Q1904,1187 1909.5,1182.4Q1915,1177.8 1920.5,1181.5Q1926,1185.2 1931.5,1181.5Q1937,1177.8 1940.1,1181.7Q1943.2,1185.6 1948,1191.6Q1952.7,1197.5 1955.9,1201.4Q1959,1205.3 1971.8,1212.6Q1984.6,1220 1995.6,1227.3Q2006.6,1234.6 2010.3,1239.2Q2013.9,1243.8 2026.7,1244.7Q2039.6,1245.6 2048.7,1243.8Q2057.9,1241.9 2065.2,1236.4Q2072.5,1231 2081.7,1229.1Q2090.8,1227.3 2112.8,1216.3"/>
<path d="M2136.6,998.4Q2156.8,998.4 2167.8,994.7Q2178.8,991 2188.8,987.4Q2198.9,983.7 2204.4,991Q2209.9,998.4 2216.3,1002.9Q2222.7,1007.5 2230,1014.8Q2237.4,1022.2 2242.9,1025.8Q2248.4,1029.5 2259.3,1025.8Q2270.3,1022.2 2283.2,1024.9Q2296,1027.7 2305.1,1023.1Q2314.3,1018.5 2328.9,1011.2"/>
<path d="M2400,862.8Q2390,863.4 2384.6,863.7Q2379.2,864.1 2374.2,864.4Q2369.2,864.7 2361.9,873.8Q2354.6,883 2352.7,892.1Q2350.9,901.3 2345.4,908.6Q2339.9,915.9 2330.8,925.1Q2321.6,934.2 2316.1,945.2Q2310.6,956.2 2310.6,967.2Q2310.6,978.2 2312.5,989.2Q2314.3,1000.2 2328.9,1011.2"/>
<path d="M1600,1058.8Q1622,1066.1 1625.6,1075.3Q1629.3,1084.4 1629.3,1099.1Q1629.3,1113.7 1625.6,1126.6Q1622,1139.4 1614.7,1144.9Q1607.3,1150.4 1600,1157.7"/>
<path d="M1647.6,1128.4Q1673.3,1143 1678.8,1154Q1684.2,1165 1684.2,1183.3"/>
<path d="M1625.6,1168.7Q1625.6,1187 1629.2,1190.5Q1632.7,1194.1 1636.6,1198Q1640.5,1201.9 1644.1,1205.4Q1647.6,1209 1656.8,1214.5Q1665.9,1220 1669.6,1231Q1673.3,1241.9 1678.8,1249.3Q1684.2,1256.6 1680.6,1269.4Q1676.9,1282.2 1674.2,1295.1Q1671.4,1307.9 1672.3,1322.5Q1673.3,1337.2 1671.4,1350Q1669.6,1362.8 1676.9,1372Q1684.2,1381.1 1686.1,1390.3Q1687.9,1399.5 1695.2,1410.4Q1702.6,1421.4 1706.2,1428.8Q1709.9,1436.1 1714.6,1437.9Q1719.2,1439.6 1728.2,1443Q1737.2,1446.4 1746.5,1450"/>
<path d="M1720.9,1249.3Q1746.5,1256.6 1755.7,1260.3Q1764.8,1263.9 1777.7,1267.6Q1790.5,1271.2 1799.6,1276.7Q1808.8,1282.2 1814.3,1291.4Q1819.8,1300.5 1823.4,1309.7Q1827.1,1318.9 1830.8,1326.2Q1834.4,1333.5 1845.4,1337.2Q1856.4,1340.8 1861.9,1335.3Q1867.4,1329.9 1872.9,1333.5Q1878.4,1337.2 1885.7,1329.9Q1893,1322.5 1904,1322.5Q1915,1322.5 1920.5,1329.9Q1926,1337.2 1931.5,1344.5Q1937,1351.8 1944.3,1355.5Q1951.6,1359.2 1959,1364.7Q1966.3,1370.1 1975.5,1375.6Q1984.6,1381.1 1990.1,1390.3Q1995.6,1399.5 1999.3,1410.4Q2002.9,1421.4 2008.4,1428.8Q2013.9,1436.1 2024.9,1450"/>
<path d="M2167.8,1322.5Q2180.6,1326.2 2181.5,1331.7Q2182.4,1337.2 2179.7,1343.6Q2176.9,1350 2177.8,1361.9Q2178.8,1373.8 2186.1,1386.6Q2193.4,1399.5 2204.4,1408.6Q2215.4,1417.8 2224.5,1426.9Q2233.7,1436.1 2248.4,1450"/>
<path d="M1600,928.8Q1618.3,921.4 1640.3,919.6"/>
<path d="M2418.3,1102.7Q2436.6,1113.7 2440.3,1126.6Q2444,1139.4 2444.9,1154Q2445.8,1168.7 2444.9,1183.3Q2444,1198 2438.5,1203.5Q2433,1209 2434.8,1216.3Q2436.6,1223.6 2444,1229.1Q2451.3,1234.6 2462.3,1234.6Q2473.3,1234.6 2484.2,1240.1Q2495.2,1245.6 2506.2,1244.7Q2517.2,1243.8 2524.5,1248.4Q2531.9,1252.9 2539.2,1245.6Q2546.5,1238.3 2552,1229.1Q2557.5,1220 2564.8,1214.5Q2572.2,1209 2579.5,1198Q2586.8,1187 2592.3,1176Q2597.8,1165 2605.1,1163.2Q2612.5,1161.4 2623.4,1152.2Q2634.4,1143 2645.4,1133.9Q2656.4,1124.7 2669.2,1117.4Q2682.1,1110.1 2686.3,1107.4Q2690.5,1104.8 2696.7,1100.9Q2702.9,1097.1 2707.1,1094.4Q2711.4,1091.8 2715.5,1089Q2719.7,1086.3 2726,1082.2Q2732.3,1078.2 2740.7,1072.7"/>
<path d="M2561.2,1260.3Q2546.5,1274.9 2542.9,1285.9Q2539.2,1296.9 2533.7,1309.7Q2528.2,1322.5 2530,1331.7Q2531.9,1340.8 2539.2,1350Q2546.5,1359.2 2541,1363.7Q2535.5,1368.3 2522.7,1371.1Q2509.9,1373.8 2500.7,1383Q2491.6,1392.1 2489.7,1403.1Q2487.9,1414.1 2482.4,1425.1Q2476.9,1436.1 2469.6,1450"/>
<path d="M2634.4,1231Q2630.8,1245.6 2625.3,1251.1Q2619.8,1256.6 2621.6,1263.9Q2623.4,1271.2 2616.1,1280.4Q2608.8,1289.6 2603.3,1298.7Q2597.8,1307.9 2594.1,1326.2"/>
<path d="M2649.1,1216.3Q2654.6,1231 2650,1238.3Q2645.4,1245.6 2639.9,1247.4Q2634.4,1249.3 2619.8,1252Q2605.1,1254.8 2590.5,1255.7Q2575.8,1256.6 2561.2,1260.3"/>
<path d="M2737,1132.1Q2751.6,1121.1 2756.2,1119.1Q2760.8,1117.1 2766.3,1114.7Q2771.8,1112.2 2776.4,1110.2Q2781,1108.2 2786.4,1118.3Q2791.9,1128.4 2799.3,1135.7Q2806.6,1143 2812.1,1155.9Q2817.6,1168.7 2823.1,1177.8Q2828.6,1187 2834.1,1198Q2839.6,1209 2842.5,1213Q2845.4,1217.1 2848.7,1221.8Q2852.1,1226.5 2855,1230.5Q2857.9,1234.6 2867,1241.9Q2876.2,1249.3 2876.2,1263.9"/>
<path d="M2711.4,1274.9 2722.3,1271.2"/>
<path d="M2901.8,850Q2910,855.8 2914.7,859.2Q2919.3,862.5 2923.4,865.4Q2927.5,868.3 2949.5,883"/>
<path d="M1752.7,1450Q1760.1,1458.6 1771.1,1462.3Q1782.1,1465.9 1784.8,1474.2Q1787.5,1482.4 1790.3,1485.2Q1793,1487.9 1790.3,1495.2Q1787.5,1502.6 1792.1,1509Q1796.7,1515.4 1802.2,1531.9"/>
<path d="M2026.6,1450Q2027.5,1451.3 2033,1464.1Q2038.5,1476.9 2042.1,1484.2Q2045.8,1491.6 2053.1,1497.1Q2060.4,1502.6 2064.1,1508.1Q2067.8,1513.6 2066.8,1520.9Q2065.9,1528.2 2068.7,1537.4Q2071.4,1546.5 2078.8,1550.2Q2086.1,1553.8 2090.7,1559.3Q2095.2,1564.8 2094.3,1572.2Q2093.4,1579.5 2104.4,1590.5"/>
<path d="M2245.3,1450Q2258.2,1458.6 2265.6,1454.9Q2272.9,1451.3 2280.2,1456.8Q2287.5,1462.3 2300,1476.9"/>
<path d="M2300,1480.6Q2311,1498.9 2314.7,1506.2Q2318.3,1513.6 2325.6,1517.2Q2333,1520.9 2342.1,1520Q2351.3,1519 2362.3,1521.8Q2373.3,1524.5 2376,1531.9Q2378.8,1539.2 2385.2,1544.7Q2391.6,1550.2 2398.9,1553.8Q2406.2,1557.5 2417.2,1566.7"/>
<path d="M2469.1,1450Q2468.5,1451.3 2470.3,1469.6"/>
<path d="M2622.3,1458.6Q2615,1476.9 2614.1,1486.1Q2613.2,1495.2 2617.8,1498.9Q2622.3,1502.6 2621.6,1513.6"/>
<path d="M2787.2,1454.9Q2787.2,1473.3 2790.8,1480.6Q2794.5,1487.9 2792.7,1495.2Q2790.8,1502.6 2794.5,1508.1Q2798.2,1513.6 2803.7,1520.9Q2809.2,1528.2 2812.8,1533.7Q2816.5,1539.2 2823.8,1541Q2831.1,1542.9 2834.8,1550.2Q2838.5,1557.5 2843,1564.8Q2847.6,1572.2 2846.7,1575.8Q2845.8,1579.5 2834.8,1577.7"/>
<path d="M2344.2,596.9Q2331.6,601.5 2332.2,604.9Q2332.8,608.3 2335.6,611.2Q2338.5,614.1 2331.6,618.6Q2324.8,623.2 2324.8,630.7Q2324.8,638.1 2328.2,641.5Q2331.6,645 2332.2,651.8Q2332.8,658.7 2331.6,664.4Q2330.5,670.1 2333.9,675.9Q2337.4,681.6 2331.1,685Q2324.8,688.5 2322.5,697.6Q2320.2,706.8 2324.2,715.9Q2328.2,725.1 2330.5,729.7Q2332.8,734.2 2339.7,735.4Q2346.5,736.5 2341.9,741.1Q2337.4,745.7 2335.1,750.8Q2332.8,756 2325.9,757.7Q2319,759.4 2309.9,758.3Q2300.7,757.1 2279,769.7"/>
<path d="M2380,859Q2391.4,862.5 2402.9,855.6"/>
<path d="M2778.4,794.9Q2769.2,808.7 2771.5,815.5Q2773.8,822.4 2779.5,829.3Q2785.2,836.2 2781.8,843Q2778.4,849.9 2773.8,856.8Q2769.2,863.6 2762.3,860.2Q2755.5,856.8 2746.3,859"/>
<path d="M2837.9,910.6Q2828.7,927.7 2826.4,934.6Q2824.1,941.5 2819.6,943.8Q2815,946 2813.8,955.2Q2812.7,964.4 2808.1,978.1"/>
<path d="M2880,920.9Q2869.9,927.7 2865.3,934.6Q2860.8,941.5 2855,949.5Q2849.3,957.5 2847,966.6Q2844.7,975.8 2842.5,983.8Q2840.2,991.8 2828.7,999.8"/>
<path d="M2739.4,1073.1Q2723.4,1083.4 2712,1089.1Q2700.5,1094.9 2677.6,1108.6"/>
<path d="M3128.9,384.1Q3122.5,387.8 3117.9,392.3Q3113.4,396.9 3112,403.3Q3110.6,409.7 3107,418Q3103.3,426.2 3102.8,429.9Q3102.4,433.6 3094.1,442.7"/>
<path d="M3121.6,444.5Q3124.4,455.5 3123.9,458.3Q3123.4,461 3117.9,461.5Q3112.5,461.9 3109.7,465.1Q3107,468.4 3103.3,469.7Q3099.6,471.1 3095.1,477.5"/>
<path d="M3128,445.5Q3132.6,455.5 3139.9,456Q3147.3,456.4 3151.4,461Q3155.5,465.6 3160.5,464.7Q3165.6,463.8 3171.1,465.1Q3176.6,466.5 3175.6,471.1Q3174.7,475.7 3172.4,479.3Q3170.1,483 3171.5,489.4Q3172.9,495.8 3173.6,500"/>
<path d="M1524.2,769.8Q1537.9,773.9 1551.6,770.5Q1565.4,767 1573.6,770.5Q1581.9,773.9 1590.1,776.6Q1598.4,779.4 1605.2,777.3Q1612.1,775.3 1620.3,768.4Q1628.6,761.5 1640.9,760.9Q1653.3,760.2 1665.7,763.6Q1678,767 1686.3,776.6Q1694.5,786.3 1701.4,793.1Q1708.2,800 1712.3,802.9Q1716.4,805.7 1722,809.6Q1727.5,813.5 1731.6,816.4Q1735.7,819.2 1740.1,821.6Q1744.5,823.9 1756.3,830.2Q1768.1,836.5 1772.5,838.9Q1776.9,841.2 1800,852.2"/>
<path d="M1494,690.1Q1502.2,703.8 1513.2,710.7Q1524.2,717.6 1532.4,724.5Q1540.7,731.3 1546.2,735.4Q1551.6,739.6 1557.8,736.8Q1564,734.1 1565.4,721.7Q1566.8,709.3 1568.8,701.1Q1570.9,692.9 1575,687.4Q1579.1,681.9 1579.8,673.6Q1580.5,665.4 1578.4,653Q1576.4,640.7 1577.1,632.4Q1577.7,624.2 1587.4,613.2"/>
<path d="M1488.5,712.1Q1480.2,736.8 1483,743.7Q1485.7,750.5 1481.6,758.8Q1477.5,767 1474.7,775.3Q1472,783.5 1478.8,791.8Q1485.7,800 1492.6,812.4Q1499.5,824.7 1494.6,831.6Q1489.8,838.5 1491.2,848.1"/>
</g>
<g id="borders" fill="none" stroke="#000" stroke-width="3.6" stroke-linejoin="round" stroke-linecap="round">
<path d="M1600,398.4 1532.6,388.5 1459.3,376.4 1386.1,362.8 1312.8,348.9 1265.2,339.7 1202.9,325.1 1148,311.5 1107.7,301.3 1054.6,285.5 1056.4,295.8 1063,304.9 1060.8,314.1 1052.7,319.6 1058.2,328.8 1060.8,343.4 1054.6,354.4 1052.7,367.2 1046.2,376.4 1038.1,383.7 1019.8,391 1014.3,381.9 1019.8,370.9 1034.4,359.9 1039.9,347.1 1038.1,336.1 1034.4,328.8 1019.8,323.3 997.8,317.8 986.8,310.4 974,298.7 969.6,308.6 970.3,323.3 974,334.2 975.1,356.2 975.8,374.5 972.2,385.5 970.3,396.5 966.7,411.2 964.8,425.8 961.2,440.5 957.5,458.8 952,473.4 946.5,491.8 939.2,510.1 931.9,532.1 920.9,554 909.9,572.3 898.9,585.2 887.9,601.6 887.9,616.3 882.4,634.6 883.5,652.9 881.3,671.2 876.9,696.9 871.4,717 860.4,729.9 851.3,742.7 854.9,761 862.3,777.5 858.6,795.8 856.8,821.4 860.4,850 860.4,850"/>
<path d="M1600,398.4 1600,398.4 1673.3,408.2 1763,417.8 1856.4,424 1966.3,428.8 2024.9,430.2 2105.5,429.5 2106.2,409.3 2116.5,410.1 2122,440.5 2131.1,446 2140.3,447.8 2156.8,455.1 2178.8,449.6 2200.7,453.3 2215.4,462.5 2217.2,469.8 2230,466.1 2244.7,477.1 2259.3,475.3 2270.3,467.9 2285,477.1 2307,475.3 2328.9,478.9"/>
<path d="M3200,537.5 3193,530.5 3189.5,539.8 3178.3,539.8 3178.3,527 3172.8,532.4 3172.8,558.1 3167.4,565.5 3161.9,561.7 3160,572.7 3152.8,576.5 3150.9,581.9 3138.1,585.5 3133.4,591 3134.5,598.4 3130.7,607.6 3127.1,613.1 3125.2,620.1 3125.4,628.5 3121.2,634.8 3123.3,647.4 3133.9,653.8 3133.9,658 3125.4,660.1 3123.3,668.5 3121.2,674.8 3125.4,681.1 3133.9,683.2 3140.2,689.6 3148.6,698 3152.8,698 3161.2,699 3171.8,696.9 3177,693.8 3173.9,685.3 3165.5,681.1 3152.8,683.2 3165.5,683.2 3171.8,687.5 3173.9,693.8 3171.8,700.1 3150.7,705.4 3140.2,712.7 3133.9,719 3127.5,726.4 3121.2,723.3 3117,729.6 3108.6,738 3098.1,742.2 3077,748.5 3055.9,755.9 3041.2,765.4 3030.7,775.9 3022.2,790.7 3013.8,805.4 3011.7,815.9 3022.2,818 3026.4,828.6 3025.4,850"/>
<path d="M860.4,850 860.4,850 865.9,864.7 876.9,883 871.4,894 887.9,897.6 891.6,912.3 886.1,923.3 887.9,945.2 895.2,963.6 904.4,974.5 898.9,985.5 893.4,996.5 898.9,1014.8 908.1,1033.2 911.7,1047.8 920.9,1062.5 924.5,1080.8 926.4,1099.1 922.7,1113.7 928.2,1122.9 946.5,1128.4 964.8,1135.7 979.5,1146.7 990.5,1161.4 1005.1,1166.8 1014.3,1179.7 1019.8,1187 1034.4,1198 1045.4,1216.3 1052.7,1234.6 1056.4,1252.9 1054.6,1263.9 1060.1,1271.2 1184.6,1284.1 1166.3,1295.1 1239.6,1339 1334.8,1394 1433.7,1406.8 1474,1414.1 1475.8,1388.5 1550.9,1395.8 1561.9,1406.8 1576.6,1428.8 1600,1450 1600,1450"/>
<path d="M3026,850 3025.4,856.9 3021.8,871.6 3016.3,882.6 3010.8,897.2 3007.1,908.2 3001.6,906.4 3003.4,897.2 2996.1,893.6 2981.5,889.9 2972.3,884.4 2966.8,873.4 2965,877.1 2970.5,886.2 2977.8,893.6 2981.5,904.5 2992.5,915.5 2999.8,916.4 3004.4,935.7 3005.3,944.8 3003.4,955.8 2999.8,963.2 2996.1,977.8 2990.6,990.6 2985.1,1003.4 2981.5,1018.1 2981.5,1023.6 2983.2,1036.4 2997.1,1062.5 3015.4,1091.8 3024.5,1121.1 3000.7,1139.4 2989.7,1146.7 2986.1,1168.7 2960.4,1168.7 2942.1,1183.3 2927.5,1201.6 2923.8,1220 2898.2,1229.1 2879.9,1249.3 2876.2,1271.2 2865.2,1282.2 2846.9,1304.2 2828.6,1318.9 2810.3,1337.2 2799.3,1355.5 2793.8,1381.1 2788.3,1406.8 2784.6,1436.1 2782.3,1450"/>
<path d="M1601.3,1450 1609.9,1458.6 1628.2,1469.6 1633.7,1487.9 1639.2,1502.6 1641,1517.2 1646.5,1530 1661.2,1542.9 1675.8,1553.8 1694.1,1564.8 1707,1575.8 1719.8,1561.2 1728.9,1546.5 1738.1,1533.7 1756.4,1526.4 1778.4,1531.9 1796.7,1533.7 1805.9,1542.9 1815,1552 1829.7,1568.5 1837,1583.2 1842.5,1601.5 1851.6,1619.8 1866.3,1634.4 1873.6,1649.1 1890.1,1663.7 1891.9,1678.4 1895.6,1696.7 1902.9,1711.4 1910.3,1729.7 1924.9,1735.2 1939.6,1744.3 1957.9,1753.5 1976.2,1753.5 1990.8,1760.8 1998.2,1766.3 2011,1762.6 2011,1748 2007.3,1729.7 2001.8,1711.4 1998.2,1693 2001.8,1674.7 2012.8,1656.4 2027.5,1641.8 2045.8,1627.1 2064.1,1612.5 2086.1,1605.1 2108.1,1590.5 2122.7,1572.2 2144.7,1557.5 2170.3,1546.5 2188.6,1541 2214.3,1539.2 2236.3,1546.5 2258.2,1550.2 2280.2,1546.5 2300,1542.9 2300,1542.9"/>
<path d="M2300,1550.2 2300,1550.2 2311,1561.2 2329.3,1568.5 2347.6,1564.8 2362.3,1561.2 2367.8,1572.2 2373.3,1557.5 2384.2,1553.8 2402.6,1564.8 2413.6,1575.8 2402.6,1586.8 2420.9,1564.8 2417.2,1553.8 2398.9,1546.5 2391.6,1539.2 2406.2,1535.5 2395.2,1524.5 2387.9,1509.9 2398.9,1502.6 2406.2,1497.1 2428.2,1491.6 2446.5,1495.2 2450.2,1491.6 2464.8,1497.1 2466.7,1469.6 2475.8,1487.9 2483.2,1495.2 2497.8,1491.6 2519.8,1482.4 2549.1,1478.8 2563.7,1484.2 2582.1,1491.6 2596.7,1498.9 2604,1509.9 2605.9,1519 2622.3,1513.6 2640.7,1502.6 2653.5,1497.1 2653.5,1489.7 2666.3,1487.2 2681,1491.6 2691.9,1500.7 2702.9,1509.9 2710.3,1520.9 2724.9,1530 2737.7,1533.7 2748.7,1548.4 2749.8,1568.5 2745.1,1590.5 2745.1,1608.8 2754.2,1619.8 2767,1608.8 2768.9,1599.6 2754.2,1596 2757.9,1612.5 2757.9,1627.1 2765.2,1638.1 2776.2,1652.7 2787.2,1660.1 2794.5,1671.1 2803.7,1678.4 2811,1693 2818.3,1705.9 2838.5,1709.5 2847.6,1715 2853.1,1729.7 2853.1,1744.3 2864.1,1742.5 2886.1,1738.8 2895.2,1729.7 2895.2,1711.4 2900.7,1693 2900,1671.1 2897.1,1645.4 2889.7,1627.1 2878.8,1612.5 2867.8,1590.5 2853.1,1564.8 2842.1,1542.9 2827.5,1517.2 2812.8,1491.6 2801.8,1469.6 2793.7,1450"/>
<path d="M3083.2,500 3086.8,494 3085,488.5 3090.5,481.2 3096,475.7 3092.3,470.2 3097.8,464.7 3092.3,457.4 3090.5,448.2 3095.1,439 3096.9,429.9 3095.1,420.7 3098.7,407.9 3103.3,393.3 3107.9,380.4 3111.5,370.4 3119.8,370.4 3122.5,379.5 3128.9,383.2 3138.1,373.1 3146.3,370.4 3148.2,365.8 3153.7,365.8 3173.8,376.8 3178.4,393.3 3183.9,411.6 3189.4,429.9 3194,444.5 3194.9,451.9 3202.2,453.7 3211.4,451.9 3214.1,459.2 3211.4,462.9 3216.8,468.4 3217.8,475.7 3224.2,477.5 3226,472.9 3230.6,473.8 3237,483 3235.2,488.5 3243.4,490.3 3244.3,494"/>
<path d="M3239.8,500 3238.8,501.3 3229.7,503.2 3224.2,510.5 3216.8,514.1 3213.2,521.5 3209.5,527 3200.4,537.9 3200,537.6"/>
<path d="M1269.6,340.8 1236.6,506.4"/>
<path d="M964.8,425.8 983.2,429.5 999.6,440.5 1005.9,455.1 1003.7,469.8 1019.8,480.8 1038.1,478.9 1056.4,484.4 1063.7,491.8 1089.4,489.9 1129.7,489.9 1159,491.8 1235.9,510.8"/>
<path d="M1236.6,506.4 1245.1,521.1 1249.8,533.9 1245.1,543 1237.7,557.7 1226.7,572.3 1217.6,585.2 1208.4,596.2 1215.8,612.6 1206.6,631 1184.6,737.2"/>
<path d="M883.5,652.9 964.8,678.6 1056.4,704.2 1184.6,737.2 1305.5,762.8 1430,781.1"/>
<path d="M1058.2,705.3 1019.8,850 1019.8,850"/>
<path d="M1305.5,762.8 1285.3,850 1285.3,850"/>
<path d="M1307.3,348.9 1300,378.2 1294.5,403.8 1303.7,422.2 1300,438.6 1311,449.6 1318.3,466.1 1325.6,480.8 1334.8,491.8 1345.8,499.1 1340.3,513.7 1331.1,532.1 1325.6,543 1327.5,554 1338.5,559.5 1351.3,550.4 1356.8,568.7 1362.3,587 1360.4,603.5 1371.4,612.6 1378.8,631 1386.1,634.6 1404.4,631 1422.7,633.9 1439.2,625.5 1450.2,634.6 1456.4,631"/>
<path d="M1459.3,612.6 1422.7,840.5"/>
<path d="M1459.3,612.6 1532.6,622.9 1600,632.8"/>
<path d="M1422.7,840.5 1455.7,847.1 1471.8,850"/>
<path d="M576.9,338.9 551.3,328.3 535.5,335 511.9,331 492.2,323.2 468.6,319.2 445,311.3 429.2,303.5 417.4,313.3 397.7,319.2 378,329.1 366.2,340.9 358.3,354.7 342.6,360.6 328.8,360.6 322.9,372.4 334.7,384.2 346.5,399.9 350.5,411.8 366.2,415.7 374.1,427.5 382,431.4 370.1,441.3 354.4,439.3 342.6,435.4 344.6,425.5 334.7,423.6 315,429.5 293.4,441.3 303.2,455.1 315,459 307.1,470.8 319,478.7 342.6,484.6 354.4,478.7 370.1,472.8 368.2,490.5 370.1,504.3 354.4,510.2 342.6,510.2 332.7,520 319,516.1 311.1,529.9 301.2,541.7 295.3,553.5 299.3,569.3 311.1,563.4 319,581.1 303.2,585 311.1,604.7 330.8,606.7 342.6,589 338.6,600.8 342.6,624.4 338.6,642.1 352.4,646.1 366.2,638.2 380,650 389.8,636.2 409.5,638.2 401.6,655.9 397.7,675.6 385.9,687.4 374.1,699.2 354.4,707.1 348.5,718.9 334.7,716.9 315,726.8 299.3,738.6 279.6,746.5 256,758.3 236.3,768.1 212.6,776 200.8,779.9 220.5,766.9 244.1,757.5 275.6,745.7 307.1,731.5 338.6,722.1 358.3,722.8 374.1,715 393.8,699.2 413.5,683.5 433.2,667.7 452.8,648 448.9,632.3 460.7,616.5 472.5,592.9 488.3,581.1 508,569.3 496.2,585 484.3,604.7 480.4,624.4 484.3,632.3 504,620.5 519.8,604.7 527.7,589 531.6,577.1 551.3,581.1 571,589 582.8,604.7 598.5,596.8 622.2,596.8 637.9,600.8 649.7,592.9 669.4,604.7 685.2,616.5 700.9,628.3 720.6,648 740.3,667.7 760,687.4 775.7,703.2 787.5,699.2 811.2,691.3 815.1,671.6 807.2,655.9 783.6,648 763.9,636.2 748.2,616.5 728.5,600.8 708.8,585 698.9,583 689.1,592.9 681.2,608.6 649.7,585 645.8,581.1 626.1,585 624.1,587 576.9,338.9"/>
<path d="M1763,417.8 1748.4,594.3 1742.9,645.6 1735.5,762.8 1726.4,850 1726.4,850"/>
<path d="M1600,632.8 1742.9,645.6"/>
<path d="M1748.4,594.3 1856.4,599.8 1966.3,604.6 2048.7,605.3"/>
<path d="M1735.5,762.8 1819.8,769.4 1893,773.8 1966.3,775.6 1977.3,783 1988.3,788.5 1999.3,783 2013.9,784.1 2028.6,788.5 2039.6,795.8 2048.7,803.1"/>
<path d="M2024.9,430.2 2028.6,451.5 2026.7,473.4 2032.2,491.8 2037.7,513.7 2039.6,543 2043.2,565 2048.7,583.3 2049.8,605.3 2046.9,616.3 2037.7,623.6 2043.2,634.6 2054.2,641.9 2054.2,746.3"/>
<path d="M2048.7,747.4 2149.5,744.5 2270.3,741.9"/>
<path d="M2048.7,747.4 2052.4,762.8 2046.9,777.5 2045.1,792.1 2048.7,803.1 2057.9,821.4 2063.4,836.1 2068.9,850 2068.9,850"/>
<path d="M2222.7,557.7 2220.9,572.3 2220.9,594.3 2208.1,603.5 2198.9,616.3 2200.7,627.3 2208.1,634.6 2204.4,652.9 2204.4,671.2 2219,682.2 2233.7,689.6 2244.7,704.2 2259.3,713.4 2268.5,724.4 2272.2,741.9 2277.7,755.5 2275.8,770.1 2281.3,786.6 2296,792.1 2299.6,806.8 2308.8,821.4 2321.6,836.1 2317.9,850 2317.9,850"/>
<path d="M2740,775.9 2760,763.3 2771.6,752.7 2777.9,742.2 2786.3,731.7 2791.6,721.2 2786.3,716.9 2788.4,710.6 2781.1,706.4 2777.9,698 2788.4,692.7 2803.2,687.5 2820,684.3 2834.8,685.3 2849.5,681.1 2866.4,679 2876.9,672.7 2885.3,664.3 2892.7,658 2889.5,647.4 2887.4,639 2891.6,634.8 2887.4,628.5 2879,628.5 2885.3,622.2 2893.8,613.7 2896.9,605.3 2904.3,592.7 2912.7,582.1 2921.1,571.6 2927.5,565.3 2933.8,562.1 2990.6,550.5 3060.1,531.6 3062.3,523.2 3058,519 3065.4,513.7 3072.8,511.6 3076.2,512.2 3081.4,503.2 3083.3,500"/>
<path d="M2760,763.3 2761.1,774.9 2845.3,759.1 2942.2,740.1 2950.6,742.2 2959,746.4 2963.3,757 2971.7,765.4 2980.1,769.6 3022.2,781.2"/>
<path d="M2980.1,769.6 2975.9,782.2 2969.6,794.9 2971.7,805.4 2969.6,811.7 2975.9,822.3 2988.5,830.7 2997,837 2984.4,850"/>
<path d="M2990.6,550.5 2992.7,563.2 2998,580 3000.1,594.8 2998,605.3 3005.4,620.1 3006.4,630.6 3012.8,628.5 3015.9,643.2 3021.2,664.3 3023.3,674.8 3023.3,716.9 3026.4,727.5 3032.8,763.3 3037,768.5 3028.6,778"/>
<path d="M3060.1,531.6 3063.3,542.1 3066.5,554.8 3062.3,563.2 3051.7,573.7 3053.8,588.5 3050.7,601.1 3047.5,617.9 3049.6,634.8 3051.7,651.6 3053.8,666.4"/>
<path d="M3023.3,674.8 3053.8,667.4 3098.1,658 3106.5,651.6 3117,643.2 3121.2,634.8"/>
<path d="M3024.3,716.9 3051.7,710.6 3093.8,700.1 3117,695.9"/>
<path d="M3093.8,700.1 3098.1,719 3103.3,738"/>
<path d="M3112.8,698 3114.9,710.6 3117,725.4"/>
<path d="M3074.9,512.6 3085.4,552.7 3098.1,588.5 3106.5,613.7 3117,626.4 3121.2,634.8"/>
<path d="M1019,850 1016.1,875.6 1204.8,1174.2 1210.3,1187 1219.4,1199.8 1202.9,1212.6 1193.8,1231 1188.3,1245.6 1179.1,1252.9 1177.3,1267.6 1186.4,1274.9 1184.6,1284.1"/>
<path d="M1284.1,850 1250.5,1049.6 1245.1,1088.1 1232.2,1102.7 1210.3,1089.9 1208.4,1113.7 1206.6,1143 1202.9,1157.7 1204.8,1174.2"/>
<path d="M1250.5,1049.6 1349.5,1062.5 1481.3,1080.8 1600,1099.1 1600,1099.1"/>
<path d="M1510.6,850 1481.3,1080.8 1433.7,1406.8"/>
<path d="M1471.4,850 1510.6,857.3 1600,866.5 1600,866.5"/>
<path d="M1550.9,1395.8 1600,1392.1"/>
<path d="M1600,866.5 1724.5,876.4 1810.6,883"/>
<path d="M1724.5,850 1724.5,876.4"/>
<path d="M1810.6,883 1807,941.6 1801.5,1033.2 1796,1115.6"/>
<path d="M1807,941.6 1929.7,947.1 2098.2,949.6"/>
<path d="M1600,1099.2 1702.6,1110.8 1796,1115.6 1893,1121.1 2030.4,1124 2134.8,1124"/>
<path d="M1752,1115.6 1748.4,1143 1744.7,1216.3 1739.2,1289.6 1733.7,1362.8 1730,1401.3 1644,1395.8 1600,1391.4"/>
<path d="M1748.4,1143 1889.4,1150.4 1885.7,1262.1 1904,1271.2 1915,1271.2 1922.3,1284.1 1944.3,1287.7 1959,1296.9 1973.6,1293.2 1982.8,1306 1999.3,1300.5 2017.6,1313.4 2039.6,1304.2 2057.9,1317 2076.2,1307.9 2094.5,1302.4 2109.2,1304.2 2116.5,1298.7 2127.5,1313.4 2142.1,1318.9 2153.1,1324.4 2167.8,1322.5 2167.8,1353.7 2167.8,1414.1 2178.8,1436.1 2181.5,1450"/>
<path d="M2134.8,1124 2134.8,1154 2145.8,1216.3 2147.6,1322.5"/>
<path d="M2167.8,1353.7 2305.1,1348.9"/>
<path d="M2070.2,850 2074.4,872 2079.9,897.6 2076.2,906.8 2087.2,917.8 2090.8,934.2 2098.2,949.6 2112.8,958.1 2120.1,963.6 2112.8,976.4 2123.8,992.9 2134.8,999.5 2136.6,1124"/>
<path d="M2085.3,917.8 2171.4,915.9 2259.3,910.4 2270.3,923.3"/>
<path d="M2134.8,1154 2222.7,1151.1 2343.6,1146 2349.1,1157.7 2332.6,1176 2365.6,1173.1"/>
<path d="M2307.7,850 2292.3,861 2285,868.3 2290.5,886.6 2281.3,901.3 2270.3,910.4 2270.3,941.6 2285,963.6 2303.3,978.2 2310.6,1003.8 2328.9,1011.2 2332.6,1025.8 2325.3,1044.1 2343.6,1058.8 2361.9,1069.8 2369.2,1091.8 2376.6,1110.1 2387.5,1117.4 2380.2,1139.4 2365.6,1146.7 2365.6,1173.1 2354.6,1198 2347.3,1227.3 2332.6,1245.6 2325.3,1267.6 2314.3,1282.2 2303.3,1300.5 2305.1,1326.2 2305.1,1348.9 2310.6,1377.5 2314.3,1399.5 2303.3,1421.4 2296,1436.1 2293.2,1450"/>
<path d="M2387.5,1117.4 2387.5,1102.7 2400,1100.9"/>
<path d="M2380.2,1139.4 2400,1141.2"/>
<path d="M2347.3,1231 2400,1227.3 2400,1227.3"/>
<path d="M2977.8,1016.3 2974.1,999.8 2977.8,985.1 2981.5,974.1 2974.1,970.5 2977.8,963.2 2972.3,955.8 2963.2,955.8 2950.3,948.5 2948.5,943 2955.8,939.3 2959.5,932 2952.2,937.5 2944.8,937.5 2943,926.5 2952.2,919.2 2944.8,908.2 2943,899 2950.3,893.6 2955.8,889.9 2948.5,884.4 2944.8,893.6 2935.7,897.2 2935.7,908.2 2926.5,906.4 2933.8,915.5 2933.8,932 2937.5,944.8 2941.2,952.2 2930.2,950.3 2941.2,959.5 2950.3,963.2 2954,972.3 2944.8,970.5 2939.3,974.1 2950.3,977.8 2957.7,981.5 2959.5,992.5 2955.8,999.8 2941.2,987 2932,983.3 2944.8,996.1 2955.8,1005.3 2963.2,1008.9 2961.3,1016.3 2952.2,1014.4 2941.2,1010.8 2950.3,1019.9 2963.2,1027.3 2968.6,1032.7 2981.5,1032.7 2983.3,1036.4"/>
<path d="M2933.8,932 2926.5,944.8 2915.5,955.8 2908.2,963.2 2902.7,965 2908.2,955.8 2906.4,944.8 2913.7,941.2 2915.5,930.2 2908.2,924.7 2899,924.7 2889.9,919.2 2888.1,913.7 2878.9,910 2873.4,899"/>
<path d="M2941.2,952.2 2933.8,955.8 2926.5,950.3 2935.7,963.2 2944.8,970.5"/>
<path d="M2992.5,915.5 2999.8,908.2 3008.9,906.4 3005.3,908.2"/>
<path d="M2979.6,1023.6 2976,1010.8 2976.9,997.9 2981.5,981.5 2987,970.5 2994.3,955.8 2999.8,952.2"/>
<path d="M2945.8,1073.4 2964.1,1088.1 2978.8,1084.4 2986.1,1069.8"/>
<path d="M2956.8,1095.4 2975.1,1102.7 3000.7,1091.8 3004.4,1106.4 2986.1,1113.7"/>
<path d="M2942.1,1121.1 2960.4,1128.4 2975.1,1113.7 2982.4,1132.1"/>
<path d="M2953.1,1150.4 2971.4,1154 2986.1,1146.7"/>
<path d="M2843.2,1298.7 2857.9,1285.9 2868.9,1278.6"/>
<path d="M2799.3,1326.2 2813.9,1333.5 2824.9,1318.9"/>
<path d="M2777.3,1366.5 2791.9,1370.1 2802.9,1355.5"/>
<path d="M2400,1143 2438.5,1139.4 2436.6,1130.2 2509.9,1122.9 2583.2,1116.7 2638.1,1110.8 2727.8,1099.1 2802.9,1088.1 2876.2,1077.1 2942.1,1064.3 2982.4,1055.1"/>
<path d="M2727.8,1099.1 2727.8,1113.7 2715,1124.7 2704,1139.4 2685.7,1143 2674.7,1154 2656.4,1168.7 2638.1,1176 2628.9,1187 2619.8,1192.5 2619.8,1205.3"/>
<path d="M2400,1229 2444,1225.5 2557.5,1216.3 2619.8,1205.3 2674.7,1199.8 2711.4,1181.5 2770,1177.8 2773.6,1183.3 2784.6,1194.3 2835.9,1186.3 2898.2,1227.3"/>
<path d="M2674.7,1199.8 2667.4,1216.3 2689.4,1231 2704,1249.3 2718.7,1260.3 2729.7,1271.2 2744.3,1282.2 2759,1298.7 2770,1307.9 2781,1322.5 2788.3,1337.2 2795.6,1355.5"/>
<path d="M2557.5,1216.3 2568.5,1252.9 2579.5,1289.6 2590.5,1326.2 2601.5,1355.5 2610.6,1370.1 2603.3,1381.1 2605.1,1399.5 2610.6,1421.4 2612.5,1439.7 2616.6,1450"/>
<path d="M2444,1225.5 2440.3,1289.6 2438.5,1362.8 2440.3,1417.8 2444.7,1450"/>
<path d="M2519,1450 2612.5,1440.5"/>
<path d="M2711.4,1450 2755.3,1447.1 2766.3,1436.1 2781,1432.4"/>
<path d="M2955.8,870.7 2956.7,882.6 2963.2,908.2 2968.6,926.5 2975.1,943.9 3002.5,937.5"/>
<path d="M2955.8,870.7 2958.6,865.2 2965,863.3 2972.3,862.4"/>
<path d="M1990.8,1759 1994.5,1729.7 1992.7,1704 1996.3,1682.1 2007.3,1661.9 2020.1,1645.4 2038.5,1630.8 2053.1,1619.8"/>
<path d="M2111.7,1535.5 2122.7,1546.5 2130,1542.9 2139.2,1546.5 2130,1561.2 2119,1572.2"/>
<path d="M2188,1450 2188.6,1451.3 2196,1465.9 2192.3,1484.2 2186.8,1502.6 2188.6,1520.9 2181.3,1535.5 2177.7,1544.7"/>
<path d="M2351.3,1500.7 2365.9,1498.9 2380.6,1506.2 2376.9,1517.2 2358.6,1517.2 2349.5,1509.9 2351.3,1500.7"/>
<path d="M2300,1550.2 2314.7,1564.8 2336.6,1572.2 2354.9,1566.7"/>
<path d="M2362.3,1542.9 2380.6,1550.2 2398.9,1561.2 2409.9,1572.2"/>
<path d="M2836.6,1524.5 2849.5,1542.9 2856.8,1553.8 2849.5,1561.2"/>
<path d="M2300,1467.6 2378.8,1462.3 2382.4,1473.3 2378.8,1484.2 2387.9,1498.9 2391.6,1509.9"/>
<path d="M2446.3,1450 2450.2,1491.6"/>
<path d="M2486.8,1454.9 2533.8,1450"/>
<path d="M2486.8,1454.9 2490.5,1465.9 2499.6,1473.3 2497.8,1487.9"/>
<path d="M2619.2,1450 2622.3,1456.8 2714,1450"/>
<path d="M2757,1450 2759.7,1458.6 2767,1456.8 2766.4,1450"/>
<path d="M2225.2,558 2241.2,539.7 2261.8,519 2287,498.4 2309.9,487 2324.8,477.8"/>
<path d="M2536.5,544.2 2527.4,546.5 2513.6,550 2507.9,548.8 2507.9,532.8 2497.6,535.1 2488.5,540.8 2463.3,543.1 2454.1,548.8 2446.1,560.3 2440.4,556.8 2435.8,558 2430.1,554.5 2415.2,556.8 2406,544.2 2396.9,537.4 2386.6,536.2 2376.3,541.9 2371.7,543.1 2372.8,535.1 2383.2,521.3 2392.3,512.2 2400.3,507.1 2394.6,504.2 2380.9,505.8 2367.1,513.3 2363.7,524.8 2358,527.1 2351.1,532.8 2344.2,535.1 2339.7,541.9 2319,546.5 2309.9,555.7 2298.4,561.4 2291.6,562.5 2273.3,564.8 2275.5,555.7 2280.1,544.2 2275.5,541.5 2254.9,551.1 2229.8,559.1 2225.2,558"/>
<path d="M2337.4,485.9 2346.5,476.7 2367.1,463 2360.3,473.3 2344.2,488.1 2339.7,489.3 2337.4,485.9"/>
<path d="M2525.1,585.4 2518.2,580.9 2506.8,575.1 2493,571.7 2488.5,580.9 2474.7,582 2463.3,584.3 2461,592.3 2451.8,601.5 2449.5,604.9 2454.1,594.6 2442.7,593.5 2440.4,599.2 2431.2,602.6 2425.5,612.9 2419.8,624.4 2415.2,635.8 2412.9,642.7 2403.8,648.4 2399.2,667.9 2402.6,673.6 2408.3,666.7 2419.8,654.1 2428.9,642.7 2438.1,626.6 2440.4,618.6 2437,631.2 2432.4,642.7 2426.6,656.4 2423.2,670.1 2420.9,690.8 2416.3,697.6 2415.2,720.5 2411.8,743.4 2412.9,761.7 2419.8,775 2417.7,799.5 2425.7,815.5 2433.7,833.8 2437.2,838.9 2446.3,838.4 2462.4,830.4 2471.5,820.1 2478.4,801.8 2484.1,785.8 2485,775 2480.4,748 2472.4,729.7 2465.6,718.2 2470.1,706.8 2465.6,695.3 2471.3,679.3 2472.4,658.7 2477,647.3 2488.5,638.1 2494.2,624.4 2495.3,647.3 2499.9,650.7 2504.5,642.7 2503.3,619.8 2509.1,615.2 2520.5,610.6 2513.6,606 2512.5,599.2 2518.2,592.3 2525.1,586.6"/>
<path d="M2536.5,544.2 2541.1,558 2548,564.8 2559.4,568.3 2568.6,563.7 2575.5,570.6 2566.3,569.4 2557.1,571.7 2538.8,574 2525.1,577.4 2525.1,583.2 2525.1,586.6 2532,590 2543.4,594.6 2552.6,601.5 2566.3,603.8 2577.7,608.3 2586.9,612.9 2589.2,619.8 2582.3,626.6 2589.2,633.5 2593.8,647.3 2593.8,663.3 2584.6,672.4 2582.3,683.9 2573.2,690.8 2573.2,704.5 2584.6,709.1 2593.8,697.6 2598.4,688.5 2612.1,678.2 2619,679.3 2625.8,690.8 2630.4,706.8 2635,720.5 2640.7,736.5 2641.8,754.9"/>
<path d="M2298.4,561.4 2305.3,569.4 2307.6,576.3 2328.2,579.7 2348.8,583.2 2364.8,590 2383.2,590 2392.3,595.7 2390,601.5 2401.5,603.8 2404.9,610.6 2402.6,619.8 2399.2,631.2 2406,625.5 2407.2,633.5 2411.8,620.9 2414.1,638.1"/>
<path d="M2605.5,813.3 2613.5,794.9 2618.1,783.5 2626.8,774.3 2630.7,757.2 2630.7,757.2 2642.1,755.6"/>
<path d="M2605.5,813.3 2615.8,815.5 2627.3,820.1 2638.7,820.1 2647.9,827 2661.6,820.1 2677.6,816.7 2686.8,813.3 2695.9,800.7 2709.7,794.9 2732.6,781.2 2746.3,772.1 2760,763.4 2771.5,752.8 2777.9,742.3 2786.4,731.8 2791.6,721.2"/>
<path d="M2301.9,797 2380,794.9 2417.8,789.2"/>
<path d="M2433.8,833.9 2437.2,877.4 2441.8,923.2 2446.4,971.2 2440.7,982.7 2448.7,994.1 2451,1006.7 2445.2,1019.3 2441.8,1030.8 2434.9,1035.3 2431.5,1049.1 2429.2,1060.5"/>
<path d="M2467,827 2517.4,821.3 2552.8,819 2590.6,815.5 2605.5,813.3"/>
<path d="M2550.6,820.1 2556.3,868.2 2563.2,923.2 2567.7,968.9 2568.9,982.7"/>
<path d="M2380,1110.9 2391.4,1100.6 2402.9,1102.9 2414.3,1108.6 2416.6,1097.1 2413.2,1088 2432.7,1082.3 2426.9,1072 2429.2,1060.5 2448.7,1054.8 2457.8,1052.5 2473.9,1060.5 2478.4,1051.4 2489.9,1049.1 2494.5,1054.8 2501.3,1035.3 2508.2,1036.5 2519.7,1045.6 2526.5,1039.9 2528.8,1026.2 2538,1022.7 2540.3,1012.4 2544.8,1007.9 2542.5,997.6 2554,995.3 2563.2,990.7 2572.3,988.4 2568.9,982.7 2570,973.5 2584.9,970.1 2592.9,978.1 2597.5,987.3 2608.9,987.3 2620.4,994.1 2631.8,990.7 2638.7,996.4 2645.6,989.5 2654.7,983.8 2659.3,993 2666.2,995.3 2674.2,1001 2684.5,996.4 2685.6,987.3 2689.1,982.7 2686.8,971.2 2691.4,962.1 2700.5,966.6 2705.1,965.5 2702.8,955.2 2707.4,943.8 2716.5,936.9 2723.4,930 2732.6,920.9 2737.1,909.4 2736,898 2737.1,868.2"/>
<path d="M2729.1,783.5 2737.1,831.6 2744,868.2 2750.9,904.8"/>
<path d="M2741.7,906 2750.9,904.8 2796.7,899.1 2880,887.7 2895.1,885.6"/>
<path d="M2796.7,899.1 2801.2,934.6 2810.4,923.2 2824.1,909.4 2831,900.3 2849.3,898 2860.8,898 2872.2,904.8 2880,918.6"/>
<path d="M2847,909.4 2851.6,923.2 2847,934.6 2835.6,952.9 2828.7,948.3 2824.1,959.8 2817.3,978.1 2808.1,975.8 2801.2,968.9 2800.1,982.7 2792.1,1001 2785.2,1014.7 2780.6,1028.5 2782.9,1035.3 2773.8,1039.9 2764.6,1046.8 2755.5,1049.1 2746.3,1058.2 2734.9,1053.6 2723.4,1063.9 2714.2,1059.4 2705.1,1049.1"/>
<path d="M2847,909.4 2860.8,914 2876.8,923.2 2880,918.6"/>
<path d="M2674.2,1001 2670.8,1014.7 2677.6,1026.2 2686.8,1037.6 2695.9,1045.6 2705.1,1049.1 2695.9,1060.5 2684.5,1072 2675.3,1081.1 2666.2,1097.1 2654.7,1106.3 2641,1113.2"/>
</g>
<path d="M693,604.7 708.8,598.8 728.5,614.6 748.2,634.2 767.9,653.9 799.4,665.7 809.2,679.5 805.3,692.1 783.6,701.2 763.9,689.4 744.2,677.6 728.5,657.9 708.8,634.2 697,620.5Z" fill="#000" stroke="#000" stroke-width="3" stroke-linejoin="round"/>
<path d="M519.8,581.1 531.6,575.2 551.3,581.1 555.2,592.9 543.4,604.7 535.5,614.6 525.7,608.6 523.7,592.9Z" fill="#000" stroke="#000" stroke-width="3" stroke-linejoin="round"/>
<path d="M441,687.4 456.8,667.7 472.5,655.9 480.4,663.8 472.5,679.5 456.8,695.3 445,707.1 437.1,707.1Z" fill="#000" stroke="#000" stroke-width="3" stroke-linejoin="round"/>
<path d="M234.3,482.6 252,486.6 271.7,502.3 263.8,508.2 252,502.3 236.3,492.5Z" fill="#fff" stroke="#000" stroke-width="3.6" stroke-linejoin="round"/>
<path d="M269.7,587 287.5,585 293.4,596.8 283.5,602.7 273.7,594.9Z" fill="#fff" stroke="#000" stroke-width="3.6" stroke-linejoin="round"/>
<path d="M478.4,626.4 488.3,616.5 504,612.6 511.9,604.7 508,616.5 492.2,628.3 482.4,634.2Z" fill="#fff" stroke="#000" stroke-width="3.6" stroke-linejoin="round"/>
<path d="M277.6,748.4 299.3,736.6 326.8,718.9 346.5,716.9 350.5,726.8 334.7,734.7 315,742.5 291.4,752.4Z" fill="#fff" stroke="#000" stroke-width="3.6" stroke-linejoin="round"/>
<path d="M200.8,779.9 185.1,778 165.4,780.3" fill="none" stroke="#000" stroke-width="7" stroke-linecap="round" stroke-linejoin="round"/>
<path d="M149.6,778.8 141.8,778.8" fill="none" stroke="#000" stroke-width="7" stroke-linecap="round" stroke-linejoin="round"/>
<path d="M129.9,782.7 118.1,774 94.5,772.5 70.9,768.5 51.2,763" fill="none" stroke="#000" stroke-width="7" stroke-linecap="round" stroke-linejoin="round"/>
<path d="M39.4,762.2 30.7,770.1" fill="none" stroke="#000" stroke-width="7" stroke-linecap="round" stroke-linejoin="round"/>
<path d="M13.8,744.5 19.7,745.7" fill="none" stroke="#000" stroke-width="7" stroke-linecap="round" stroke-linejoin="round"/>
<path d="M196.9,557.5 202.8,563.4 206.7,569.3" fill="none" stroke="#000" stroke-width="7" stroke-linecap="round" stroke-linejoin="round"/>
<path d="M210.7,659.8 215.8,661.8" fill="none" stroke="#000" stroke-width="7" stroke-linecap="round" stroke-linejoin="round"/>
<path d="M216.6,677.6 221.3,679.5" fill="none" stroke="#000" stroke-width="7" stroke-linecap="round" stroke-linejoin="round"/>
<path d="M285.5,435.4 286.7,437.4" fill="none" stroke="#000" stroke-width="7" stroke-linecap="round" stroke-linejoin="round"/>
<path d="M285.5,458.2 290.6,462.2" fill="none" stroke="#000" stroke-width="7" stroke-linecap="round" stroke-linejoin="round"/>
<path d="M407.6,715 410.3,720.9" fill="none" stroke="#000" stroke-width="7" stroke-linecap="round" stroke-linejoin="round"/>
<path d="M423.3,724.8 427.2,726.8" fill="none" stroke="#000" stroke-width="7" stroke-linecap="round" stroke-linejoin="round"/>
<path d="M765.9,705.1 768.6,706.3" fill="none" stroke="#000" stroke-width="7" stroke-linecap="round" stroke-linejoin="round"/>
<path d="M350.5,742.5 368.2,748.4" fill="none" stroke="#000" stroke-width="7" stroke-linecap="round" stroke-linejoin="round"/>
<path d="M307.1,754.3 319,758.3" fill="none" stroke="#000" stroke-width="7" stroke-linecap="round" stroke-linejoin="round"/>
<path d="M472.5,642.1 478.4,642.1" fill="none" stroke="#000" stroke-width="7" stroke-linecap="round" stroke-linejoin="round"/>
<path d="M441,709.1 452.8,705.1" fill="none" stroke="#000" stroke-width="7" stroke-linecap="round" stroke-linejoin="round"/>
<path d="M3021.2,800.1 3034.9,788.6 3051.7,780.1 3068.6,771.7 3085.4,761.2 3106.5,755.9 3093.8,765.4 3081.2,773.8 3098.1,768.5 3085.4,780.1 3064.4,790.7 3043.3,799.1 3022.2,805.8Z" fill="#FFFF00" stroke="#000" stroke-width="3.6" stroke-linejoin="round"/>
<path d="M3026.4,800.1 3039.1,793.8 3055.9,785.4 3072.8,775.9 3081.2,775.9 3064.4,786.4 3043.3,795.9 3027.5,802.2Z" fill="#FCD37F" stroke="none"/>
<path d="M3140.2,728.5 3150.7,725.4 3159.1,728.5 3152.8,731.7 3144.4,732.7Z" fill="#000" stroke="#000" stroke-width="2"/>
<path d="M3169.7,733.8 3176,725.4 3173.9,713.8 3182.3,723.3 3179.1,729.6Z" fill="#000" stroke="#000" stroke-width="2"/>
<path d="M887.9,897.6 902.6,894 920.9,901.3 935.5,904.9 946.5,901.3 928.2,910.4 909.9,908.6 896,908.6 893.4,923.3 900.7,934.2 909.9,937.9 896,937.9 888.6,923.3Z" fill="#fff" stroke="#000" stroke-width="3.6" stroke-linejoin="round"/>
<path d="M930,1152.2 946.5,1154 966.7,1159.5 953.8,1161.4 935.5,1157.7Z" fill="#fff" stroke="#000" stroke-width="3.6" stroke-linejoin="round"/>
<path d="M999.6,1198.7 1010.6,1205.3 1012.5,1214.5 1005.1,1210.8Z" fill="#fff" stroke="#000" stroke-width="3.6" stroke-linejoin="round"/>
<path d="M992.3,1225.5 997.8,1232.8 1003.3,1243.8 996,1234.6Z" fill="#fff" stroke="#000" stroke-width="3.6" stroke-linejoin="round"/>
<clipPath id="niihau"><path d="M53.6,1148.6 57.7,1136.2 68,1130.1 74.2,1115.6 82.4,1121.8 78.3,1136.2 65.9,1142.4 59.8,1154Z"/></clipPath>
<path d="M53.6,1148.6 57.7,1136.2 68,1130.1 74.2,1115.6 82.4,1121.8 78.3,1136.2 65.9,1142.4 59.8,1154Z" fill="#fff" stroke="none"/>
<path d="M41.2,1106.2Q41.2,1101.2 46.2,1101.2Q51.2,1101.2 72.1,1101.2Q93,1101.2 98,1101.2Q103,1101.2 103,1106.2Q103,1111.2 103,1134.2Q103,1157.1 103,1162.1Q103,1167.1 98,1167.1Q93,1167.1 72.1,1167.1Q51.2,1167.1 46.2,1167.1Q41.2,1167.1 41.2,1162.1Q41.2,1157.1 41.2,1134.2Q41.2,1111.2 41.2,1106.2Z" fill="#FFFF00" stroke="none" clip-path="url(#niihau)"/>
<path d="M53.6,1148.6 57.7,1136.2 68,1130.1 74.2,1115.6 82.4,1121.8 78.3,1136.2 65.9,1142.4 59.8,1154Z" fill="none" stroke="#000" stroke-width="3.6" stroke-linejoin="round"/>
<clipPath id="kauai"><path d="M121.6,1111.5 131.9,1095 154.5,1084.7 181.3,1083.9 193.7,1093 197,1105.3 189.6,1125.9 173.1,1139.1 156.6,1137.5 140.1,1130.1 123.6,1119.8Z"/></clipPath>
<path d="M121.6,1111.5 131.9,1095 154.5,1084.7 181.3,1083.9 193.7,1093 197,1105.3 189.6,1125.9 173.1,1139.1 156.6,1137.5 140.1,1130.1 123.6,1119.8Z" fill="#fff" stroke="none"/>
<path d="M136,1128Q133.9,1121.8 141.1,1120.8Q148.4,1119.8 154.5,1122.8Q160.7,1125.9 162.8,1133.1Q164.8,1140.4 156.6,1140.4Q148.4,1140.4 143.2,1137.3Q138,1134.2 136,1128Z" fill="#FFFF00" stroke="none" clip-path="url(#kauai)"/>
<path d="M141.1,1129.6Q140.1,1125.9 144.6,1124.9Q149.2,1123.9 153.9,1127Q158.7,1130.1 160.1,1134.6Q161.5,1139.1 156,1139.1Q150.4,1139.1 146.3,1136.2Q142.2,1133.4 141.1,1129.6Z" fill="#FFAA00" stroke="none" clip-path="url(#kauai)"/>
<path d="M121.6,1111.5 131.9,1095 154.5,1084.7 181.3,1083.9 193.7,1093 197,1105.3 189.6,1125.9 173.1,1139.1 156.6,1137.5 140.1,1130.1 123.6,1119.8Z" fill="none" stroke="#000" stroke-width="3.6" stroke-linejoin="round"/>
<clipPath id="oahu"><path d="M344.1,1182.8 370.9,1181.6 391.5,1161 405.9,1173.3 416.2,1196 430.6,1204.2 443,1222.8 432.7,1231 416.2,1229 403.8,1222.8 375,1225.7 364.7,1208.4 354.4,1198 352.3,1185.7Z"/></clipPath>
<path d="M344.1,1182.8 370.9,1181.6 391.5,1161 405.9,1173.3 416.2,1196 430.6,1204.2 443,1222.8 432.7,1231 416.2,1229 403.8,1222.8 375,1225.7 364.7,1208.4 354.4,1198 352.3,1185.7Z" fill="#fff" stroke="none"/>
<path d="M344.1,1182.8 370.9,1181.6 391.5,1161 405.9,1173.3 416.2,1196 430.6,1204.2 443,1222.8 432.7,1231 416.2,1229 403.8,1222.8 375,1225.7 364.7,1208.4 354.4,1198 352.3,1185.7Z" fill="none" stroke="#000" stroke-width="3.6" stroke-linejoin="round"/>
<clipPath id="molokai"><path d="M493.7,1253.7 500.7,1237.2 519.2,1239.3 544,1241.3 552.2,1243.4 583.1,1244.6 576.9,1257.8 564.6,1262.7 544,1258.6 519.2,1257 498.6,1257Z"/></clipPath>
<path d="M493.7,1253.7 500.7,1237.2 519.2,1239.3 544,1241.3 552.2,1243.4 583.1,1244.6 576.9,1257.8 564.6,1262.7 544,1258.6 519.2,1257 498.6,1257Z" fill="#fff" stroke="none"/>
<path d="M486.3,1238.1Q486.3,1233.1 491.3,1233.1Q496.3,1233.1 511,1233.1Q525.7,1233.1 530.7,1233.1Q535.7,1233.1 544,1239.3Q552.2,1245.4 556.3,1255.7Q560.4,1266 555.4,1266Q550.4,1266 523.4,1266Q496.3,1266 491.3,1266Q486.3,1266 486.3,1261Q486.3,1256 486.3,1249.6Q486.3,1243.1 486.3,1238.1Z" fill="#FFFF00" stroke="none" clip-path="url(#molokai)"/>
<path d="M513,1254.7Q511,1251.6 521.3,1248.5Q531.6,1245.4 539.8,1246.5Q548.1,1247.5 553.2,1255.7Q558.4,1264 547,1263Q535.7,1261.9 525.4,1259.9Q515.1,1257.8 513,1254.7Z" fill="#FCD37F" stroke="none" clip-path="url(#molokai)"/>
<path d="M493.7,1253.7 500.7,1237.2 519.2,1239.3 544,1241.3 552.2,1243.4 583.1,1244.6 576.9,1257.8 564.6,1262.7 544,1258.6 519.2,1257 498.6,1257Z" fill="none" stroke="#000" stroke-width="3.6" stroke-linejoin="round"/>
<clipPath id="lanai"><path d="M531.6,1285.8 539.8,1280.5 554.3,1282.5 566.6,1290.8 570.7,1301.1 562.5,1309.3 552.2,1313.4 539.8,1303.1Z"/></clipPath>
<path d="M531.6,1285.8 539.8,1280.5 554.3,1282.5 566.6,1290.8 570.7,1301.1 562.5,1309.3 552.2,1313.4 539.8,1303.1Z" fill="#fff" stroke="none"/>
<path d="M527.5,1279.3Q527.5,1274.3 532.5,1274.3Q537.5,1274.3 552.2,1274.3Q566.9,1274.3 571.9,1274.3Q576.9,1274.3 576.9,1279.3Q576.9,1284.3 576.9,1297Q576.9,1309.6 576.9,1314.6Q576.9,1319.6 571.9,1319.6Q566.9,1319.6 552.2,1319.6Q537.5,1319.6 532.5,1319.6Q527.5,1319.6 527.5,1314.6Q527.5,1309.6 527.5,1297Q527.5,1284.3 527.5,1279.3Z" fill="#FFFF00" stroke="none" clip-path="url(#lanai)"/>
<path d="M527.5,1284.6Q527.5,1278.4 535.7,1279.4Q544,1280.5 547,1289.7Q550.1,1299 552.2,1307.3Q554.3,1315.5 545,1315.5Q535.7,1315.5 531.6,1303.1Q527.5,1290.8 527.5,1284.6Z" fill="#FCD37F" stroke="none" clip-path="url(#lanai)"/>
<path d="M531.6,1285.8 539.8,1280.5 554.3,1282.5 566.6,1290.8 570.7,1301.1 562.5,1309.3 552.2,1313.4 539.8,1303.1Z" fill="none" stroke="#000" stroke-width="3.6" stroke-linejoin="round"/>
<clipPath id="maui"><path d="M585.2,1280.5 591.3,1268.1 601.6,1264 614,1274.3 622.3,1284.6 642.9,1278.4 655.2,1278.4 671.7,1290.8 692.3,1301.1 696.4,1307.3 688.2,1319.6 667.6,1327.9 642.9,1334 628.4,1332 622.3,1321.7 609.9,1303.1 593.4,1297Z"/></clipPath>
<path d="M585.2,1280.5 591.3,1268.1 601.6,1264 614,1274.3 622.3,1284.6 642.9,1278.4 655.2,1278.4 671.7,1290.8 692.3,1301.1 696.4,1307.3 688.2,1319.6 667.6,1327.9 642.9,1334 628.4,1332 622.3,1321.7 609.9,1303.1 593.4,1297Z" fill="#fff" stroke="none"/>
<path d="M586.9,1271Q587.2,1266 594.4,1272.2Q601.6,1278.4 609.9,1286.6Q618.1,1294.9 627.4,1295.9Q636.7,1297 636.7,1310.3Q636.7,1323.7 627.4,1323.7Q618.1,1323.7 612,1313.4Q605.8,1303.1 595.5,1301.1Q585.2,1299 585.5,1294Q585.8,1289 586.2,1282.5Q586.6,1276 586.9,1271Z" fill="#FFFF00" stroke="none" clip-path="url(#maui)"/>
<path d="M585.2,1283.6Q585.2,1270.2 591.3,1277.4Q597.5,1284.6 605.8,1291.4Q614,1298.2 623.3,1298.2Q632.6,1298.2 633.6,1313Q634.6,1327.9 627.4,1325.8Q620.2,1323.7 614,1314.5Q607.8,1305.2 596.5,1301.1Q585.2,1297 585.2,1283.6Z" fill="#FCD37F" stroke="none" clip-path="url(#maui)"/>
<path d="M620.8,1306.6Q620.2,1299.8 626.4,1299.4Q632.6,1299 633.2,1308.3Q633.8,1317.6 630.1,1320.6Q626.4,1323.7 623.9,1318.6Q621.4,1313.4 620.8,1306.6Z" fill="#FFAA00" stroke="none" clip-path="url(#maui)"/>
<path d="M585.2,1280.5 591.3,1268.1 601.6,1264 614,1274.3 622.3,1284.6 642.9,1278.4 655.2,1278.4 671.7,1290.8 692.3,1301.1 696.4,1307.3 688.2,1319.6 667.6,1327.9 642.9,1334 628.4,1332 622.3,1321.7 609.9,1303.1 593.4,1297Z" fill="none" stroke="#000" stroke-width="3.6" stroke-linejoin="round"/>
<clipPath id="kahoolawe"><path d="M586,1341 595.5,1332.8 607.8,1329.9 612,1340.2 601.6,1346.4 589.3,1346.4Z"/></clipPath>
<path d="M586,1341 595.5,1332.8 607.8,1329.9 612,1340.2 601.6,1346.4 589.3,1346.4Z" fill="#fff" stroke="none"/>
<path d="M576.9,1338.2Q576.9,1323.7 581.9,1323.7Q586.9,1323.7 597.5,1323.7Q608.1,1323.7 613.1,1323.7Q618.1,1323.7 618.1,1338.2Q618.1,1352.6 613.1,1352.6Q608.1,1352.6 597.5,1352.6Q586.9,1352.6 581.9,1352.6Q576.9,1352.6 576.9,1338.2Z" fill="#FCD37F" stroke="none" clip-path="url(#kahoolawe)"/>
<path d="M586,1341 595.5,1332.8 607.8,1329.9 612,1340.2 601.6,1346.4 589.3,1346.4Z" fill="none" stroke="#000" stroke-width="3.6" stroke-linejoin="round"/>
<clipPath id="hawaii"><path d="M704.7,1389.7 708.8,1381.4 719.1,1379.4 737.6,1389.7 754.1,1400 774.7,1404.1 795.3,1414.4 813.9,1426.8 828.3,1441.2 830.4,1455.6 840.7,1459.7 844.8,1474.1 857.1,1484.5 869.5,1490.6 869.5,1500.9 848.9,1513.3 824.2,1525.7 807.7,1531.8 797.4,1529.8 783,1540.1 770.6,1548.3 758.2,1558.6 747.9,1575.1 737.6,1584.2 725.3,1573 712.9,1566.9 703.8,1554.5 706.7,1521.5 700.5,1496.8 690.2,1476.2 682,1459.7 686.1,1445.3 700.5,1437.1 715,1422.6 712.9,1410.3Z"/></clipPath>
<path d="M704.7,1389.7 708.8,1381.4 719.1,1379.4 737.6,1389.7 754.1,1400 774.7,1404.1 795.3,1414.4 813.9,1426.8 828.3,1441.2 830.4,1455.6 840.7,1459.7 844.8,1474.1 857.1,1484.5 869.5,1490.6 869.5,1500.9 848.9,1513.3 824.2,1525.7 807.7,1531.8 797.4,1529.8 783,1540.1 770.6,1548.3 758.2,1558.6 747.9,1575.1 737.6,1584.2 725.3,1573 712.9,1566.9 703.8,1554.5 706.7,1521.5 700.5,1496.8 690.2,1476.2 682,1459.7 686.1,1445.3 700.5,1437.1 715,1422.6 712.9,1410.3Z" fill="#fff" stroke="none"/>
<path d="M743.8,1583.4Q733.5,1587.5 737.6,1576.1Q741.8,1564.8 749,1557.2Q756.2,1549.6 764.4,1546.9Q772.7,1544.2 773.7,1549.4Q774.7,1554.5 771.5,1558.3Q768.3,1562.2 764.4,1566.9Q760.5,1571.5 757.3,1575.4Q754.1,1579.2 743.8,1583.4Z" fill="#FFFF00" stroke="none" clip-path="url(#hawaii)"/>
<path d="M704.7,1389.7 708.8,1381.4 719.1,1379.4 737.6,1389.7 754.1,1400 774.7,1404.1 795.3,1414.4 813.9,1426.8 828.3,1441.2 830.4,1455.6 840.7,1459.7 844.8,1474.1 857.1,1484.5 869.5,1490.6 869.5,1500.9 848.9,1513.3 824.2,1525.7 807.7,1531.8 797.4,1529.8 783,1540.1 770.6,1548.3 758.2,1558.6 747.9,1575.1 737.6,1584.2 725.3,1573 712.9,1566.9 703.8,1554.5 706.7,1521.5 700.5,1496.8 690.2,1476.2 682,1459.7 686.1,1445.3 700.5,1437.1 715,1422.6 712.9,1410.3Z" fill="none" stroke="#000" stroke-width="3.6" stroke-linejoin="round"/>
<line x1="333.8" y1="1424.7" x2="82.4" y2="1156.8" stroke="#000" stroke-width="3.5"/>
<line x1="352.3" y1="1405.3" x2="173.1" y2="1161.0" stroke="#000" stroke-width="3.5"/>
<line x1="381.2" y1="1409.5" x2="511.8" y2="1297.0" stroke="#000" stroke-width="3.5"/>
<line x1="403.0" y1="1414.4" x2="559.6" y2="1348.5" stroke="#000" stroke-width="3.5"/>
<line x1="417.0" y1="1443.2" x2="666.8" y2="1496.0" stroke="#000" stroke-width="3.5"/>
<clipPath id="pr"><path d="M2932.1,1843 2949.5,1835.7 2950.4,1823.8 2954.9,1818.3 2967.8,1817.4 2976.9,1818.3 2984.2,1822.9 2998.9,1822.9 3015.4,1821.1 3026.4,1825.6 3039.2,1822 3052,1822.9 3061.2,1822.9 3074,1826.6 3079.5,1822.9 3090.5,1822 3105.1,1824.7 3123.4,1827.5 3130.8,1823.8 3138.1,1830.2 3152.7,1829.3 3160.1,1827.5 3171.1,1830.2 3182.1,1831.1 3191.2,1836.6 3200.4,1839.4 3211.4,1844 3224.2,1843 3223.3,1854.9 3222.3,1862.3 3231.5,1865.9 3222.3,1873.3 3211.4,1875.1 3202.2,1878.8 3194.9,1886.1 3191.2,1897.1 3186.6,1906.2 3178.4,1908.1 3169.2,1914.5 3158.2,1914.5 3149.1,1915.4 3138.1,1915.4 3128.9,1920.9 3117.9,1920.9 3107,1919 3101.5,1914.5 3094.1,1912.6 3088.6,1919 3081.3,1916.3 3075.8,1910.8 3064.8,1910.8 3053.8,1915.4 3046.5,1913.6 3037.4,1914.5 3028.2,1909 3020.9,1908.1 3011.7,1913.6 3002.6,1917.2 2991.6,1920.9 2982.4,1914.5 2973.3,1913.6 2962.3,1917.2 2951.3,1915.4 2944,1919 2941.2,1911.7 2945.8,1902.6 2944,1891.6 2947.6,1878.8 2952.2,1873.3 2947.6,1860.4 2938.5,1856.8 2933,1849.5Z"/></clipPath>
<path d="M2932.1,1843 2949.5,1835.7 2950.4,1823.8 2954.9,1818.3 2967.8,1817.4 2976.9,1818.3 2984.2,1822.9 2998.9,1822.9 3015.4,1821.1 3026.4,1825.6 3039.2,1822 3052,1822.9 3061.2,1822.9 3074,1826.6 3079.5,1822.9 3090.5,1822 3105.1,1824.7 3123.4,1827.5 3130.8,1823.8 3138.1,1830.2 3152.7,1829.3 3160.1,1827.5 3171.1,1830.2 3182.1,1831.1 3191.2,1836.6 3200.4,1839.4 3211.4,1844 3224.2,1843 3223.3,1854.9 3222.3,1862.3 3231.5,1865.9 3222.3,1873.3 3211.4,1875.1 3202.2,1878.8 3194.9,1886.1 3191.2,1897.1 3186.6,1906.2 3178.4,1908.1 3169.2,1914.5 3158.2,1914.5 3149.1,1915.4 3138.1,1915.4 3128.9,1920.9 3117.9,1920.9 3107,1919 3101.5,1914.5 3094.1,1912.6 3088.6,1919 3081.3,1916.3 3075.8,1910.8 3064.8,1910.8 3053.8,1915.4 3046.5,1913.6 3037.4,1914.5 3028.2,1909 3020.9,1908.1 3011.7,1913.6 3002.6,1917.2 2991.6,1920.9 2982.4,1914.5 2973.3,1913.6 2962.3,1917.2 2951.3,1915.4 2944,1919 2941.2,1911.7 2945.8,1902.6 2944,1891.6 2947.6,1878.8 2952.2,1873.3 2947.6,1860.4 2938.5,1856.8 2933,1849.5Z" fill="#fff" stroke="none"/>
<path d="M3077.7,1919Q3077.7,1909.9 3079.5,1904.4Q3081.3,1898.9 3085,1894.3Q3088.6,1889.7 3093.2,1886.1Q3097.8,1882.4 3102.4,1879.7Q3107,1876.9 3112.5,1876.2Q3117.9,1875.5 3123.4,1877.1Q3128.9,1878.8 3133.5,1881.5Q3138.1,1884.2 3142.7,1888.8Q3147.3,1893.4 3150,1898Q3152.7,1902.6 3154.6,1907.1Q3156.4,1911.7 3156.4,1920Q3156.4,1928.2 3151.4,1928.2Q3146.4,1928.2 3117,1928.2Q3087.7,1928.2 3082.7,1928.2Q3077.7,1928.2 3077.7,1919Z" fill="#FFFF00" stroke="none" clip-path="url(#pr)"/>
<path d="M3096,1919Q3096,1909.9 3098.7,1906.2Q3101.5,1902.6 3106,1899.8Q3110.6,1897.1 3113.4,1894.3Q3116.1,1891.6 3118.9,1893.4Q3121.6,1895.2 3125.3,1897.1Q3128.9,1898.9 3132.6,1895.2Q3136.3,1891.6 3139.9,1891.6Q3143.6,1891.6 3144.5,1894.3Q3145.4,1897.1 3143.6,1900.7Q3141.8,1904.4 3142.7,1908.1Q3143.6,1911.7 3143.6,1920Q3143.6,1928.2 3138.6,1928.2Q3133.6,1928.2 3119.8,1928.2Q3106,1928.2 3101,1928.2Q3096,1928.2 3096,1919Z" fill="#FCD37F" stroke="none" clip-path="url(#pr)"/>
<path d="M2932.1,1843 2949.5,1835.7 2950.4,1823.8 2954.9,1818.3 2967.8,1817.4 2976.9,1818.3 2984.2,1822.9 2998.9,1822.9 3015.4,1821.1 3026.4,1825.6 3039.2,1822 3052,1822.9 3061.2,1822.9 3074,1826.6 3079.5,1822.9 3090.5,1822 3105.1,1824.7 3123.4,1827.5 3130.8,1823.8 3138.1,1830.2 3152.7,1829.3 3160.1,1827.5 3171.1,1830.2 3182.1,1831.1 3191.2,1836.6 3200.4,1839.4 3211.4,1844 3224.2,1843 3223.3,1854.9 3222.3,1862.3 3231.5,1865.9 3222.3,1873.3 3211.4,1875.1 3202.2,1878.8 3194.9,1886.1 3191.2,1897.1 3186.6,1906.2 3178.4,1908.1 3169.2,1914.5 3158.2,1914.5 3149.1,1915.4 3138.1,1915.4 3128.9,1920.9 3117.9,1920.9 3107,1919 3101.5,1914.5 3094.1,1912.6 3088.6,1919 3081.3,1916.3 3075.8,1910.8 3064.8,1910.8 3053.8,1915.4 3046.5,1913.6 3037.4,1914.5 3028.2,1909 3020.9,1908.1 3011.7,1913.6 3002.6,1917.2 2991.6,1920.9 2982.4,1914.5 2973.3,1913.6 2962.3,1917.2 2951.3,1915.4 2944,1919 2941.2,1911.7 2945.8,1902.6 2944,1891.6 2947.6,1878.8 2952.2,1873.3 2947.6,1860.4 2938.5,1856.8 2933,1849.5Z" fill="none" stroke="#000" stroke-width="3.6" stroke-linejoin="round"/>
<path d="M3228.8,1887.9 3238.8,1884.2 3253.5,1879.7 3259.9,1879.7 3259.9,1893.4 3248,1895.2 3235.2,1895.2 3229.7,1892.5Z" fill="#000" stroke="#000" stroke-width="2" stroke-linejoin="round" />
<path d="M3234.2,1891.2 3244.3,1888.8 3259,1884.6" fill="none" stroke="#FFFF00" stroke-width="2.5"/>
<path d="M3230.6,1845.8 3234.2,1845.8 3234.2,1849.8 3230.6,1849.8Z" fill="#000" stroke="#000" stroke-width="1" stroke-linejoin="round" />
<path d="M3056.6,1938.3 3065.8,1923.6 3068.5,1926.4Z" fill="#000" stroke="#000" stroke-width="1" stroke-linejoin="round" />
<g id="impact" fill="none" stroke="#000" stroke-width="8.5" stroke-linejoin="round" stroke-linecap="round">
<path d="M1107.7,301.3Q1103.2,310.2 1100.4,315.9Q1097.5,321.6 1095.3,326.1Q1093,330.6 1090.8,335.1Q1088.6,339.5 1083.9,348.9Q1079.2,358.3 1077,362.7Q1074.7,367.2 1072.7,371.8Q1070.6,376.3 1065.6,387.4Q1060.5,398.4 1058.5,403Q1056.4,407.5 1054.3,412.1Q1052.3,416.6 1047.3,427.7Q1042.2,438.7 1040.2,443.3Q1038.1,447.8 1035.9,452.3Q1033.6,456.7 1030.8,462.5Q1027.9,468.2 1025.7,472.6Q1023.4,477.1 1021.4,481.7Q1019.4,486.2 1016.1,493.6Q1012.9,500.9 1010.8,505.5Q1008.8,510.1 1006.6,514.5Q1004.3,519 1001.5,524.7Q998.6,530.4 996.4,534.9Q994.1,539.4 991.5,543.6Q988.8,547.9 985,554Q981.1,560.2 978.5,564.4Q975.8,568.7 972.6,572.5Q969.3,576.3 964.8,581.5Q960.4,586.7 957.1,590.5Q953.8,594.3 950.3,597.9Q946.8,601.4 941,607.1Q935.3,612.9 931.7,616.4Q928.2,620 917.2,629.1Q906.2,638.3 884.2,652.9"/>
<path d="M1210.3,667.6Q1209.5,652.9 1210.8,643.8Q1212.1,634.6 1213.9,625.5Q1215.8,616.3 1214.8,609.9Q1213.9,603.5 1208.4,599.8Q1202.9,596.2 1195.6,594.9Q1188.3,593.6 1181,594Q1173.6,594.3 1162.6,598.9Q1151.6,603.5 1140.7,609.9Q1129.7,616.3 1118.7,622.7Q1107.7,629.1 1098.5,633.7Q1089.4,638.3 1080.2,641.6Q1071.1,644.9 1060.1,643.8Q1049.1,642.7 1038.1,643.2Q1027.1,643.8 1017.9,645.6Q1008.8,647.4 1001.5,652Q994.1,656.6 991.4,663.9Q988.6,671.2 985.9,678.6Q983.2,685.9 977.7,692.3Q972.2,698.7 966.7,706Q961.2,713.4 955.7,717Q950.2,720.7 939.2,721.6Q928.2,722.5 917.2,725.3Q906.2,728 898.9,732.6Q891.6,737.2 885.2,746.3Q878.8,755.5 874.2,764.7Q869.6,773.8 864.1,788.5"/>
<path d="M1193.8,850Q1193.8,850 1193.3,845Q1192.8,840.1 1191.9,832.1Q1191.1,824.1 1190.6,819.1Q1190.1,814.1 1189,809.2Q1187.9,804.3 1186.4,797.6Q1185,790.9 1183.9,786Q1182.8,781.1 1182.5,776.1Q1182.3,771.1 1181.9,762.8Q1181.5,754.5 1181.2,749.5Q1181,744.5 1182.8,733.5Q1184.6,722.5 1186.2,717.8Q1187.8,713 1190.1,706Q1192.4,699 1194,694.3Q1195.6,689.6 1202.9,678.6Q1210.3,667.6 1219.4,666.1Q1228.6,664.7 1237.7,665.2Q1246.9,665.8 1252.4,670.3Q1257.9,674.9 1259.7,682.2Q1261.5,689.6 1261.2,696Q1260.8,702.4 1266.7,707Q1272.5,711.5 1283.5,714.3Q1294.5,717 1309.2,718.9Q1323.8,720.7 1328.7,721.5Q1333.7,722.3 1340.3,723.4Q1346.9,724.5 1351.8,725.4Q1356.8,726.2 1361.6,727.4Q1366.5,728.6 1371.4,729.9Q1376.4,731.1 1381.2,732.3Q1386.1,733.5 1390.9,734.7Q1395.8,735.9 1400.7,737.2Q1405.7,738.4 1410.5,739.6Q1415.4,740.8 1426.4,741.8Q1437.4,742.7 1446.5,739Q1455.7,735.3 1463,728.9Q1470.3,722.5 1475.8,713.4Q1481.3,704.2 1486.8,697.8Q1492.3,691.4 1503.3,685.9Q1514.3,680.4 1527.1,674Q1539.9,667.6 1552.7,661.2Q1565.6,654.8 1574.7,648.4Q1583.9,641.9 1587.5,629.1Q1591.2,616.3 1590.3,601.6Q1589.4,587 1584.8,574.2Q1580.2,561.4 1572.9,550.4Q1565.6,539.4 1554.6,533Q1543.6,526.6 1530.8,522Q1517.9,517.4 1507,510.1Q1496,502.7 1490.5,493.6Q1485,484.4 1482.8,471.6Q1480.6,458.8 1479.1,446Q1477.7,433.2 1474,422.2Q1470.3,411.2 1463,402Q1455.7,392.9 1446.5,388.3Q1437.4,383.7 1428.2,384.2Q1419,384.8 1409.9,388.8Q1400.7,392.9 1395.6,400.2Q1390.5,407.5 1388.3,414.8Q1386.1,422.2 1378.8,420.7Q1371.4,419.2 1367.8,415.2Q1364.1,411.2 1363.7,403.8Q1363.4,396.5 1360.1,392.9Q1356.8,389.2 1349.5,387.7Q1342.1,386.3 1333.9,384.4Q1325.6,382.6 1322.9,376.7Q1320.1,370.9 1320.1,356.2"/>
<path d="M2740,782.2Q2752.6,788.6 2759,791.7Q2765.3,794.9 2771.1,799.1Q2776.9,803.3 2779.5,809.6Q2782.1,815.9 2781.1,823.3Q2780,830.7 2775.8,850"/>
<path d="M1193.8,850Q1188.3,872 1182.8,884.8Q1177.3,897.6 1171.8,910.4Q1166.3,923.3 1168.1,928.8Q1170,934.2 1179.1,939.7Q1188.3,945.2 1197.4,952.6Q1206.6,959.9 1212.1,969Q1217.6,978.2 1219.4,987.4Q1221.2,996.5 1224.9,1005.7Q1228.6,1014.8 1237.7,1024Q1246.9,1033.2 1257.9,1040.5Q1268.9,1047.8 1278,1049.6Q1287.2,1051.5 1296.3,1049.6Q1305.5,1047.8 1312.8,1040.5Q1320.1,1033.2 1325.6,1024Q1331.1,1014.8 1336.6,1002Q1342.1,989.2 1344.9,974.5Q1347.6,959.9 1347.9,954.9Q1348.1,949.9 1348.5,941.6Q1349,933.2 1349.2,928.3Q1349.5,923.3 1344,914.1Q1338.5,904.9 1325.6,899.5Q1312.8,894 1303.7,886.6Q1294.5,879.3 1290.8,872Q1287.2,864.7 1287.2,850"/>
<path d="M1463,850Q1477.7,864.7 1485,872Q1492.3,879.3 1490.5,888.5Q1488.6,897.6 1483.2,906.8Q1477.7,915.9 1472.2,926.9Q1466.7,937.9 1461.2,948.9Q1455.7,959.9 1453.9,964.6Q1452.2,969.3 1450.2,974.5Q1448.2,979.8 1446.4,984.5Q1444.7,989.2 1437.4,1002Q1430,1014.8 1420.9,1025.8Q1411.7,1036.8 1402.6,1046Q1393.4,1055.1 1371.4,1062.5"/>
<path d="M909.9,1029.5Q913.6,1003.8 920.9,997.4Q928.2,991 937.4,992.9Q946.5,994.7 955.7,999.3Q964.8,1003.8 970.3,1011.2Q975.8,1018.5 978.6,1029.5Q981.3,1040.5 984.1,1051.5Q986.8,1062.5 992.3,1071.6Q997.8,1080.8 1005.1,1088.1Q1012.5,1095.4 1016.1,1102.7Q1019.8,1110.1 1027.1,1114.7Q1034.4,1119.2 1045.4,1117.4Q1056.4,1115.6 1071.1,1112.8Q1085.7,1110.1 1100.4,1110.4Q1115,1110.8 1129.7,1112.3Q1144.3,1113.7 1149.8,1119.2Q1155.3,1124.7 1159,1132.1Q1162.6,1139.4 1166.3,1148.5Q1170,1157.7 1175.5,1165Q1181,1172.3 1191.9,1176Q1202.9,1179.7 1212.1,1181.5Q1221.2,1183.3 1234.1,1187Q1246.9,1190.7 1257.9,1197.1Q1268.9,1203.5 1278,1211.7Q1287.2,1220 1292.7,1229.1Q1298.2,1238.3 1300.9,1247.4Q1303.7,1256.6 1299.1,1263Q1294.5,1269.4 1285.3,1272.2Q1276.2,1274.9 1268.9,1280.4Q1261.5,1285.9 1257.9,1293.2Q1254.2,1300.5 1251.5,1309.7Q1248.7,1318.9 1243.2,1339"/>
<path d="M1268.9,1047.8Q1287.2,1053.3 1292.1,1054.1Q1297,1054.9 1309.2,1057Q1321.3,1059 1326.2,1059.8Q1331.1,1060.6 1336.1,1061.1Q1341.1,1061.5 1362.3,1063.4Q1383.4,1065.2 1388.4,1065.7Q1393.4,1066.1 1398.3,1067.3Q1403.1,1068.5 1408.1,1069.8Q1413,1071 1417.9,1072.2Q1422.7,1073.4 1437.4,1071.6Q1452,1069.8 1464.8,1068.9Q1477.7,1067.9 1486.8,1072.5Q1496,1077.1 1507,1080.8Q1517.9,1084.4 1522.9,1085Q1527.9,1085.5 1534.4,1086.3Q1541,1087 1545.9,1087.5Q1550.9,1088.1 1560.1,1090.8Q1569.2,1093.6 1574.7,1100Q1580.2,1106.4 1590.1,1113.7Q1600,1121.1 1600,1121.1"/>
<path d="M1600,1388.5Q1611,1392.1 1622,1394.9Q1633,1397.6 1642.1,1391.2Q1651.3,1384.8 1660.4,1377.5Q1669.6,1370.1 1677.8,1366.5Q1686.1,1362.8 1690.7,1356.4Q1695.2,1350 1700.1,1351.2Q1704.9,1352.4 1709.9,1353.7Q1714.8,1354.9 1719.7,1356.1Q1724.5,1357.3 1730,1356.4Q1735.5,1355.5 1740.1,1344.5Q1744.7,1333.5 1746.5,1318.9Q1748.4,1304.2 1746.5,1293.2Q1744.7,1282.2 1743.2,1277.5Q1741.7,1272.7 1740.1,1267.6Q1738.5,1262.5 1737,1257.7Q1735.5,1252.9 1726.4,1243.8Q1717.2,1234.6 1706.2,1225.5Q1695.2,1216.3 1689.7,1207.1Q1684.2,1198 1686.1,1193.4Q1687.9,1188.8 1693.4,1186.1Q1698.9,1183.3 1706.2,1177.8Q1713.6,1172.3 1718.1,1165Q1722.7,1157.7 1722.7,1150.4Q1722.7,1143 1716.3,1135.7Q1709.9,1128.4 1705.3,1119.2Q1700.7,1110.1 1697.1,1100.9Q1693.4,1091.8 1690.7,1082.6Q1687.9,1073.4 1682.4,1067Q1676.9,1060.6 1667.8,1052.4Q1658.6,1044.1 1651.3,1042.3Q1644,1040.5 1644.9,1051.5Q1645.8,1062.5 1650.4,1069.8Q1654.9,1077.1 1662.3,1080.8Q1669.6,1084.4 1674.2,1091.8Q1678.8,1099.1 1677.8,1104.6Q1676.9,1110.1 1662.3,1111.9Q1647.6,1113.7 1644.9,1121.1Q1642.1,1128.4 1639.4,1135.7Q1636.6,1143 1638.4,1147.7Q1640.1,1152.4 1642.1,1157.7Q1644.1,1163 1645.9,1167.7Q1647.6,1172.3 1648.8,1177.2Q1650,1182 1651.3,1187Q1652.5,1191.9 1653.7,1196.8Q1654.9,1201.6 1654.9,1216.3Q1654.9,1231 1653.9,1235.8Q1652.8,1240.7 1651.3,1247.4Q1649.8,1254.2 1648.7,1259Q1647.6,1263.9 1646.4,1268.8Q1645.2,1273.6 1644,1278.6Q1642.7,1283.5 1641.5,1288.4Q1640.3,1293.2 1637.5,1307.9Q1634.8,1322.5 1628.4,1331.7Q1622,1340.8 1614.7,1351.8Q1607.3,1362.8 1600,1373.8"/>
<path d="M1600,1122.9Q1600,1122.9 1607.3,1128.4Q1614.7,1133.9 1622,1138.5Q1629.3,1143 1636.6,1143"/>
<path d="M2605.5,813.3Q2598.6,806.4 2597.8,798.4Q2597,790.4 2598.4,783.5Q2599.8,776.6 2604.4,770.9Q2608.9,765.2 2614.7,762.3Q2620.4,759.5 2630.7,757.2"/>
<path d="M2638.7,822.9Q2627.3,824.7 2621.5,821.3Q2615.8,817.8 2610.7,815.5Q2605.5,813.3 2600.4,815.5Q2595.2,817.8 2590.6,820.1Q2586,822.4 2580.3,825.3Q2574.6,828.1 2568.9,831Q2563.2,833.9 2556.9,835Q2550.6,836.2 2545.4,832.7Q2540.3,829.3 2534.5,827.6Q2528.8,825.9 2523.1,827.6Q2517.4,829.3 2512.8,832.7Q2508.2,836.2 2505.9,840.7Q2503.6,845.3 2503.6,849.9Q2503.6,854.5 2505.9,856.8Q2508.2,859 2515.1,858.5Q2521.9,857.9 2527.7,858.5Q2533.4,859 2539.1,862.5Q2544.8,865.9 2550.6,869.3Q2556.3,872.8 2560.9,873.9Q2565.4,875.1 2571.2,879.7Q2576.9,884.2 2581.5,888.2Q2586,892.2 2590.6,891.7Q2595.2,891.1 2599.8,887.7Q2604.4,884.2 2608.9,883.1Q2613.5,881.9 2618.1,883.1Q2622.7,884.2 2627.3,886.5Q2631.8,888.8 2638.7,891.1Q2645.6,893.4 2650.1,895.1Q2654.7,896.8 2660.4,894Q2666.2,891.1 2671.9,890Q2677.6,888.8 2683.3,889.4Q2689.1,890 2691.9,892.8Q2694.8,895.7 2694.2,901.4Q2693.6,907.1 2697.1,910Q2700.5,912.8 2706.2,911.7Q2712,910.6 2715.4,911.1Q2718.8,911.7 2720,915.1Q2721.1,918.6 2715.4,920.9Q2709.7,923.2 2706.8,925.4Q2703.9,927.7 2705.7,930Q2707.4,932.3 2713.1,931.2Q2718.8,930 2723.4,927.7Q2728,925.4 2731.4,922Q2734.9,918.6 2736,916.3Q2737.1,914 2740.6,917.4Q2744,920.9 2747.4,922Q2750.9,923.2 2755.5,922Q2760,920.9 2761.2,918.6Q2762.3,916.3 2760,912.8Q2757.7,909.4 2752,907.1Q2746.3,904.8 2739.4,904.8Q2732.6,904.8 2728,903.7Q2723.4,902.5 2728,900.3Q2732.6,898 2732.6,888.8Q2732.6,879.7 2734.9,873.9Q2737.1,868.2 2741.7,865.9Q2746.3,863.6 2755.5,861.3Q2764.6,859 2769.2,854.5Q2773.8,849.9 2776.1,843Q2778.4,836.2 2780.1,825.9Q2781.8,815.5 2780.1,807.5Q2778.4,799.5 2771.5,796.1Q2764.6,792.7 2757.7,789.2Q2750.9,785.8 2745.2,783.5Q2739.4,781.2 2732.6,782.4"/>
<path d="M1600.8,1391.8Q1575.6,1376.6 1572.5,1372.7Q1569.4,1368.8 1565.6,1364.1Q1561.7,1359.3 1558.6,1355.4Q1555.5,1351.5 1553,1338.9Q1550.5,1326.3 1540.4,1321.2Q1530.3,1316.2 1517.7,1317.2Q1505.1,1318.2 1500.1,1324.3Q1495.1,1330.3 1500.1,1340.4Q1505.1,1350.5 1509,1353.6Q1512.9,1356.7 1517.7,1360.5Q1522.5,1364.4 1526.4,1367.5Q1530.3,1370.6 1542.9,1378.2Q1555.5,1385.7 1560.2,1387.3Q1565,1388.9 1570.6,1390.8Q1576.2,1392.6 1581,1394.2Q1585.7,1395.8 1590.7,1396.4Q1595.6,1396.9 1600.8,1397.6Q1606,1398.2 1611,1398.7Q1615.9,1399.3 1638.6,1394.8"/>
<path d="M1287.1,850Q1283.8,835.7 1285.9,827.5Q1287.9,819.2 1292,812.4Q1296.2,805.5 1305.8,797.3Q1315.4,789 1323.6,783.5Q1331.9,778 1336.8,777.2Q1341.7,776.4 1348.4,775.3Q1355,774.2 1359.9,773.3Q1364.8,772.5 1375.8,778Q1386.8,783.5 1392.3,791.8Q1397.8,800 1406,811Q1414.3,822 1421.2,828.8Q1428,835.7 1440.4,842.6Q1452.7,849.5 1467.9,857.1"/>
</g>
<g id="labels" font-size="58.33" font-weight="bold" text-anchor="middle" letter-spacing="3">
<text x="966.3" y="534.7">S</text>
<text x="1173.3" y="568.4">SL</text>
<text x="1391.2" y="513.5">SL</text>
<text x="1782.8" y="701.4">S</text>
<text x="1607" y="703.2">S</text>
<text x="2856.3" y="731.6">SL</text>
<text x="3086.9" y="704.2">SL</text>
<text x="1111" y="891.1">L</text>
<text x="1107.4" y="1209.8">SL</text>
<text x="1372.9" y="1253.8">L</text>
<text x="1674.8" y="953.4">S</text>
<text x="1947.7" y="913.1">S</text>
<text x="2044.7" y="1237.3">S</text>
<text x="1694.9" y="1319.7">SL</text>
<text x="1823.1" y="1363.7">S</text>
<text x="2643.3" y="1292.2">S</text>
<text x="1975.9" y="1728.7">S</text>
<text x="372.4" y="1467.5">S</text>
<text x="3121.3" y="1911.7">L</text>
<text x="2558.6" y="761">S</text>
<text x="2671.1" y="875.5">S</text>
<text x="2392.5" y="1310.6">S</text>
</g>
</g>
<g id="texts">
<text x="129.4" y="230.5" font-size="200" font-weight="bold" font-style="italic" textLength="2009.5" lengthAdjust="spacingAndGlyphs">U.S. Drought Monitor</text>
<text x="2298.5" y="166" font-size="100" font-weight="bold" font-style="normal" textLength="875.1" lengthAdjust="spacingAndGlyphs">September 6, 2016</text>
<text x="2543.7" y="233" font-size="50" font-weight="bold" font-style="normal" textLength="383.9" lengthAdjust="spacingAndGlyphs">Valid 8 a.m. EDT</text>
<text x="133.7" y="1691" font-size="58.33" font-weight="normal" font-style="italic" textLength="232.6" lengthAdjust="spacingAndGlyphs">Intensity:</text>
<rect x="134" y="1697" width="231" height="3.5" fill="#000"/>
<rect x="135" y="1720.0" width="73" height="53.5" fill="#FFFF00" stroke="#6E6E6E" stroke-width="4"/>
<text x="248.2" y="1764.0" font-size="58.33" font-weight="normal" font-style="normal" textLength="486.9" lengthAdjust="spacingAndGlyphs">D0 Abnormally Dry</text>
<rect x="135" y="1792.7" width="73" height="53.5" fill="#FFD37F" stroke="#6E6E6E" stroke-width="4"/>
<text x="248.2" y="1836.7" font-size="58.33" font-weight="normal" font-style="normal" textLength="596.4" lengthAdjust="spacingAndGlyphs">D1 Drought - Moderate</text>
<rect x="135" y="1865.4" width="73" height="53.5" fill="#E69800" stroke="#6E6E6E" stroke-width="4"/>
<text x="248.2" y="1909.4" font-size="58.33" font-weight="normal" font-style="normal" textLength="535.4" lengthAdjust="spacingAndGlyphs">D2 Drought - Severe</text>
<rect x="135" y="1938.1" width="73" height="53.5" fill="#E60000" stroke="#6E6E6E" stroke-width="4"/>
<text x="248.2" y="1982.1" font-size="58.33" font-weight="normal" font-style="normal" textLength="567.4" lengthAdjust="spacingAndGlyphs">D3 Drought - Extreme</text>
<rect x="135" y="2010.8" width="73" height="53.5" fill="#730000" stroke="#6E6E6E" stroke-width="4"/>
<text x="248.2" y="2054.8" font-size="58.33" font-weight="normal" font-style="normal" textLength="652.7" lengthAdjust="spacingAndGlyphs">D4 Drought - Exceptional</text>
<text x="963.5" y="1718" font-size="50" font-weight="normal" font-style="italic" textLength="505.5" lengthAdjust="spacingAndGlyphs">Drought Impact Types:</text>
<rect x="964" y="1723.5" width="504" height="3" fill="#000"/>
<path d="M968,1790 C966,1768 976,1762 990,1770 C1006,1780 1022,1768 1031,1752" fill="none" stroke="#000" stroke-width="7" stroke-linecap="round"/>
<text x="1066.9" y="1791" font-size="50" font-weight="normal" font-style="normal" textLength="641.9" lengthAdjust="spacingAndGlyphs">Delineates dominant impacts</text>
<text x="963.7" y="1874" font-size="50" font-weight="normal" font-style="normal" textLength="793.1" lengthAdjust="spacingAndGlyphs">S = Short-Term, typically &lt;6 months</text>
<text x="962.9" y="1931" font-size="50" font-weight="normal" font-style="normal" textLength="632.2" lengthAdjust="spacingAndGlyphs">(e.g. agriculture, grasslands)</text>
<text x="967.9" y="2017.5" font-size="50" font-weight="normal" font-style="normal" textLength="782.9" lengthAdjust="spacingAndGlyphs">L = Long-Term, typically &gt;6 months</text>
<text x="968.9" y="2073" font-size="50" font-weight="normal" font-style="normal" textLength="548.2" lengthAdjust="spacingAndGlyphs">(e.g. hydrology, ecology)</text>
<text x="133.7" y="2194" font-size="58.33" font-weight="normal" font-style="italic" textLength="1471.6" lengthAdjust="spacingAndGlyphs">The Drought Monitor focuses on broad-scale conditions.</text>
<text x="135.2" y="2262" font-size="58.33" font-weight="normal" font-style="italic" textLength="1585.8" lengthAdjust="spacingAndGlyphs">Local conditions may vary. See accompanying text summary</text>
<text x="135.0" y="2331" font-size="58.33" font-weight="normal" font-style="italic" textLength="617.2" lengthAdjust="spacingAndGlyphs">for forecast statements.</text>
<text x="154.8" y="2453.5" font-size="75" font-weight="bold" font-style="normal" textLength="1076.0" lengthAdjust="spacingAndGlyphs">http://droughtmonitor.unl.edu/</text>
<text x="2039.7" y="2354" font-size="75" font-weight="bold" font-style="italic" textLength="1152.5" lengthAdjust="spacingAndGlyphs">Released Thursday, Sep. 8, 2016</text>
<text x="1603.6" y="2431.5" font-size="58.33" font-weight="bold" font-style="italic" textLength="1588.7" lengthAdjust="spacingAndGlyphs">Author: David Simeral, Western Regional Climate Center</text>
</g>
<g id="logos">
<rect x="1837.2" y="1996.2" width="1358" height="264.8" fill="#fff" stroke="#6E6E6E" stroke-width="3.6"/>
<text x="1937" y="2121" font-family="'Liberation Serif', 'Times New Roman', serif" font-size="99" textLength="222" lengthAdjust="spacingAndGlyphs" style="fill:#002B72;font-family:'Liberation Serif','Times New Roman',serif" stroke="#002B72" stroke-width="2.2">USDA</text>
<path d="M1940.1,2177.3 1982.4,2165.6 2023.6,2156.7 2064.8,2149.8 2106.0,2147.1 2156.9,2146.0 2156.9,2206.8 1940.1,2206.8Z" fill="#14573F"/>
<path d="M2156.9,2129.9 2119.8,2130.2 2078.6,2134.0 2037.4,2140.2 2009.9,2145.7 1982.4,2152.6 1961.8,2159.4 1944.0,2167.7 1968.7,2160.1 1996.2,2153.9 2023.6,2148.4 2064.8,2142.3 2106.0,2138.8 2156.9,2138.4Z" fill="#14573F"/>
<path d="M1940.1,2129.9 1954.9,2129.9 1982.4,2134.0 2012.0,2140.6 1989.3,2139.8 1968.7,2137.9 1940.1,2137.9Z" fill="#14573F"/>
<path d="M1940.1,2145.3 1957.7,2144.0 1975.5,2144.3 1992.0,2145.3 1968.7,2148.4 1940.1,2153.0Z" fill="#14573F"/>
<path d="M2261.3,2116.2Q2264.7,2112.0 2267.5,2111.7Q2270.2,2111.3 2273.7,2113.4Q2277.1,2115.5 2279.8,2114.4Q2282.6,2113.4 2285.3,2111.7Q2288.1,2110.0 2291.5,2111.0Q2294.9,2112.0 2300.4,2114.8" fill="none" stroke="#F26522" stroke-width="4.8" stroke-linecap="butt" stroke-linejoin="round"/>
<path d="M2300.4,2114.8 2305.9,2112.0 2312.8,2103.1 2322.4,2140.9 2331.3,2099.0 2338.9,2109.3 2347.1,2114.8" fill="none" stroke="#B5121B" stroke-width="4.8" stroke-linejoin="miter"/>
<path d="M2347.1,2114.8Q2354.0,2110.7 2358.1,2109.3Q2362.3,2107.9 2365.7,2108.9Q2369.1,2110.0 2375.3,2114.8" fill="none" stroke="#F26522" stroke-width="4.8" stroke-linecap="butt" stroke-linejoin="round"/>
<path d="M2375.3,2114.8Q2382.9,2113.4 2386.3,2111.7Q2389.7,2110.0 2393.2,2108.3Q2396.6,2106.5 2403.5,2106.5" fill="none" stroke="#FDB92E" stroke-width="4.8" stroke-linecap="butt" stroke-linejoin="round"/>
<path d="M2401.4,2106.8L2401.4,2061.2" fill="none" stroke="#FDB92E" stroke-width="4.8" stroke-linecap="butt" stroke-linejoin="round"/>
<path d="M2388.4,2067.4L2401.4,2077.7" fill="none" stroke="#FDB92E" stroke-width="4.8" stroke-linecap="butt" stroke-linejoin="round"/>
<path d="M2391.1,2083.2Q2382.9,2081.8 2380.5,2079.1Q2378.0,2076.3 2378.4,2070.8Q2378.7,2065.3 2380.1,2060.5Q2381.5,2055.7 2383.5,2054.0Q2385.6,2052.3 2389.0,2051.6Q2392.5,2050.9 2393.8,2048.8Q2395.2,2046.8 2398.0,2046.1Q2400.7,2045.4 2403.5,2046.1Q2406.2,2046.8 2410.3,2051.6" fill="none" stroke="#FDB92E" stroke-width="4.8" stroke-linecap="butt" stroke-linejoin="round"/>
<path d="M2404.1,2106.5Q2410.3,2107.2 2414.5,2109.3Q2418.6,2111.3 2422.0,2112.7Q2425.4,2114.1 2430.9,2114.1" fill="none" stroke="#7AA62A" stroke-width="4.8" stroke-linecap="butt" stroke-linejoin="round"/>
<path d="M2428.5,2114.4L2428.5,2061.2" fill="none" stroke="#7AA62A" stroke-width="4.8" stroke-linecap="butt" stroke-linejoin="round"/>
<path d="M2415.8,2067.4L2428.5,2077.7" fill="none" stroke="#7AA62A" stroke-width="4.8" stroke-linecap="butt" stroke-linejoin="round"/>
<path d="M2417.9,2083.2Q2410.3,2081.8 2408.3,2079.4Q2406.2,2077.0 2405.9,2071.2Q2405.5,2065.3 2406.6,2061.2Q2407.6,2057.1 2410.3,2055.0Q2413.1,2053.0 2416.5,2052.3Q2419.9,2051.6 2421.3,2049.5Q2422.7,2047.5 2425.4,2046.4Q2428.2,2045.4 2430.9,2046.4Q2433.7,2047.5 2437.8,2052.3" fill="none" stroke="#7AA62A" stroke-width="4.8" stroke-linecap="butt" stroke-linejoin="round"/>
<path d="M2430.9,2114.1Q2437.8,2110.7 2441.9,2108.6Q2446.0,2106.5 2450.2,2105.9Q2454.3,2105.2 2458.4,2105.9Q2462.5,2106.5 2466.6,2108.6Q2470.8,2110.7 2473.5,2111.7Q2476.3,2112.7 2483.1,2112.7" fill="none" stroke="#0B6623" stroke-width="4.8" stroke-linecap="butt" stroke-linejoin="round"/>
<path d="M2455.4,2105.2L2455.4,2061.2" fill="none" stroke="#0B6623" stroke-width="4.8" stroke-linecap="butt" stroke-linejoin="round"/>
<path d="M2442.6,2067.4Q2455.4,2077.7 2455.4,2077.7Q2455.4,2077.7 2468.7,2066.7" fill="none" stroke="#0B6623" stroke-width="4.8" stroke-linecap="butt" stroke-linejoin="round"/>
<path d="M2442.6,2067.4 2455.4,2077.7 2468.7,2066.7" fill="none" stroke="#0B6623" stroke-width="4.8"/>
<path d="M2446.0,2083.2Q2437.8,2081.8 2435.4,2079.1Q2433.0,2076.3 2433.3,2070.8Q2433.7,2065.3 2434.4,2061.2Q2435.1,2057.1 2437.1,2055.4Q2439.2,2053.7 2442.6,2052.6Q2446.0,2051.6 2447.4,2049.5Q2448.8,2047.5 2451.9,2046.4Q2455.0,2045.4 2458.1,2046.1Q2461.2,2046.8 2463.2,2049.2Q2465.3,2051.6 2468.7,2052.6Q2472.1,2053.7 2474.2,2056.1Q2476.3,2058.5 2477.0,2062.6Q2477.6,2066.7 2478.3,2070.8Q2479.0,2074.9 2477.0,2078.0Q2474.9,2081.1 2465.3,2083.5" fill="none" stroke="#0B6623" stroke-width="4.8" stroke-linecap="butt" stroke-linejoin="round"/>
<text x="2334.5" y="2138.8" font-size="23.5" font-weight="bold" textLength="99.0" lengthAdjust="spacingAndGlyphs">National</text>
<text x="2334.6" y="2168" font-size="23.5" font-weight="bold" textLength="91.9" lengthAdjust="spacingAndGlyphs">Drought</text>
<text x="2334.6" y="2197" font-size="23.5" font-weight="bold" textLength="115.8" lengthAdjust="spacingAndGlyphs">Mitigation</text>
<text x="2335.2" y="2225.6" font-size="23.5" font-weight="bold" textLength="78.4" lengthAdjust="spacingAndGlyphs">Center</text>
<circle cx="2681" cy="2133" r="110.6" fill="#0A94D6"/><circle cx="2681" cy="2133" r="88.3" fill="#fff"/>
<path id="docTop" d="M2590.77,2112.17A92.6,92.6 0 0 1 2771.23,2112.17" fill="none"/>
<text font-size="19.5" font-weight="bold" style="fill:#fff"><textPath href="#docTop" textLength="248.9" lengthAdjust="spacingAndGlyphs">DEPARTMENT OF COMMERCE</textPath></text>
<path id="docBot" d="M2579.06,2164.17A106.6,106.6 0 0 0 2782.94,2164.17" fill="none"/>
<text font-size="19.5" font-weight="bold" style="fill:#fff"><textPath href="#docBot" textLength="271.6" lengthAdjust="spacingAndGlyphs">UNITED STATES OF AMERICA</textPath></text>
<text x="2581" y="2139" font-size="15" text-anchor="middle" style="fill:#fff">★</text><text x="2781.5" y="2139" font-size="15" text-anchor="middle" style="fill:#fff">★</text>
<clipPath id="shield"><path d="M2631.3,2112.1 2729.8,2112.1 2727.0,2118.0 2723.4,2120.2 2723.4,2180.6 2719.2,2190.5 2681.1,2209.0 2642.4,2190.5 2637.8,2180.6 2637.8,2120.2 2634.6,2118.0Z"/></clipPath>
<g clip-path="url(#shield)"><rect x="2620" y="2100" width="130" height="57.1" fill="#0A94D6"/><rect x="2620" y="2157.1" width="130" height="70" fill="#F5C842"/>
<path d="M2649.5,2137.9 2670.8,2120.9 2673.7,2119.5 2692.1,2120.2 2703.5,2123.7 2710.6,2143.6 2706.4,2150.7 2663.7,2150.7Z" fill="#fff" stroke="#222" stroke-width="1"/>
<path d="M2652.3,2145.0 2710.6,2145.7 2704.9,2151.4 2663.7,2151.4Z" fill="#888"/>
<path d="M2677.2,2160.7 2682.9,2160.7 2684.3,2197.6 2695.0,2201.2 2681.1,2209.0 2665.1,2201.2 2675.8,2197.6Z" fill="#9a9a9a" stroke="#555" stroke-width="0.8"/></g>
<path d="M2631.3,2112.1 2729.8,2112.1 2727.0,2118.0 2723.4,2120.2 2723.4,2180.6 2719.2,2190.5 2681.1,2209.0 2642.4,2190.5 2637.8,2180.6 2637.8,2120.2 2634.6,2118.0Z" fill="none" stroke="#000" stroke-width="1.6"/><rect x="2631.3" y="2111.5" width="98.5" height="3.2" fill="#000"/>
<path d="M2651.2,2057.6 2663.7,2065.4 2672.2,2076.8 2677.9,2074.0 2683.6,2072.5 2688.6,2075.4 2692.1,2072.5 2700.7,2065.4 2711.3,2059.8 2707.8,2074.0 2697.8,2086.8 2690.7,2095.3 2692.1,2103.8 2672.2,2103.8 2673.7,2095.3 2666.6,2086.8 2656.6,2072.5Z" fill="#D9A520" stroke="#7a5a10" stroke-width="1"/>
<path d="M2677.2,2073.3 2683.6,2071.8 2688.6,2075.4 2686.5,2081.1 2679.4,2080.4Z" fill="#fff"/>
<rect x="2662.3" y="2104.1" width="38.4" height="4" fill="#777"/>
<clipPath id="noaac"><circle cx="2990" cy="2134.7" r="95.3"/></clipPath>
<g clip-path="url(#noaac)"><circle cx="2990" cy="2134.7" r="95.3" fill="#0085CA"/>
<path d="M2888.4,2106.7 2897.0,2109.5 2905.5,2112.3 2916.9,2123.7 2928.2,2136.5 2942.4,2146.5 2959.5,2155.0 2973.7,2158.5 2987.9,2160.0 2973.7,2166.4 2959.5,2172.8 2965.2,2175.6 2980.8,2173.5 2995.0,2167.8 3013.5,2160.7 3023.5,2157.8 3032.7,2155.7 3027.7,2152.9 3010.7,2152.1 3023.5,2146.5 3037.7,2135.1 3051.9,2119.5 3066.1,2102.4 3075.4,2093.9 3094.5,2081.1 3094.5,2024.2 2888.4,2024.2Z" fill="#fff"/>
<path d="M2912.6,2079.7 2922.5,2085.3 2933.9,2093.9 2948.1,2112.3 2959.5,2129.4 2972.3,2140.8 2982.2,2149.3 2995.0,2152.1 3009.3,2147.9 3020.6,2137.9 3030.6,2120.9 3040.5,2101.0 3050.5,2086.8 3064.7,2076.8 3064.7,2024.2 2912.6,2024.2Z" fill="#00148C"/></g>
<text x="2947.0" y="2101.7" font-size="35" font-weight="bold" style="fill:#fff" textLength="80.8" lengthAdjust="spacingAndGlyphs">NOAA</text>
<path id="noaaTop" d="M2894.88,2167.45A100.6,100.6 0 1 1 3085.12,2167.45" fill="none"/>
<text font-size="12" style="fill:#00148C" stroke="#00148C" stroke-width="0.3"><textPath href="#noaaTop" textLength="382.8" lengthAdjust="spacing">NATIONAL OCEANIC AND ATMOSPHERIC ADMINISTRATION</textPath></text>
<path id="noaaBot" d="M2895.08,2189.50A109.6,109.6 0 0 0 3084.92,2189.50" fill="none"/>
<text font-size="12" style="fill:#00148C" stroke="#00148C" stroke-width="0.3"><textPath href="#noaaBot" textLength="229.5" lengthAdjust="spacing">U.S. DEPARTMENT OF COMMERCE</textPath></text>
</g>
</svg></body></html>
